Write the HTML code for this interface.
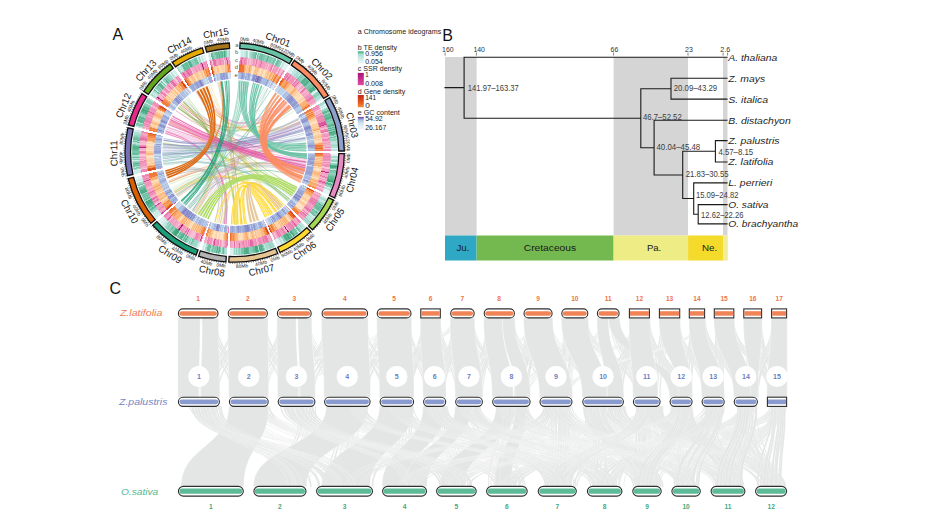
<!DOCTYPE html>
<html><head><meta charset="utf-8"><title>Figure</title><style>
*{margin:0;padding:0;box-sizing:border-box}
html,body{width:926px;height:521px;overflow:hidden;background:#fff}
body{position:relative;font-family:"Liberation Sans",Arial,sans-serif}
.trk{position:absolute;border-radius:50%}
svg{position:absolute;left:0;top:0}
.cn{font-size:9.8px;text-anchor:middle;fill:#151515}
.tk{font-size:4.8px;text-anchor:middle;fill:#222}
.tl{font-size:5.8px;text-anchor:middle;fill:#555;dominant-baseline:central}
.lg{font-size:8px;fill:#1a1a1a}
.lv{font-size:8px;fill:#1a1a1a}
.pl{font-size:16px;fill:#111}
.tick{font-size:7.6px;fill:#333}
.era{font-size:9.6px;fill:#1a1a1a}
.nl{font-size:8.3px;fill:#3c3c3c}
.sp{font-size:9.4px;font-style:italic;fill:#1e1e1e}
.spc{font-size:9.8px;font-style:italic}
.nlat{font-size:6.6px;text-anchor:middle;fill:#ee7548;font-weight:bold}
.npal{font-size:7px;text-anchor:middle;fill:#6b80c4;font-weight:bold}
.nsat{font-size:6.6px;text-anchor:middle;fill:#45a880;font-weight:bold}
.tb{left:131.80px;top:49.60px;width:205.80px;height:205.80px;background:conic-gradient(transparent 0.00deg 2.80deg,#e2f4f4 2.80deg 3.40deg,#ccebe8 3.40deg 4.00deg,#cbebe7 4.00deg 4.60deg,#d7efed 4.60deg 5.20deg,#c3e7e2 5.20deg 5.80deg,#c2e7e2 5.80deg 6.40deg,#9cd6c7 6.40deg 7.00deg,#b2e0d6 7.00deg 7.60deg,#e2f4f4 7.60deg 8.20deg,#bfe6e0 8.20deg 8.80deg,#a2d9cb 8.80deg 9.40deg,#9bd5c5 9.40deg 10.00deg,#8aceb9 10.00deg 10.60deg,#77c5aa 10.60deg 11.20deg,#7cc7ad 11.20deg 11.80deg,#64bc9a 11.80deg 12.40deg,#c6e9e4 12.40deg 13.00deg,#6dc0a2 13.00deg 13.60deg,#9dd6c7 13.60deg 14.20deg,#71c2a5 14.20deg 14.80deg,#72c2a5 14.80deg 15.40deg,#66bd9c 15.40deg 16.00deg,#82cab3 16.00deg 16.60deg,#7ac6ac 16.60deg 17.20deg,#8aceb9 17.20deg 17.80deg,#92d1bf 17.80deg 18.40deg,#7ac6ac 18.40deg 19.00deg,#57b490 19.00deg 19.60deg,#8dcfbb 19.60deg 20.20deg,#83cab3 20.20deg 20.80deg,#80c9b1 20.80deg 21.40deg,#8dcfbb 21.40deg 22.00deg,#8ccfbb 22.00deg 22.60deg,#7ac6ac 22.60deg 23.20deg,#77c5aa 23.20deg 23.80deg,#d2eeeb 23.80deg 24.40deg,#7cc7ae 24.40deg 25.00deg,#6bbfa0 25.00deg 25.60deg,#7fc8b0 25.60deg 26.20deg,#8dcfbc 26.20deg 26.80deg,#95d3c1 26.80deg 27.40deg,#e2f4f4 27.40deg 28.00deg,#bfe6e0 28.00deg 28.60deg,#c9eae6 28.60deg 29.20deg,#e2f4f4 29.20deg 30.40deg,#dff3f2 30.40deg 31.00deg,#e2f4f4 31.00deg 31.60deg,transparent 31.60deg 32.90deg,#ddf2f1 32.90deg 33.50deg,#dbf1f0 33.50deg 34.10deg,#ceece8 34.10deg 34.70deg,#e2f4f4 34.70deg 35.30deg,#c3e8e3 35.30deg 35.90deg,#bde5de 35.90deg 36.50deg,#c2e7e1 36.50deg 37.10deg,#b1e0d6 37.10deg 37.70deg,#acddd2 37.70deg 38.30deg,#b2e0d6 38.30deg 38.90deg,#9dd6c7 38.90deg 39.50deg,#c4e8e3 39.50deg 40.10deg,#74c4a8 40.10deg 40.70deg,#92d1bf 40.70deg 41.30deg,#7cc7ae 41.30deg 41.90deg,#94d2c1 41.90deg 42.50deg,#8dcfbb 42.50deg 43.10deg,#55b38e 43.10deg 43.70deg,#54b28d 43.70deg 44.30deg,#5cb894 44.30deg 44.90deg,#63bb9a 44.90deg 45.50deg,#50af89 45.50deg 46.10deg,#5eb996 46.10deg 46.70deg,#80c9b1 46.70deg 47.30deg,#8cceba 47.30deg 47.90deg,#75c4a8 47.90deg 48.50deg,#6fc1a3 48.50deg 49.10deg,#74c3a7 49.10deg 49.70deg,#55b38e 49.70deg 50.30deg,#51b08a 50.30deg 50.90deg,#48a981 50.90deg 51.50deg,#69be9e 51.50deg 52.10deg,#d9f0ef 52.10deg 52.70deg,#e2f4f4 52.70deg 53.30deg,#b0dfd5 53.30deg 53.90deg,#89cdb8 53.90deg 54.50deg,#8ecfbc 54.50deg 55.10deg,#90d1be 55.10deg 55.70deg,#b1dfd6 55.70deg 56.30deg,#abddd2 56.30deg 56.90deg,#b2e0d6 56.90deg 57.50deg,#ccebe8 57.50deg 58.10deg,#e2f4f4 58.10deg 58.70deg,transparent 58.70deg 60.00deg,#a8dccf 60.00deg 60.60deg,#a9dcd0 60.60deg 61.19deg,#b8e3db 61.19deg 61.79deg,#e2f4f4 61.79deg 62.38deg,#c5e8e3 62.38deg 62.98deg,#e2f4f4 62.98deg 63.58deg,#bee5df 63.58deg 64.17deg,#94d2c0 64.17deg 64.77deg,#8fd0bd 64.77deg 65.36deg,#66bd9c 65.36deg 65.96deg,#59b591 65.96deg 66.56deg,#94d2c0 66.56deg 67.15deg,#77c5aa 67.15deg 67.75deg,#5db895 67.75deg 68.34deg,#6bbfa0 68.34deg 68.94deg,#5ab792 68.94deg 69.53deg,#4ead87 69.53deg 70.13deg,#63bb99 70.13deg 70.73deg,#87ccb7 70.73deg 71.32deg,#6cc0a1 71.32deg 71.92deg,#96d3c2 71.92deg 72.51deg,#80c9b1 72.51deg 73.71deg,#5ab692 73.71deg 74.30deg,#58b590 74.30deg 74.90deg,#8aceb9 74.90deg 75.49deg,#5ab792 75.49deg 76.09deg,#85cbb5 76.09deg 76.69deg,#58b590 76.69deg 77.28deg,#81cab2 77.28deg 77.88deg,#44a67d 77.88deg 78.47deg,#5bb793 78.47deg 79.07deg,#57b490 79.07deg 79.67deg,#77c4a9 79.67deg 80.26deg,#aeded3 80.26deg 80.86deg,#70c1a4 80.86deg 81.45deg,#a6dbce 81.45deg 82.05deg,#91d1be 82.05deg 82.64deg,#92d2bf 82.64deg 83.24deg,#b8e3db 83.24deg 83.84deg,#bce5de 83.84deg 84.43deg,#bfe6e0 84.43deg 85.03deg,#abddd2 85.03deg 85.62deg,#a1d8ca 85.62deg 86.22deg,#b1e0d6 86.22deg 86.82deg,#a7dbcf 86.82deg 87.41deg,#e2f4f4 87.41deg 88.01deg,#bce4de 88.01deg 88.60deg,#bbe4dd 88.60deg 89.20deg,transparent 89.20deg 90.60deg,#e2f4f4 90.60deg 91.19deg,#d8f0ee 91.19deg 91.79deg,#acddd2 91.79deg 92.38deg,#a1d8ca 92.38deg 92.98deg,#d1edea 92.98deg 93.57deg,#b3e1d8 93.57deg 94.17deg,#94d2c0 94.17deg 94.77deg,#8ed0bc 94.77deg 95.36deg,#e2f4f4 95.36deg 95.95deg,#94d3c1 95.95deg 96.55deg,#8ed0bc 96.55deg 97.14deg,#54b28d 97.14deg 97.74deg,#3fa178 97.74deg 98.33deg,#4bab84 98.33deg 98.93deg,#75c4a8 98.93deg 99.52deg,#c0e7e1 99.53deg 100.12deg,#6fc1a3 100.12deg 100.72deg,#83cab3 100.72deg 101.31deg,#78c5aa 101.31deg 101.91deg,#9bd6c6 101.91deg 102.50deg,#89cdb9 102.50deg 103.09deg,#7fc8b0 103.09deg 103.69deg,#68be9e 103.69deg 104.28deg,#63bb99 104.28deg 104.88deg,#5eb995 104.88deg 105.47deg,#57b48f 105.47deg 106.07deg,#45a67e 106.07deg 106.67deg,#3da077 106.67deg 107.26deg,#9ed7c8 107.26deg 107.86deg,#58b590 107.86deg 108.45deg,#59b591 108.45deg 109.05deg,#87ccb6 109.05deg 109.64deg,#87ccb7 109.64deg 110.23deg,#e0f3f3 110.23deg 110.83deg,#b5e1d9 110.83deg 111.43deg,#bae4dc 111.43deg 112.02deg,#e2f4f4 112.02deg 114.40deg,transparent 114.40deg 115.70deg,#e2f4f4 115.70deg 116.89deg,#bbe4dd 116.89deg 117.49deg,#a7dbcf 117.49deg 118.09deg,#afdfd4 118.09deg 118.68deg,#c8eae5 118.68deg 119.28deg,#bce5de 119.28deg 119.88deg,#a0d8ca 119.88deg 120.48deg,#9ed7c8 120.48deg 121.07deg,#5cb894 121.07deg 121.67deg,#81c9b2 121.67deg 122.27deg,#6cbfa0 122.27deg 122.86deg,#68bd9d 122.86deg 123.46deg,#6cc0a1 123.46deg 124.06deg,#60ba97 124.06deg 124.65deg,#8aceb9 124.65deg 125.25deg,#aeded4 125.25deg 125.85deg,#60ba97 125.85deg 126.44deg,#7fc9b0 126.44deg 127.04deg,#8bceba 127.04deg 127.64deg,#69be9f 127.64deg 128.23deg,#7dc8af 128.23deg 128.83deg,#d1edea 128.83deg 130.03deg,#aeded4 130.03deg 130.62deg,#cdebe8 130.62deg 131.22deg,#a8dccf 131.22deg 131.82deg,#c2e7e2 131.82deg 132.41deg,#88cdb7 132.41deg 133.01deg,#aeded3 133.01deg 133.61deg,#92d1bf 133.61deg 134.20deg,#b2e0d6 134.20deg 134.80deg,transparent 134.80deg 136.20deg,#d8f0ee 136.20deg 136.81deg,#b9e3db 136.81deg 137.41deg,#c3e8e2 137.41deg 138.02deg,#a1d8ca 138.02deg 138.62deg,#ceece9 138.62deg 139.23deg,#a2d9cb 139.23deg 139.84deg,#8bceba 139.84deg 140.44deg,#64bc9a 140.44deg 141.05deg,#cbebe7 141.05deg 141.66deg,#86ccb6 141.66deg 142.26deg,#68be9e 142.26deg 142.87deg,#7dc8af 142.87deg 143.47deg,#75c4a8 143.47deg 144.08deg,#58b590 144.08deg 144.69deg,#47a881 144.69deg 145.29deg,#95d3c1 145.29deg 145.90deg,#55b28d 145.90deg 146.51deg,#6dc0a1 146.51deg 147.11deg,#44a57d 147.11deg 147.72deg,#4bab84 147.72deg 148.32deg,#58b590 148.32deg 148.93deg,#50af88 148.93deg 149.54deg,#56b38e 149.54deg 150.14deg,#9ad5c5 150.14deg 150.75deg,#89cdb8 150.75deg 151.36deg,#d4efec 151.36deg 151.96deg,#bae4dc 151.96deg 152.57deg,#b7e2da 152.57deg 153.17deg,#d4eeec 153.17deg 153.78deg,#e2f4f4 153.78deg 154.39deg,#dcf2f1 154.39deg 154.99deg,#daf1ef 154.99deg 155.60deg,transparent 155.60deg 156.90deg,#bbe4dd 156.90deg 157.50deg,#9ad5c5 157.50deg 158.09deg,#a4dacd 158.09deg 158.69deg,#97d4c3 158.69deg 159.28deg,#95d3c1 159.28deg 159.88deg,#a9dcd0 159.88deg 160.47deg,#aeded3 160.47deg 161.07deg,#a2d9cb 161.07deg 161.66deg,#b2e0d6 161.66deg 162.26deg,#bbe4dd 162.26deg 162.85deg,#8dcfbb 162.85deg 163.45deg,#68be9e 163.45deg 164.05deg,#4bab84 164.05deg 164.64deg,#58b590 164.64deg 165.24deg,#4fae88 165.24deg 165.83deg,#afdfd5 165.83deg 166.43deg,#51b08a 166.43deg 167.02deg,#44a67e 167.02deg 167.62deg,#48a881 167.62deg 168.21deg,#69be9e 168.21deg 168.81deg,#69be9f 168.81deg 169.40deg,#7cc7ae 169.40deg 170.00deg,#85cbb5 170.00deg 170.60deg,#89cdb8 170.60deg 171.19deg,#8bceba 171.19deg 171.79deg,#59b692 171.79deg 172.38deg,#4fae88 172.38deg 172.98deg,#4dad86 172.98deg 173.57deg,#53b18c 173.57deg 174.17deg,#52b08b 174.17deg 174.76deg,#7ac6ac 174.76deg 175.36deg,#72c2a5 175.36deg 175.95deg,#7ac6ac 175.95deg 176.55deg,#a0d8c9 176.55deg 177.15deg,#8bceba 177.15deg 177.74deg,#9bd5c6 177.74deg 178.34deg,#b3e1d8 178.34deg 178.93deg,#90d0be 178.93deg 179.53deg,#bae4dc 179.53deg 180.12deg,#9bd6c6 180.12deg 180.72deg,#c8eae5 180.72deg 181.31deg,#dcf2f1 181.31deg 181.91deg,#dbf1f0 181.91deg 182.50deg,#d9f0ef 182.50deg 183.10deg,transparent 183.10deg 184.60deg,#b2e0d6 184.60deg 185.21deg,#b7e2da 185.21deg 185.82deg,#9ed7c8 185.82deg 186.42deg,#67bd9d 186.42deg 187.03deg,#88cdb8 187.03deg 187.64deg,#b5e2d9 187.64deg 188.25deg,#80c9b1 188.25deg 188.86deg,#4dad86 188.86deg 189.47deg,#82cab3 189.47deg 190.07deg,#4aaa83 190.07deg 190.68deg,#7fc9b1 190.68deg 191.29deg,#73c3a7 191.29deg 191.90deg,#8ccfbb 191.90deg 192.51deg,#6ec1a3 192.51deg 193.12deg,#89cdb8 193.12deg 193.72deg,#a5dacd 193.72deg 194.33deg,#67bd9d 194.33deg 194.94deg,#6bbfa0 194.94deg 195.55deg,#6fc1a3 195.55deg 196.16deg,#9fd7c9 196.16deg 196.77deg,#abddd1 196.77deg 197.37deg,#e2f4f4 197.38deg 197.98deg,#ccebe8 197.98deg 198.59deg,#e0f3f3 198.59deg 199.20deg,transparent 199.20deg 200.60deg,#e2f4f4 200.60deg 201.20deg,#d3eeec 201.20deg 201.81deg,#b9e3db 201.81deg 202.41deg,#a0d8ca 202.41deg 203.02deg,#a1d8ca 203.02deg 204.23deg,#9ad5c5 204.23deg 204.83deg,#8dcfbb 204.83deg 205.43deg,#6ec0a2 205.43deg 206.04deg,#afded4 206.04deg 206.64deg,#82cab2 206.64deg 207.25deg,#bbe4dd 207.25deg 207.85deg,#91d1be 207.85deg 208.46deg,#8fd0bd 208.46deg 209.06deg,#59b691 209.06deg 209.67deg,#88cdb8 209.67deg 210.27deg,#65bc9b 210.27deg 210.87deg,#98d4c4 210.87deg 211.48deg,#55b38e 211.48deg 212.08deg,#54b28d 212.08deg 212.69deg,#68bd9d 212.69deg 213.29deg,#7ac6ac 213.29deg 213.90deg,#68be9d 213.90deg 214.50deg,#aeded4 214.50deg 215.10deg,#48a981 215.10deg 215.71deg,#42a47c 215.71deg 216.31deg,#3fa279 216.31deg 216.92deg,#4dad86 216.92deg 217.52deg,#56b48f 217.52deg 218.13deg,#87ccb7 218.13deg 218.73deg,#91d1be 218.73deg 219.33deg,#6cbfa1 219.33deg 219.94deg,#85cbb5 219.94deg 220.54deg,#9dd7c8 220.54deg 221.15deg,#87ccb7 221.15deg 221.75deg,#8bceba 221.75deg 222.36deg,#a0d8c9 222.36deg 222.96deg,#90d0bd 222.96deg 223.57deg,#c3e7e2 223.57deg 224.17deg,#c6e9e4 224.17deg 224.77deg,#c7e9e5 224.77deg 225.38deg,#e2f4f4 225.38deg 225.98deg,#cfece9 225.98deg 226.59deg,#e2f4f4 226.59deg 227.80deg,#ceece9 227.80deg 228.40deg,transparent 228.40deg 229.80deg,#cbebe7 229.80deg 230.40deg,#d8f0ee 230.40deg 231.00deg,#c9eae6 231.00deg 232.20deg,#caeae6 232.20deg 232.80deg,#d1edea 232.80deg 233.40deg,#bce5de 233.40deg 234.00deg,#9dd6c7 234.00deg 234.60deg,#90d0be 234.60deg 235.20deg,#71c2a5 235.20deg 235.80deg,#59b691 235.80deg 236.40deg,#8fd0bd 236.40deg 237.00deg,#5bb793 237.00deg 237.60deg,#5db895 237.60deg 238.20deg,#5ab692 238.20deg 238.80deg,#4aaa83 238.80deg 240.60deg,#3c9f76 240.60deg 241.20deg,#96d3c2 241.20deg 241.80deg,#60ba97 241.80deg 242.40deg,#75c4a8 242.40deg 243.00deg,#81cab2 243.00deg 243.60deg,#63bb99 243.60deg 244.20deg,#87ccb6 244.20deg 244.80deg,#6ec0a2 244.80deg 245.40deg,#92d1bf 245.40deg 246.00deg,#4bab84 246.00deg 246.60deg,#4ead87 246.60deg 247.20deg,#50af89 247.20deg 247.80deg,#58b590 247.80deg 248.40deg,#65bc9b 248.40deg 249.00deg,#71c2a5 249.00deg 249.60deg,#78c5ab 249.60deg 250.20deg,#cdece8 250.20deg 250.80deg,#70c1a4 250.80deg 251.40deg,#98d4c4 251.40deg 252.00deg,#a3d9cb 252.00deg 252.60deg,#e2f4f4 252.60deg 253.20deg,#cfece9 253.20deg 253.80deg,#caeae6 253.80deg 254.40deg,#e1f4f4 254.40deg 255.00deg,#e2f4f4 255.00deg 255.60deg,#dff3f2 255.60deg 256.20deg,transparent 256.20deg 257.80deg,#cbebe7 257.80deg 258.40deg,#cdece8 258.40deg 259.00deg,#c3e7e2 259.00deg 259.60deg,#e0f3f3 259.60deg 260.20deg,#96d3c2 260.20deg 260.80deg,#7dc8af 260.80deg 261.40deg,#aeded4 261.40deg 262.00deg,#69be9f 262.00deg 262.60deg,#78c5ab 262.60deg 263.20deg,#58b590 263.20deg 263.80deg,#7fc8b0 263.80deg 264.40deg,#9cd6c6 264.40deg 265.00deg,#c8eae5 265.00deg 265.60deg,#89cdb9 265.60deg 266.20deg,#b2e0d6 266.20deg 266.80deg,#64bc9a 266.80deg 267.40deg,#9fd7c8 267.40deg 268.00deg,#afdfd4 268.00deg 268.60deg,#70c1a4 268.60deg 269.20deg,#61ba98 269.20deg 269.80deg,#78c5aa 269.80deg 270.40deg,#76c4a9 270.40deg 271.00deg,#6abfa0 271.00deg 271.60deg,#5fb996 271.60deg 272.20deg,#53b18b 272.20deg 273.40deg,#5ab692 273.40deg 274.00deg,#82cab2 274.00deg 274.60deg,#abddd1 274.60deg 275.20deg,#bee5df 275.20deg 275.80deg,#65bc9b 275.80deg 276.40deg,#a0d8c9 276.40deg 277.00deg,#62bb98 277.00deg 277.60deg,#6ec0a2 277.60deg 278.20deg,#70c2a4 278.20deg 278.80deg,#86ccb6 278.80deg 279.40deg,#98d4c4 279.40deg 280.00deg,#a2d9cb 280.00deg 280.60deg,#added3 280.60deg 281.20deg,#aeded4 281.20deg 281.80deg,#d1edea 281.80deg 282.40deg,#c7e9e5 282.40deg 283.00deg,transparent 283.00deg 284.50deg,#c5e8e3 284.50deg 285.10deg,#98d4c4 285.10deg 285.69deg,#81cab2 285.69deg 286.29deg,#79c6ab 286.29deg 286.89deg,#aeded3 286.89deg 287.48deg,#64bc9b 287.48deg 288.08deg,#56b48f 288.08deg 288.68deg,#5cb894 288.68deg 289.27deg,#6dc0a1 289.27deg 289.87deg,#57b490 289.87deg 290.47deg,#67bd9d 290.47deg 291.06deg,#92d1bf 291.06deg 292.26deg,#88cdb7 292.26deg 292.85deg,#6bbfa0 292.85deg 293.45deg,#4bab84 293.45deg 294.05deg,#53b18b 294.05deg 294.64deg,#40a279 294.64deg 295.24deg,#58b590 295.24deg 295.84deg,#5db995 295.84deg 296.43deg,#56b38e 296.43deg 297.03deg,#75c4a8 297.03deg 297.63deg,#88ccb7 297.63deg 298.22deg,#86ccb5 298.22deg 298.82deg,#cdece8 298.82deg 299.42deg,#8ccfbb 299.42deg 300.61deg,#8aceb9 300.61deg 301.21deg,#a1d8ca 301.21deg 301.80deg,#c1e7e1 301.80deg 302.40deg,transparent 302.40deg 303.90deg,#c2e7e2 303.90deg 304.51deg,#a3d9cb 304.51deg 305.11deg,#cbebe7 305.11deg 305.72deg,#c6e9e4 305.72deg 306.32deg,#bde5df 306.32deg 306.93deg,#a5dacd 306.93deg 307.54deg,#67bd9d 307.54deg 308.14deg,#c4e8e3 308.14deg 308.75deg,#84cbb4 308.75deg 309.35deg,#88cdb7 309.35deg 309.96deg,#7ac6ac 309.96deg 310.57deg,#8ed0bc 310.57deg 311.17deg,#4aaa83 311.17deg 311.78deg,#64bc9b 311.78deg 312.38deg,#5cb894 312.38deg 312.99deg,#bae4dc 312.99deg 313.60deg,#75c4a8 313.60deg 314.20deg,#d2eeeb 314.20deg 314.81deg,#8ed0bc 314.81deg 315.42deg,#96d3c2 315.42deg 316.02deg,#57b590 316.02deg 316.63deg,#90d0be 316.63deg 317.23deg,#76c4a9 317.23deg 317.84deg,#98d4c3 317.84deg 318.45deg,#97d4c3 318.45deg 319.05deg,#a7dbcf 319.05deg 319.66deg,#abddd2 319.66deg 320.26deg,#d5efed 320.26deg 320.87deg,#b2e0d7 320.87deg 321.48deg,#cbebe7 321.48deg 322.08deg,#e2f4f4 322.08deg 322.69deg,#d6efed 322.69deg 323.29deg,#d3eeeb 323.29deg 323.90deg,transparent 323.90deg 325.30deg,#97d4c3 325.30deg 325.90deg,#abddd2 325.90deg 326.51deg,#c8eae5 326.51deg 327.11deg,#c1e7e1 327.11deg 327.71deg,#b6e2d9 327.71deg 328.32deg,#72c2a6 328.32deg 328.92deg,#5bb793 328.92deg 329.52deg,#72c2a6 329.52deg 330.13deg,#6abe9f 330.13deg 330.73deg,#64bc9a 330.73deg 331.33deg,#65bc9b 331.33deg 331.94deg,#8ccfbb 331.94deg 332.54deg,#49a982 332.54deg 333.14deg,#53b18b 333.14deg 333.75deg,#7ac6ac 333.75deg 334.35deg,#91d1bf 334.35deg 334.96deg,#8dcfbb 334.96deg 335.56deg,#88cdb7 335.56deg 336.16deg,#78c5aa 336.16deg 336.77deg,#72c2a5 336.77deg 337.37deg,#7ac6ac 337.37deg 337.97deg,#cfece9 337.97deg 338.58deg,#9dd6c7 338.58deg 339.18deg,#a3d9cc 339.18deg 339.78deg,#e2f4f4 339.78deg 340.39deg,#bde5de 340.39deg 340.99deg,#d5efed 340.99deg 341.59deg,#e2f4f4 341.59deg 342.20deg,#d8f0ef 342.20deg 342.80deg,transparent 342.80deg 344.40deg,#e2f4f4 344.40deg 345.01deg,#bae4dc 345.01deg 345.62deg,#e0f3f3 345.62deg 346.23deg,#5cb894 346.23deg 346.84deg,#6bbfa0 346.84deg 347.45deg,#8ecfbc 347.45deg 348.06deg,#8bceba 348.06deg 348.67deg,#6fc1a3 348.67deg 349.28deg,#64bc9a 349.28deg 349.89deg,#72c2a5 349.89deg 350.50deg,#54b28c 350.50deg 351.10deg,#74c3a8 351.10deg 351.71deg,#66bc9c 351.71deg 352.32deg,#5ab792 352.32deg 352.93deg,#83cab4 352.93deg 353.54deg,#4aaa83 353.54deg 354.15deg,#74c3a7 354.15deg 354.76deg,#88cdb8 354.76deg 355.37deg,#c0e6e1 355.37deg 355.98deg,#b9e3dc 355.98deg 356.59deg,#9ad5c5 356.59deg 357.20deg,transparent 357.20deg 360.00deg)}
.tc{left:138.80px;top:56.60px;width:191.80px;height:191.80px;background:conic-gradient(transparent 0.00deg 2.80deg,#f39fc1 2.80deg 3.40deg,#e978ad 3.40deg 4.00deg,#db579f 4.00deg 4.60deg,#ef8fb8 4.60deg 5.20deg,#f39dc0 5.20deg 5.80deg,#ed86b3 5.80deg 6.40deg,#ef8eb7 6.40deg 7.00deg,#f196bc 7.00deg 7.60deg,#f9c8d8 7.60deg 8.20deg,#f5acc8 8.20deg 8.80deg,#f7bdd2 8.80deg 9.40deg,#f8c0d4 9.40deg 10.00deg,#f5abc7 10.00deg 10.60deg,#f6b5cd 10.60deg 11.20deg,#f093ba 11.20deg 11.80deg,#f29bbf 11.80deg 12.40deg,#f5adc9 12.40deg 13.00deg,#ec81b0 13.00deg 13.60deg,#f4a3c3 13.60deg 14.20deg,#f5adc9 14.20deg 14.80deg,#f29cbf 14.80deg 15.40deg,#f091b9 15.40deg 16.00deg,#e878ac 16.00deg 16.60deg,#f29abe 16.60deg 17.20deg,#f29bbe 17.20deg 17.80deg,#f3a1c2 17.80deg 18.40deg,#f3a0c1 18.40deg 19.00deg,#f4a3c3 19.00deg 19.60deg,#f6b2cc 19.60deg 20.20deg,#f4a6c5 20.20deg 20.80deg,#f8c2d4 20.80deg 21.40deg,#f5a8c6 21.40deg 22.00deg,#f4a6c5 22.00deg 22.60deg,#ef8fb8 22.60deg 23.20deg,#e978ad 23.20deg 23.80deg,#f9c7d7 23.80deg 24.40deg,#f091b9 24.40deg 25.00deg,#f3a0c1 25.00deg 25.60deg,#f39fc1 25.60deg 26.20deg,#f194bb 26.20deg 26.80deg,#f3a1c2 26.80deg 27.40deg,#f9c8d8 27.40deg 28.00deg,#ee89b5 28.00deg 28.60deg,#f5adc9 28.60deg 29.20deg,#f8bfd3 29.20deg 29.80deg,#f7b7ce 29.80deg 30.40deg,#ec80b0 30.40deg 31.00deg,#f6b0ca 31.00deg 31.60deg,transparent 31.60deg 32.90deg,#ed85b3 32.90deg 33.50deg,#ef8cb7 33.50deg 34.10deg,#e774ab 34.10deg 34.70deg,#f5a8c6 34.70deg 35.30deg,#e167a5 35.30deg 35.90deg,#ee88b4 35.90deg 36.50deg,#f5a8c6 36.50deg 37.10deg,#f093ba 37.10deg 37.70deg,#f090b9 37.70deg 38.30deg,#f197bd 38.30deg 38.90deg,#f08fb8 38.90deg 39.50deg,#f7bad0 39.50deg 40.10deg,#e774ab 40.10deg 40.70deg,#ef8fb8 40.70deg 41.30deg,#f299be 41.30deg 41.90deg,#df61a3 41.90deg 42.50deg,#f4a4c3 42.50deg 43.10deg,#f7b8cf 43.10deg 43.70deg,#f6b5cd 43.70deg 44.30deg,#f8c2d5 44.30deg 44.90deg,#f7b6ce 44.90deg 45.50deg,#f3a0c1 45.50deg 46.10deg,#f8c3d5 46.10deg 46.70deg,#f5adc9 46.70deg 47.30deg,#e978ad 47.30deg 47.90deg,#f298bd 47.90deg 48.50deg,#f6afca 48.50deg 49.10deg,#f7b8cf 49.10deg 49.70deg,#f299bd 49.70deg 50.30deg,#f6b3cc 50.30deg 50.90deg,#f5a9c6 50.90deg 51.50deg,#f298bd 51.50deg 52.70deg,#ef8eb8 52.70deg 53.30deg,#ee8bb6 53.30deg 53.90deg,#e774ab 53.90deg 55.10deg,#ef8db7 55.10deg 55.70deg,#f5aec9 55.70deg 56.30deg,#f39dbf 56.30deg 56.90deg,#f29bbf 56.90deg 57.50deg,#f5adc9 57.50deg 58.10deg,#f9c8d8 58.10deg 58.70deg,transparent 58.70deg 60.00deg,#f093ba 60.00deg 60.60deg,#f29bbf 60.60deg 61.19deg,#ea7cae 61.19deg 61.79deg,#f5a9c6 61.79deg 62.38deg,#f196bc 62.38deg 62.98deg,#f9c8d8 62.98deg 63.58deg,#f5a9c6 63.58deg 64.17deg,#f7b9d0 64.17deg 64.77deg,#f7bbd1 64.77deg 65.36deg,#f090b9 65.36deg 65.96deg,#f5abc8 65.96deg 66.56deg,#f093ba 66.56deg 67.15deg,#ec80b0 67.15deg 67.75deg,#ef8cb6 67.75deg 68.34deg,#ee88b4 68.34deg 68.94deg,#ee87b4 68.94deg 69.53deg,#ed83b2 69.53deg 70.13deg,#ef8eb7 70.13deg 70.73deg,#da569e 70.73deg 71.32deg,#db569f 71.32deg 71.92deg,#de5ea2 71.92deg 72.51deg,#cb3f93 72.51deg 73.11deg,#f299be 73.11deg 73.71deg,#f091b9 73.71deg 74.30deg,#f7b8cf 74.30deg 74.90deg,#f7b9cf 74.90deg 75.49deg,#ed84b2 75.49deg 76.09deg,#ed82b1 76.09deg 76.69deg,#e56fa9 76.69deg 77.28deg,#f9c8d8 77.28deg 77.88deg,#f6aec9 77.88deg 78.47deg,#f298bd 78.47deg 79.07deg,#f197bc 79.07deg 79.67deg,#f195bb 79.67deg 80.26deg,#f6b3cc 80.26deg 80.86deg,#f5abc8 80.86deg 81.45deg,#ee87b4 81.45deg 82.05deg,#ee8bb6 82.05deg 82.64deg,#f5a8c6 82.64deg 83.24deg,#f5aec9 83.24deg 83.84deg,#f196bc 83.84deg 84.43deg,#f5adc9 84.43deg 85.03deg,#f4a3c3 85.03deg 85.62deg,#f6b5cd 85.62deg 86.22deg,#f6b0ca 86.22deg 86.82deg,#ee8bb6 86.82deg 87.41deg,#f9c8d8 87.41deg 88.01deg,#f195bc 88.01deg 88.60deg,#ea7cae 88.60deg 89.20deg,transparent 89.20deg 90.60deg,#f093ba 90.60deg 91.19deg,#f39fc1 91.19deg 91.79deg,#ef8cb6 91.79deg 92.38deg,#ef8eb8 92.38deg 92.98deg,#ed83b2 92.98deg 93.57deg,#f29bbf 93.57deg 94.17deg,#ee8ab6 94.17deg 94.77deg,#f091b9 94.77deg 95.36deg,#f7b9d0 95.36deg 95.95deg,#ef8fb8 95.95deg 96.55deg,#f5acc8 96.55deg 97.14deg,#f194bb 97.14deg 97.74deg,#ef8eb8 97.74deg 98.33deg,#f094bb 98.33deg 98.93deg,#f9c7d8 98.93deg 99.52deg,#f9c6d7 99.53deg 100.12deg,#f29cbf 100.12deg 100.72deg,#f4a6c5 100.72deg 101.31deg,#f194bb 101.31deg 101.91deg,#bc2b89 101.91deg 102.50deg,#f5aac7 102.50deg 103.09deg,#f39fc1 103.09deg 103.69deg,#f5a9c6 103.69deg 104.88deg,#e877ac 104.88deg 105.47deg,#f299be 105.47deg 106.07deg,#f9c5d6 106.07deg 106.67deg,#f198bd 106.67deg 107.26deg,#f7b9d0 107.26deg 107.86deg,#eb7eaf 107.86deg 108.45deg,#de5da2 108.45deg 109.05deg,#ee88b4 109.05deg 109.64deg,#f4a4c4 109.64deg 110.23deg,#f8c1d4 110.23deg 110.83deg,#f4a1c2 110.83deg 111.43deg,#ef8eb8 111.43deg 112.02deg,#f8c0d3 112.02deg 112.62deg,#f6b2cc 112.62deg 113.21deg,#f197bc 113.21deg 113.81deg,#f39fc1 113.81deg 114.40deg,transparent 114.40deg 115.70deg,#f195bb 115.70deg 116.30deg,#f8bdd2 116.30deg 116.89deg,#f5a9c6 116.89deg 117.49deg,#f194bb 117.49deg 118.09deg,#f5a9c6 118.09deg 119.28deg,#f5aac7 119.28deg 119.88deg,#f090b8 119.88deg 120.48deg,#ea7bae 120.48deg 121.07deg,#ee88b4 121.07deg 121.67deg,#e774ab 121.67deg 122.27deg,#ed85b2 122.27deg 122.86deg,#eb7caf 122.86deg 123.46deg,#f090b9 123.46deg 124.06deg,#f39ec0 124.06deg 124.65deg,#f4a6c4 124.65deg 125.25deg,#f4a1c2 125.25deg 125.85deg,#f195bc 125.85deg 126.44deg,#f39ec0 126.44deg 127.04deg,#ec82b1 127.04deg 127.64deg,#e56fa9 127.64deg 128.23deg,#ed84b2 128.23deg 128.83deg,#f6b4cc 128.83deg 129.43deg,#f6b4cd 129.43deg 130.03deg,#ed85b3 130.03deg 130.62deg,#f7b9d0 130.62deg 131.22deg,#e673aa 131.22deg 131.82deg,#f29abe 131.82deg 132.41deg,#ec81b1 132.41deg 133.01deg,#f39fc1 133.01deg 133.61deg,#f4a4c3 133.61deg 134.20deg,#f39ec0 134.20deg 134.80deg,transparent 134.80deg 136.20deg,#f090b9 136.20deg 136.81deg,#eb7eaf 136.81deg 137.41deg,#f5acc8 137.41deg 138.02deg,#f4a4c4 138.02deg 139.23deg,#f195bb 139.23deg 139.84deg,#df62a3 139.84deg 140.44deg,#ed84b2 140.44deg 141.05deg,#f39fc1 141.05deg 141.66deg,#ec82b1 141.66deg 142.26deg,#ee87b4 142.26deg 142.87deg,#ed83b2 142.87deg 143.47deg,#ef8fb8 143.47deg 144.08deg,#f196bc 144.08deg 144.69deg,#f091b9 144.69deg 145.29deg,#f7b8cf 145.29deg 145.90deg,#a8107c 145.90deg 146.51deg,#f7bbd1 146.51deg 147.11deg,#f5adc9 147.11deg 147.72deg,#ed84b2 147.72deg 148.32deg,#eb7faf 148.32deg 148.93deg,#f299be 148.93deg 149.54deg,#f195bb 149.54deg 150.14deg,#f3a0c1 150.14deg 150.75deg,#ec80b0 150.75deg 151.36deg,#f090b9 151.36deg 151.96deg,#e56fa9 151.96deg 152.57deg,#f39ec0 152.57deg 153.17deg,#f6afca 153.17deg 153.78deg,#f9c8d8 153.78deg 154.39deg,#f4a6c5 154.39deg 154.99deg,#f4a1c2 154.99deg 155.60deg,transparent 155.60deg 156.90deg,#f195bc 156.90deg 157.50deg,#f6b3cc 157.50deg 158.09deg,#f4a6c5 158.09deg 158.69deg,#f5adc9 158.69deg 159.28deg,#e877ac 159.28deg 159.88deg,#e97aad 159.88deg 160.47deg,#eb7eaf 160.47deg 161.07deg,#ef8eb8 161.07deg 161.66deg,#e979ad 161.66deg 162.26deg,#f197bc 162.26deg 162.85deg,#f29cbf 162.85deg 163.45deg,#ef8eb8 163.45deg 164.05deg,#ef8bb6 164.05deg 164.64deg,#ef8eb8 164.64deg 165.24deg,#f5aac7 165.24deg 165.83deg,#f7b6ce 165.83deg 166.43deg,#f092ba 166.43deg 167.02deg,#ef8cb7 167.02deg 167.62deg,#f4a3c3 167.62deg 168.21deg,#ee8bb6 168.21deg 168.81deg,#e36aa7 168.81deg 170.00deg,#e063a4 170.00deg 170.60deg,#f194bb 170.60deg 171.19deg,#ed86b3 171.19deg 171.79deg,#f5a8c6 171.79deg 172.38deg,#f091b9 172.38deg 172.98deg,#f298bd 172.98deg 173.57deg,#f4a3c3 173.57deg 174.17deg,#eb7daf 174.17deg 174.76deg,#f090b9 174.76deg 175.36deg,#f4a1c2 175.36deg 177.15deg,#e36ba7 177.15deg 177.74deg,#f4a2c3 177.74deg 178.34deg,#f4a5c4 178.34deg 178.93deg,#f4a3c3 178.93deg 179.53deg,#f7bad0 179.53deg 180.12deg,#e773ab 180.12deg 180.72deg,#f7bcd1 180.72deg 181.31deg,#f5aac7 181.31deg 181.91deg,#f4a6c5 181.91deg 182.50deg,#f299be 182.50deg 183.10deg,transparent 183.10deg 184.60deg,#ec81b1 184.60deg 185.21deg,#ec82b1 185.21deg 185.82deg,#f194bb 185.82deg 186.42deg,#f5abc8 186.42deg 187.03deg,#f7b7ce 187.03deg 187.64deg,#f9c8d8 187.64deg 188.25deg,#f5adc9 188.25deg 188.86deg,#f092ba 188.86deg 189.47deg,#f9c5d6 189.47deg 190.07deg,#ec80b0 190.07deg 190.68deg,#ef8fb8 190.68deg 191.29deg,#f094bb 191.29deg 191.90deg,#f093ba 191.90deg 192.51deg,#d24898 192.51deg 193.12deg,#ec81b0 193.12deg 193.72deg,#f9c8d8 193.72deg 194.33deg,#f4a1c2 194.33deg 194.94deg,#ef8db7 194.94deg 195.55deg,#f4a4c4 195.55deg 196.16deg,#ef8bb6 196.16deg 196.77deg,#ee87b4 196.77deg 197.37deg,#f8c3d5 197.38deg 197.98deg,#f4a5c4 197.98deg 198.59deg,#f5adc9 198.59deg 199.20deg,transparent 199.20deg 200.60deg,#f299be 200.60deg 201.20deg,#c93c92 201.20deg 201.81deg,#f7b6ce 201.81deg 202.41deg,#f39ec0 202.41deg 203.02deg,#f29cbf 203.02deg 203.62deg,#ed86b3 203.62deg 204.23deg,#ee89b5 204.23deg 204.83deg,#ed86b3 204.83deg 205.43deg,#f6b1cb 205.43deg 206.04deg,#f9c8d8 206.04deg 206.64deg,#f7bad0 206.64deg 207.25deg,#f9c8d8 207.25deg 207.85deg,#f7bbd1 207.85deg 208.46deg,#f6b5cd 208.46deg 209.06deg,#f5a8c6 209.06deg 209.67deg,#f7bcd1 209.67deg 210.27deg,#df60a3 210.27deg 210.87deg,#f5acc8 210.87deg 211.48deg,#e570a9 211.48deg 212.08deg,#f39fc1 212.08deg 212.69deg,#f4a4c4 212.69deg 213.29deg,#f198bd 213.29deg 213.90deg,#f093ba 213.90deg 214.50deg,#f6b2cb 214.50deg 215.10deg,#e978ad 215.10deg 215.71deg,#a8107c 215.71deg 216.31deg,#ed83b2 216.31deg 216.92deg,#f39fc1 216.92deg 217.52deg,#f8c0d3 217.52deg 218.13deg,#f6afca 218.13deg 218.73deg,#f5a9c7 218.73deg 219.94deg,#f4a2c2 219.94deg 220.54deg,#f39dc0 220.54deg 221.15deg,#f5adc9 221.15deg 221.75deg,#f4a4c4 221.75deg 222.36deg,#ef8fb8 222.36deg 222.96deg,#f4a3c3 222.96deg 223.57deg,#f9c8d8 223.57deg 224.17deg,#f4a4c3 224.17deg 224.77deg,#de5da2 224.77deg 225.38deg,#f4a1c2 225.38deg 225.98deg,#f39dc0 225.98deg 226.59deg,#f299be 226.59deg 227.19deg,#ee87b4 227.19deg 227.80deg,#eb7daf 227.80deg 228.40deg,transparent 228.40deg 229.80deg,#cb3f94 229.80deg 230.40deg,#ef8fb8 230.40deg 231.00deg,#f6afca 231.00deg 231.60deg,#f5acc8 231.60deg 232.20deg,#f3a0c1 232.20deg 232.80deg,#ed86b3 232.80deg 233.40deg,#f29cbf 233.40deg 234.00deg,#f4a1c2 234.00deg 234.60deg,#f39fc1 234.60deg 235.20deg,#f4a2c3 235.20deg 235.80deg,#d24898 235.80deg 236.40deg,#f9c8d8 236.40deg 237.00deg,#f7bad0 237.00deg 237.60deg,#f3a1c2 237.60deg 238.20deg,#ea7aae 238.20deg 238.80deg,#f194bb 238.80deg 239.40deg,#f39ec0 239.40deg 240.00deg,#e36ba7 240.00deg 240.60deg,#eb7eaf 240.60deg 241.20deg,#f7bad0 241.20deg 241.80deg,#f6aec9 241.80deg 242.40deg,#f4a2c3 242.40deg 243.00deg,#f090b9 243.00deg 243.60deg,#f093ba 243.60deg 244.20deg,#e774ab 244.20deg 244.80deg,#ef8cb6 244.80deg 245.40deg,#f6b3cc 245.40deg 246.00deg,#f29cbf 246.00deg 246.60deg,#f4a6c5 246.60deg 247.20deg,#f7b6ce 247.20deg 248.40deg,#f39dbf 248.40deg 249.00deg,#f29cbf 249.00deg 249.60deg,#ee89b5 249.60deg 250.20deg,#f299be 250.20deg 250.80deg,#f090b9 250.80deg 251.40deg,#f4a6c5 251.40deg 252.00deg,#ce4395 252.00deg 252.60deg,#f29abe 252.60deg 253.20deg,#ed86b3 253.20deg 253.80deg,#f39ec0 253.80deg 254.40deg,#f299bd 254.40deg 255.00deg,#ec7fb0 255.00deg 255.60deg,#f197bc 255.60deg 256.20deg,transparent 256.20deg 257.80deg,#ee88b4 257.80deg 258.40deg,#ed86b3 258.40deg 259.00deg,#ee8ab5 259.00deg 259.60deg,#f9c8d8 259.60deg 260.20deg,#f6b1cb 260.20deg 260.80deg,#f5acc8 260.80deg 261.40deg,#f298bd 261.40deg 262.00deg,#f29bbf 262.00deg 263.20deg,#f091b9 263.20deg 263.80deg,#f196bc 263.80deg 264.40deg,#ed84b2 264.40deg 265.00deg,#f7b7ce 265.00deg 265.60deg,#f39ec0 265.60deg 266.20deg,#f8c1d4 266.20deg 266.80deg,#f198bd 266.80deg 267.40deg,#f7b6ce 267.40deg 268.00deg,#f9c8d8 268.00deg 268.60deg,#f8c2d5 268.60deg 269.20deg,#f299bd 269.20deg 269.80deg,#ea7bae 269.80deg 270.40deg,#ed84b2 270.40deg 271.00deg,#f8bfd3 271.00deg 271.60deg,#f6afca 271.60deg 272.20deg,#f6b2cc 272.20deg 272.80deg,#b31f83 272.80deg 273.40deg,#ea7aae 273.40deg 274.00deg,#ef8eb8 274.00deg 274.60deg,#f8bfd3 274.60deg 275.20deg,#f8c0d3 275.20deg 275.80deg,#f7b7cf 275.80deg 276.40deg,#f9c4d6 276.40deg 277.00deg,#f197bc 277.00deg 277.60deg,#e56fa9 277.60deg 278.20deg,#e671aa 278.20deg 278.80deg,#ec81b1 278.80deg 279.40deg,#ef8db7 279.40deg 280.00deg,#f198bd 280.00deg 280.60deg,#f4a4c3 280.60deg 281.20deg,#f5acc8 281.20deg 281.80deg,#f194bb 281.80deg 282.40deg,#ee87b4 282.40deg 283.00deg,transparent 283.00deg 284.50deg,#f9c5d6 284.50deg 285.10deg,#f39fc1 285.10deg 285.69deg,#f6b3cc 285.69deg 286.29deg,#ed85b3 286.29deg 286.89deg,#f29bbf 286.89deg 287.48deg,#ec82b1 287.48deg 288.08deg,#f5a8c6 288.08deg 288.68deg,#ef8db7 288.68deg 289.27deg,#e876ac 289.27deg 289.87deg,#ee89b5 289.87deg 290.47deg,#ee8ab5 290.47deg 291.06deg,#f090b9 291.06deg 291.66deg,#ee8ab6 291.66deg 292.26deg,#f5aac7 292.26deg 292.85deg,#f092ba 292.85deg 293.45deg,#f29bbf 293.45deg 294.05deg,#f29abe 294.05deg 294.64deg,#ef8cb7 294.64deg 295.24deg,#e36aa7 295.24deg 295.84deg,#f197bd 295.84deg 296.43deg,#f29cbf 296.43deg 297.03deg,#ee8bb6 297.03deg 297.63deg,#f194bb 297.63deg 298.22deg,#f3a0c1 298.22deg 298.82deg,#f9c8d8 298.82deg 299.42deg,#f6b2cc 299.42deg 300.01deg,#f197bd 300.01deg 300.61deg,#ef8eb8 300.61deg 301.21deg,#f090b9 301.21deg 301.80deg,#f29bbe 301.80deg 302.40deg,transparent 302.40deg 303.90deg,#f5a8c6 303.90deg 304.51deg,#ef8db7 304.51deg 305.11deg,#b82586 305.11deg 305.72deg,#f29cbf 305.72deg 306.32deg,#f7bbd1 306.32deg 306.93deg,#f7bad0 306.93deg 307.54deg,#f299bd 307.54deg 308.14deg,#f7bcd1 308.14deg 308.75deg,#e876ac 308.75deg 309.35deg,#ed86b3 309.35deg 309.96deg,#f6b3cc 309.96deg 310.57deg,#f8c1d4 310.57deg 311.17deg,#f298bd 311.17deg 311.78deg,#f093ba 311.78deg 312.38deg,#ee87b4 312.38deg 312.99deg,#f8c3d5 312.99deg 313.60deg,#f5a7c5 313.60deg 314.20deg,#f4a2c2 314.20deg 314.81deg,#e774ab 314.81deg 315.42deg,#f4a7c5 315.42deg 316.02deg,#f3a0c1 316.02deg 316.63deg,#f9c8d8 316.63deg 317.23deg,#eb7daf 317.23deg 317.84deg,#e36ba7 317.84deg 318.45deg,#e56fa9 318.45deg 319.05deg,#f39dc0 319.05deg 319.66deg,#f4a1c2 319.66deg 320.26deg,#f8c4d6 320.26deg 321.48deg,#ed86b3 321.48deg 322.08deg,#f4a1c2 322.08deg 322.69deg,#ee88b4 322.69deg 323.29deg,#f9c7d7 323.29deg 323.90deg,transparent 323.90deg 325.30deg,#f197bd 325.30deg 325.90deg,#ef8cb6 325.90deg 326.51deg,#dc5ba0 326.51deg 327.11deg,#ed86b3 327.11deg 327.71deg,#f093ba 327.71deg 328.32deg,#ef8eb8 328.32deg 328.92deg,#e671aa 328.92deg 329.52deg,#e064a4 329.52deg 330.13deg,#ee89b5 330.13deg 330.73deg,#e671aa 330.73deg 331.33deg,#ea7cae 331.33deg 331.94deg,#f9c7d8 331.94deg 332.54deg,#f5adc9 332.54deg 333.14deg,#f5acc8 333.14deg 333.75deg,#f5a9c6 333.75deg 334.35deg,#f197bd 334.35deg 334.96deg,#f29bbf 334.96deg 335.56deg,#f6b2cb 335.56deg 336.16deg,#f39fc1 336.16deg 336.77deg,#f29cbf 336.77deg 337.37deg,#f6b0ca 337.37deg 337.97deg,#f4a1c2 337.97deg 338.58deg,#ee88b4 338.58deg 339.18deg,#b21e83 339.18deg 339.78deg,#f092ba 339.78deg 340.39deg,#f29bbe 340.39deg 340.99deg,#ef8db7 340.99deg 341.59deg,#f29cbf 341.59deg 342.20deg,#eb7faf 342.20deg 342.80deg,transparent 342.80deg 344.40deg,#e268a6 344.40deg 345.01deg,#f196bc 345.01deg 345.62deg,#f9c8d8 345.62deg 346.23deg,#ec80b0 346.23deg 346.84deg,#e36ba7 346.84deg 347.45deg,#e570a9 347.45deg 348.06deg,#f29cbf 348.06deg 348.67deg,#f39fc1 348.67deg 349.28deg,#f29cbf 349.28deg 349.89deg,#f091b9 349.89deg 350.50deg,#ec82b1 350.50deg 351.10deg,#f196bc 351.10deg 351.71deg,#f4a2c3 351.71deg 352.32deg,#f094bb 352.32deg 352.93deg,#f9c8d8 352.93deg 353.54deg,#f196bc 353.54deg 354.15deg,#f5a8c6 354.15deg 354.76deg,#d44a99 354.76deg 355.37deg,#f39ec0 355.37deg 355.98deg,#f194bb 355.98deg 356.59deg,#f8c2d5 356.59deg 357.20deg,transparent 357.20deg 360.00deg)}
.td{left:146.40px;top:64.20px;width:176.60px;height:176.60px;background:conic-gradient(transparent 0.00deg 2.80deg,#ec6f2f 2.80deg 3.40deg,#e9692a 3.40deg 4.00deg,#ec6f2f 4.00deg 4.60deg,#f07736 4.60deg 5.20deg,#ef7433 5.20deg 5.80deg,#f07635 5.80deg 6.40deg,#f9a160 6.40deg 7.00deg,#fbb67c 7.00deg 7.60deg,#fcd2a6 7.60deg 8.20deg,#fcc38e 8.20deg 8.80deg,#fccb9a 8.80deg 9.40deg,#fbbb82 9.40deg 10.00deg,#f9a260 10.00deg 10.60deg,#fbbf87 10.60deg 11.20deg,#fcc895 11.20deg 11.80deg,#fde3c4 11.80deg 13.00deg,#fddcb7 13.00deg 13.60deg,#fcc794 13.60deg 14.20deg,#fbbe87 14.20deg 14.80deg,#fcc794 14.80deg 15.40deg,#fbb57a 15.40deg 16.00deg,#fcd0a4 16.00deg 16.60deg,#fddcb7 16.60deg 17.20deg,#fddfbe 17.20deg 17.80deg,#fddebb 17.80deg 18.40deg,#fdd5ac 18.40deg 19.00deg,#fccc9b 19.00deg 19.60deg,#fde0be 19.60deg 20.20deg,#fde0bf 20.20deg 20.80deg,#fde3c4 20.80deg 21.40deg,#fccfa1 21.40deg 22.00deg,#fccea0 22.00deg 22.60deg,#fbb479 22.60deg 23.20deg,#fcc997 23.20deg 23.80deg,#fcd0a2 23.80deg 24.40deg,#faaf73 24.40deg 25.00deg,#faad6f 25.00deg 25.60deg,#fcbf88 25.60deg 26.20deg,#fcc089 26.20deg 26.80deg,#f79756 26.80deg 27.40deg,#fbb67b 27.40deg 28.00deg,#f48847 28.00deg 28.60deg,#f07938 28.60deg 29.20deg,#fab276 29.20deg 29.80deg,#faa768 29.80deg 30.40deg,#f2803f 30.40deg 31.00deg,#f07736 31.00deg 31.60deg,transparent 31.60deg 32.90deg,#e56224 32.90deg 33.50deg,#eb6c2d 33.50deg 34.10deg,#f28342 34.10deg 34.70deg,#faaf73 34.70deg 35.30deg,#f9a565 35.30deg 35.90deg,#f89e5c 35.90deg 36.50deg,#f69351 36.50deg 37.10deg,#f58e4c 37.10deg 37.70deg,#faa768 37.70deg 38.30deg,#fab175 38.30deg 38.90deg,#fbb77e 38.90deg 39.50deg,#fccea0 39.50deg 40.70deg,#fccd9e 40.70deg 41.30deg,#fccea0 41.30deg 41.90deg,#fdd9b3 41.90deg 42.50deg,#fcc38e 42.50deg 43.10deg,#fbb77d 43.10deg 43.70deg,#faab6d 43.70deg 44.30deg,#fab276 44.30deg 44.90deg,#fcd1a5 44.90deg 45.50deg,#fccb9b 45.50deg 46.10deg,#fdd6ad 46.10deg 46.70deg,#fdddb9 46.70deg 47.30deg,#fdd9b2 47.30deg 47.90deg,#fde1c1 47.90deg 48.50deg,#fcd4a9 48.50deg 49.10deg,#fde3c4 49.10deg 49.70deg,#fde1c1 49.70deg 50.30deg,#fddebb 50.30deg 50.90deg,#fdd8b1 50.90deg 51.50deg,#fcc794 51.50deg 52.10deg,#fde3c4 52.10deg 52.70deg,#fddab4 52.70deg 53.30deg,#fbbb82 53.30deg 53.90deg,#fbb479 53.90deg 54.50deg,#fab074 54.50deg 55.10deg,#fbb479 55.10deg 55.70deg,#fab276 55.70deg 56.30deg,#f9a05f 56.30deg 56.90deg,#f89c5a 56.90deg 57.50deg,#e86729 57.50deg 58.10deg,#f6914f 58.10deg 58.70deg,transparent 58.70deg 60.00deg,#f28241 60.00deg 60.60deg,#f07837 60.60deg 61.19deg,#f48c4b 61.19deg 61.79deg,#fbbb83 61.79deg 62.38deg,#f17b3a 62.38deg 62.98deg,#faae70 62.98deg 63.58deg,#f17d3c 63.58deg 64.17deg,#f79957 64.17deg 64.77deg,#f69150 64.77deg 65.36deg,#fab074 65.36deg 66.56deg,#fccfa1 66.56deg 67.15deg,#fcd0a3 67.15deg 67.75deg,#fcd3a8 67.75deg 68.34deg,#fddab4 68.34deg 68.94deg,#fde3c4 68.94deg 70.13deg,#fccfa2 70.13deg 70.73deg,#fccb9a 70.73deg 71.32deg,#fdd6ad 71.32deg 71.92deg,#fcc896 71.92deg 72.51deg,#fcd1a4 72.51deg 73.11deg,#fcc895 73.11deg 73.71deg,#fbbd85 73.71deg 74.30deg,#f9a261 74.30deg 74.90deg,#fdd7ae 74.90deg 75.49deg,#fcc692 75.49deg 76.09deg,#fddebc 76.09deg 76.69deg,#fdd7af 76.69deg 77.28deg,#fde3c4 77.28deg 77.88deg,#fccfa0 77.88deg 78.47deg,#fccfa1 78.47deg 79.07deg,#fcc996 79.07deg 79.67deg,#fcc089 79.67deg 80.26deg,#fde3c4 80.26deg 80.86deg,#fcc997 80.86deg 81.45deg,#fdd9b3 81.45deg 82.05deg,#fde1c1 82.05deg 82.64deg,#fddbb5 82.64deg 83.24deg,#fcc895 83.24deg 83.84deg,#f9a666 83.84deg 84.43deg,#f9a463 84.43deg 85.03deg,#f07938 85.03deg 85.62deg,#f17e3d 85.62deg 86.22deg,#f38746 86.22deg 86.82deg,#e86728 86.82deg 87.41deg,#f89c5a 87.41deg 88.01deg,#f58f4e 88.01deg 88.60deg,#f38443 88.60deg 89.20deg,transparent 89.20deg 90.60deg,#e9692a 90.60deg 91.19deg,#f17c3a 91.19deg 91.79deg,#f38745 91.79deg 92.38deg,#f9a464 92.38deg 92.98deg,#fcd3a7 92.98deg 93.57deg,#fbb77e 93.57deg 94.17deg,#fccfa2 94.17deg 94.77deg,#fbba81 94.77deg 95.36deg,#fccfa2 95.36deg 95.95deg,#fbbe87 95.95deg 96.55deg,#fcc38d 96.55deg 97.14deg,#faa96b 97.14deg 97.74deg,#fbbb83 97.74deg 98.33deg,#fab074 98.33deg 98.93deg,#fbb57a 98.93deg 99.52deg,#fddfbd 99.53deg 100.12deg,#fcd1a5 100.12deg 100.72deg,#fde3c4 100.72deg 101.91deg,#fddebb 101.91deg 102.50deg,#fcce9f 102.50deg 103.09deg,#fbba81 103.09deg 103.69deg,#fcc18b 103.69deg 104.28deg,#faae72 104.28deg 104.88deg,#fcc692 104.88deg 105.47deg,#fcc793 105.47deg 106.07deg,#fcd1a5 106.07deg 106.67deg,#fdd4aa 106.67deg 107.26deg,#fde2c3 107.26deg 107.86deg,#fccc9b 107.86deg 108.45deg,#fbba81 108.45deg 109.05deg,#fbb479 109.05deg 109.64deg,#fbbd85 109.64deg 110.23deg,#fccb9b 110.23deg 110.83deg,#faa868 110.83deg 111.43deg,#faa768 111.43deg 112.02deg,#fab175 112.02deg 112.62deg,#fbb67b 112.62deg 113.21deg,#f79755 113.21deg 113.81deg,#f48847 113.81deg 114.40deg,transparent 114.40deg 115.70deg,#d4440c 115.70deg 116.30deg,#f6914f 116.30deg 116.89deg,#f28140 116.89deg 117.49deg,#faab6d 117.49deg 118.09deg,#f9a362 118.09deg 118.68deg,#faa869 118.68deg 119.28deg,#fbb980 119.28deg 119.88deg,#fcc691 119.88deg 120.48deg,#fdd8b2 120.48deg 121.07deg,#fdd7b0 121.07deg 121.67deg,#fdd9b3 121.67deg 122.27deg,#fddbb5 122.27deg 122.86deg,#fcca98 122.86deg 123.46deg,#fcd0a3 123.46deg 124.06deg,#fcd3a8 124.06deg 124.65deg,#fde3c4 124.65deg 125.85deg,#fccd9f 125.85deg 126.44deg,#fcc996 126.44deg 127.04deg,#fcd0a2 127.04deg 127.64deg,#fddcb9 127.64deg 128.23deg,#fde3c4 128.23deg 131.22deg,#faae71 131.22deg 132.41deg,#f89958 132.41deg 133.01deg,#f2813f 133.01deg 133.61deg,#f38846 133.61deg 134.20deg,#f38443 134.20deg 134.80deg,transparent 134.80deg 136.20deg,#d4440c 136.20deg 136.81deg,#e05a1d 136.81deg 137.41deg,#eb6e2e 137.41deg 138.02deg,#e76527 138.02deg 138.62deg,#fbba81 138.62deg 139.23deg,#fbb57a 139.23deg 139.84deg,#fcd0a4 139.84deg 140.44deg,#fdddb9 140.44deg 141.05deg,#fde0bf 141.05deg 141.66deg,#fcc18b 141.66deg 142.26deg,#fab276 142.26deg 142.87deg,#fcbf88 142.87deg 143.47deg,#faae70 143.47deg 144.08deg,#fcc48e 144.08deg 144.69deg,#fab277 144.69deg 145.29deg,#fcd0a2 145.29deg 145.90deg,#fbb479 145.90deg 146.51deg,#fcd1a5 146.51deg 147.11deg,#fbbd86 147.11deg 147.72deg,#fcc998 147.72deg 148.32deg,#fddab5 148.32deg 148.93deg,#fccfa1 148.93deg 149.54deg,#fdd6ae 149.54deg 150.14deg,#fddbb6 150.14deg 150.75deg,#faa666 150.75deg 151.36deg,#fcc28c 151.36deg 151.96deg,#faa96a 151.96deg 152.57deg,#f2803f 152.57deg 153.17deg,#f07a39 153.17deg 153.78deg,#f9a05e 153.78deg 154.39deg,#ee7131 154.39deg 154.99deg,#d4440c 154.99deg 155.60deg,transparent 155.60deg 156.90deg,#d4450d 156.90deg 157.50deg,#e15a1e 157.50deg 158.09deg,#f38543 158.09deg 158.69deg,#f58f4d 158.69deg 159.28deg,#f9a261 159.28deg 159.88deg,#fbba81 159.88deg 160.47deg,#fbbc84 160.47deg 161.07deg,#fbb980 161.07deg 161.66deg,#fccd9e 161.66deg 162.26deg,#fccb9b 162.26deg 162.85deg,#fccd9e 162.85deg 163.45deg,#fccb9a 163.45deg 164.05deg,#fcd3a8 164.05deg 164.64deg,#fccd9e 164.64deg 165.24deg,#fbbf87 165.24deg 165.83deg,#fde3c4 165.83deg 166.43deg,#fcca99 166.43deg 167.02deg,#fbbc84 167.02deg 167.62deg,#fbb377 167.62deg 168.21deg,#fccb9a 168.21deg 168.81deg,#fcd3a8 168.81deg 169.40deg,#fde3c4 169.40deg 170.00deg,#fcd3a8 170.00deg 170.60deg,#fcc28c 170.60deg 171.19deg,#faa666 171.19deg 171.79deg,#fbb57b 171.79deg 172.38deg,#fbba81 172.38deg 172.98deg,#fcc28c 172.98deg 173.57deg,#fcce9f 173.57deg 174.17deg,#fdd9b2 174.17deg 174.76deg,#fde3c4 174.76deg 175.36deg,#fdd9b2 175.36deg 175.95deg,#fde3c4 175.95deg 176.55deg,#fddcb8 176.55deg 177.15deg,#fdd7af 177.15deg 177.74deg,#fbbc84 177.74deg 178.34deg,#fbbb82 178.34deg 178.93deg,#fbb57a 178.93deg 179.53deg,#f99e5c 179.53deg 180.12deg,#f48948 180.12deg 180.72deg,#f89b59 180.72deg 181.31deg,#f79655 181.31deg 181.91deg,#f48948 181.91deg 182.50deg,#eb6d2d 182.50deg 183.10deg,transparent 183.10deg 184.60deg,#ef7635 184.60deg 185.21deg,#f69150 185.21deg 185.82deg,#f9a464 185.82deg 186.42deg,#fbb77e 186.42deg 187.03deg,#fcd0a3 187.03deg 187.64deg,#fde3c4 187.64deg 188.25deg,#fde1c0 188.25deg 188.86deg,#fde3c4 188.86deg 190.07deg,#fcd4a9 190.07deg 190.68deg,#fde3c4 190.68deg 191.90deg,#fcd4aa 191.90deg 192.51deg,#fdd5ab 192.51deg 193.12deg,#fde3c4 193.12deg 194.33deg,#fddebb 194.33deg 194.94deg,#fcc895 194.94deg 195.55deg,#fcc48e 195.55deg 196.16deg,#fab175 196.16deg 196.77deg,#faaa6c 196.77deg 197.37deg,#fcc48e 197.38deg 197.98deg,#f58f4d 197.98deg 198.59deg,#f48b4a 198.59deg 199.20deg,transparent 199.20deg 200.60deg,#f38544 200.60deg 201.20deg,#f07938 201.20deg 201.81deg,#f69351 201.81deg 202.41deg,#f69452 202.41deg 203.02deg,#fbb77d 203.02deg 203.62deg,#faaf72 203.62deg 204.23deg,#fcc18a 204.23deg 204.83deg,#fbba82 204.83deg 205.43deg,#fbb377 205.43deg 206.04deg,#fccfa1 206.04deg 206.64deg,#faad70 206.64deg 207.25deg,#fcd1a5 207.25deg 207.85deg,#fcc18b 207.85deg 208.46deg,#fcc48e 208.46deg 209.06deg,#fcbf88 209.06deg 209.67deg,#fde3c4 209.67deg 210.27deg,#fddebc 210.27deg 210.87deg,#fde3c4 210.87deg 211.48deg,#fcd2a6 211.48deg 212.08deg,#fccfa2 212.08deg 212.69deg,#fcc692 212.69deg 213.29deg,#fccd9e 213.29deg 213.90deg,#fbb57a 213.90deg 214.50deg,#fddcb7 214.50deg 215.10deg,#faaa6c 215.10deg 215.71deg,#fbb87f 215.71deg 216.31deg,#fbbb83 216.31deg 216.92deg,#f9a666 216.92deg 217.52deg,#fcc896 217.52deg 218.13deg,#fcd0a3 218.13deg 218.73deg,#fde1c0 218.73deg 219.33deg,#fcce9f 219.33deg 219.94deg,#fcc692 219.94deg 220.54deg,#faae71 220.54deg 221.15deg,#fab073 221.15deg 221.75deg,#fab074 221.75deg 222.36deg,#fbba81 222.36deg 222.96deg,#faad70 222.96deg 223.57deg,#f99f5d 223.57deg 224.17deg,#f89b59 224.17deg 224.77deg,#f38544 224.77deg 225.38deg,#fbb77d 225.38deg 225.98deg,#f38543 225.98deg 226.59deg,#f38443 226.59deg 227.19deg,#f17e3d 227.19deg 227.80deg,#ed7130 227.80deg 228.40deg,transparent 228.40deg 229.80deg,#da4e14 229.80deg 230.40deg,#e56224 230.40deg 231.00deg,#f5914f 231.00deg 231.60deg,#f79856 231.60deg 232.20deg,#f99e5c 232.20deg 232.80deg,#f89e5c 232.80deg 233.40deg,#f48b49 233.40deg 234.00deg,#faae71 234.00deg 234.60deg,#fcc08a 234.60deg 235.20deg,#fccb9b 235.20deg 235.80deg,#fdd9b3 235.80deg 236.40deg,#fde3c4 236.40deg 237.00deg,#fbb87e 237.00deg 238.20deg,#fcc997 238.20deg 238.80deg,#fcc691 238.80deg 239.40deg,#fbbb82 239.40deg 240.00deg,#fcc38d 240.00deg 240.60deg,#fcc18b 240.60deg 241.20deg,#fde0be 241.20deg 241.80deg,#fcc896 241.80deg 242.40deg,#fdd7b0 242.40deg 243.00deg,#fcc089 243.00deg 243.60deg,#fcc894 243.60deg 244.20deg,#faae71 244.20deg 244.80deg,#fbbb83 244.80deg 245.40deg,#fccb9a 245.40deg 246.00deg,#faa667 246.00deg 246.60deg,#fbb47a 246.60deg 247.20deg,#fcc590 247.20deg 247.80deg,#fcc38d 247.80deg 248.40deg,#fdd9b2 248.40deg 249.00deg,#fccb9a 249.00deg 249.60deg,#fddfbe 249.60deg 250.20deg,#fde3c4 250.20deg 250.80deg,#fcc28c 250.80deg 251.40deg,#fab175 251.40deg 252.00deg,#faa768 252.00deg 252.60deg,#faae71 252.60deg 253.20deg,#f07b39 253.20deg 253.80deg,#f17b3a 253.80deg 254.40deg,#f07837 254.40deg 255.00deg,#f17c3a 255.00deg 255.60deg,#f07a39 255.60deg 256.20deg,transparent 256.20deg 257.80deg,#d94d14 257.80deg 258.40deg,#da4f15 258.40deg 259.00deg,#e46124 259.00deg 259.60deg,#f89a58 259.60deg 260.20deg,#f38544 260.20deg 260.80deg,#fab276 260.80deg 261.40deg,#fdd8b1 261.40deg 262.00deg,#fcc48f 262.00deg 262.60deg,#fcd3a8 262.60deg 263.20deg,#fddcb8 263.20deg 263.80deg,#fccd9e 263.80deg 264.40deg,#fccfa1 264.40deg 265.00deg,#fdd6ae 265.00deg 265.60deg,#fcd3a9 265.60deg 266.20deg,#fde3c4 266.20deg 267.40deg,#fde1c1 267.40deg 268.00deg,#fdd4ab 268.00deg 268.60deg,#fbb87e 268.60deg 269.20deg,#fbbb83 269.20deg 269.80deg,#fccd9e 269.80deg 270.40deg,#fccfa1 270.40deg 271.00deg,#fde1c0 271.00deg 271.60deg,#fdd7af 271.60deg 272.20deg,#fde1c0 272.20deg 272.80deg,#fccc9d 272.80deg 273.40deg,#fcd0a3 273.40deg 274.00deg,#fddab5 274.00deg 274.60deg,#fde3c4 274.60deg 275.80deg,#fdd9b3 275.80deg 276.40deg,#fde3c4 276.40deg 277.00deg,#fccb9a 277.00deg 277.60deg,#f9a15f 277.60deg 278.20deg,#f9a260 278.20deg 278.80deg,#f89b59 278.80deg 279.40deg,#faa96a 279.40deg 280.00deg,#f38846 280.00deg 280.60deg,#f58e4c 280.60deg 281.20deg,#ed7131 281.20deg 281.80deg,#f17b3a 281.80deg 282.40deg,#e15b1f 282.40deg 283.00deg,transparent 283.00deg 284.50deg,#f07736 284.50deg 285.10deg,#f79654 285.10deg 285.69deg,#f38543 285.69deg 286.29deg,#f6914f 286.29deg 286.89deg,#fcca99 286.89deg 287.48deg,#fccd9d 287.48deg 288.08deg,#fddebc 288.08deg 288.68deg,#fccfa2 288.68deg 289.27deg,#fcbf88 289.27deg 289.87deg,#fbbd86 289.87deg 290.47deg,#fcce9f 290.47deg 291.06deg,#fdd5ac 291.06deg 291.66deg,#fde3c4 291.66deg 292.85deg,#fde0bf 292.85deg 293.45deg,#fddcb7 293.45deg 294.05deg,#fcc590 294.05deg 294.64deg,#fbb980 294.64deg 295.24deg,#fab277 295.24deg 295.84deg,#fbb479 295.84deg 296.43deg,#fcc48f 296.43deg 297.03deg,#fcc895 297.03deg 297.63deg,#fddcb9 297.63deg 298.82deg,#fddebb 298.82deg 299.42deg,#f9a565 299.42deg 300.01deg,#f27f3e 300.01deg 300.61deg,#f07736 300.61deg 301.21deg,#e05a1e 301.21deg 301.80deg,#d94c13 301.80deg 302.40deg,transparent 302.40deg 303.90deg,#f5904e 303.90deg 304.51deg,#f07a39 304.51deg 305.11deg,#f17d3c 305.11deg 305.72deg,#f38645 305.72deg 306.32deg,#f48a49 306.32deg 306.93deg,#f89c5a 306.93deg 307.54deg,#faa667 307.54deg 308.14deg,#fddfbe 308.14deg 308.75deg,#fcc591 308.75deg 309.35deg,#fcd2a7 309.35deg 309.96deg,#fcc28c 309.96deg 310.57deg,#fde3c4 310.57deg 311.17deg,#fdd7ae 311.17deg 311.78deg,#fdd6ad 311.78deg 312.38deg,#fdd7af 312.38deg 312.99deg,#fdddba 312.99deg 313.60deg,#fbbe86 313.60deg 314.20deg,#fde2c3 314.20deg 314.81deg,#fcd0a3 314.81deg 315.42deg,#fcc28c 315.42deg 316.02deg,#fdd9b3 316.02deg 316.63deg,#fde3c4 316.63deg 317.23deg,#fcc794 317.23deg 317.84deg,#fbb97f 317.84deg 318.45deg,#fcc18b 318.45deg 319.05deg,#fcbf88 319.05deg 319.66deg,#faa96b 319.66deg 320.26deg,#fbba81 320.26deg 320.87deg,#f48a48 320.87deg 321.48deg,#f48948 321.48deg 322.08deg,#f69250 322.08deg 322.69deg,#d84b12 322.69deg 323.29deg,#d4440c 323.29deg 323.90deg,transparent 323.90deg 325.30deg,#d4440c 325.30deg 325.90deg,#f07937 325.90deg 326.51deg,#f17e3d 326.51deg 327.11deg,#faa869 327.11deg 327.71deg,#f9a666 327.71deg 328.32deg,#fcd0a3 328.32deg 328.92deg,#fdd5ab 328.92deg 329.52deg,#fccb9a 329.52deg 330.13deg,#fbbb82 330.13deg 330.73deg,#fcc18b 330.73deg 331.33deg,#fcc997 331.33deg 331.94deg,#fde3c4 331.94deg 332.54deg,#fdd5ab 332.54deg 333.14deg,#fcc997 333.14deg 333.75deg,#fcc692 333.75deg 334.35deg,#fccb9a 334.35deg 334.96deg,#fcd3a8 334.96deg 335.56deg,#fdd7af 335.56deg 336.16deg,#fddcb9 336.16deg 336.77deg,#fcc793 336.77deg 337.37deg,#fcc38d 337.37deg 337.97deg,#fddbb7 337.97deg 338.58deg,#fcc38d 338.58deg 339.18deg,#f9a260 339.18deg 339.78deg,#fbb378 339.78deg 340.39deg,#f17d3c 340.39deg 340.99deg,#f89a58 340.99deg 341.59deg,#f79554 341.59deg 342.20deg,#f17b3a 342.20deg 342.80deg,transparent 342.80deg 344.40deg,#d4440c 344.40deg 345.01deg,#ed702f 345.01deg 345.62deg,#fbbe87 345.62deg 346.23deg,#fcd0a3 346.23deg 346.84deg,#fccd9e 346.84deg 347.45deg,#fdd8b1 347.45deg 348.06deg,#fcc089 348.06deg 348.67deg,#fcc48f 348.67deg 349.28deg,#fdd9b3 349.28deg 349.89deg,#fddfbd 349.89deg 350.50deg,#fdd8b1 350.50deg 351.10deg,#fdd7af 351.10deg 351.71deg,#fccb9b 351.71deg 352.32deg,#fcd3a9 352.32deg 352.93deg,#fdd6ae 352.93deg 353.54deg,#fbba82 353.54deg 354.15deg,#fbbc84 354.15deg 354.76deg,#f9a666 354.76deg 355.37deg,#f38443 355.37deg 355.98deg,#f69250 355.98deg 356.59deg,#f07635 356.59deg 357.20deg,transparent 357.20deg 360.00deg)}
.te{left:154.00px;top:71.80px;width:161.40px;height:161.40px;background:conic-gradient(transparent 0.00deg 2.80deg,#b6cae7 2.80deg 3.40deg,#aec1e3 3.40deg 4.00deg,#aabce1 4.00deg 4.60deg,#9dacda 4.60deg 5.20deg,#96a0d5 5.20deg 5.80deg,#8f95cf 5.80deg 6.40deg,#9baad9 6.40deg 7.00deg,#a1b2dd 7.00deg 7.60deg,#c5d6ed 7.60deg 8.20deg,#9daddb 8.20deg 8.80deg,#a9bce1 8.80deg 9.40deg,#a7b9e0 9.40deg 10.00deg,#96a1d5 10.00deg 10.60deg,#9eaedb 10.60deg 11.20deg,#a8bae0 11.20deg 11.80deg,#c9daee 11.80deg 12.40deg,#cadbef 12.40deg 13.00deg,#a4b6df 13.00deg 13.60deg,#939bd2 13.60deg 14.20deg,#8c90cd 14.20deg 14.80deg,#8c8fcd 14.80deg 15.40deg,#98a5d7 15.40deg 16.00deg,#8681c4 16.00deg 16.60deg,#8e93ce 16.60deg 17.20deg,#7b66b2 17.20deg 17.80deg,#8379bf 17.80deg 18.40deg,#8886c7 18.40deg 19.00deg,#8a8bca 19.00deg 19.60deg,#8e93ce 19.60deg 20.20deg,#9eaedb 20.20deg 20.80deg,#afc2e4 20.80deg 21.40deg,#abbde2 21.40deg 22.00deg,#a8bae0 22.00deg 22.60deg,#adc0e3 22.60deg 23.20deg,#a5b6df 23.20deg 23.80deg,#aec1e3 23.80deg 24.40deg,#9299d1 24.40deg 25.00deg,#a1b2dd 25.00deg 25.60deg,#bccfea 25.60deg 26.20deg,#cedef0 26.20deg 26.80deg,#b2c5e5 26.80deg 27.40deg,#d8e6f4 27.40deg 28.00deg,#a4b6df 28.00deg 28.60deg,#b7cbe8 28.60deg 29.20deg,#d3e2f2 29.20deg 29.80deg,#d8e6f4 29.80deg 30.40deg,#d4e3f3 30.40deg 31.00deg,#d8e6f4 31.00deg 31.60deg,transparent 31.60deg 32.90deg,#c9daee 32.90deg 33.50deg,#bdd0ea 33.50deg 34.10deg,#c5d7ed 34.10deg 34.70deg,#d1e1f1 34.70deg 35.30deg,#b3c6e5 35.30deg 35.90deg,#bbcee9 35.90deg 36.50deg,#c2d4ec 36.50deg 37.10deg,#c0d2eb 37.10deg 37.70deg,#bfd2eb 37.70deg 38.30deg,#c0d3eb 38.30deg 38.90deg,#bdd0ea 38.90deg 39.50deg,#d8e6f4 39.50deg 40.10deg,#b4c8e6 40.10deg 40.70deg,#a2b4de 40.70deg 41.30deg,#b4c7e6 41.30deg 41.90deg,#afc1e3 41.90deg 42.50deg,#b1c4e5 42.50deg 43.10deg,#959fd4 43.10deg 43.70deg,#99a5d7 43.70deg 44.30deg,#9aa7d8 44.30deg 44.90deg,#98a4d6 44.90deg 45.50deg,#8c90cd 45.50deg 46.10deg,#8d92ce 46.10deg 46.70deg,#9197d0 46.70deg 47.30deg,#8a8dcb 47.30deg 47.90deg,#96a1d5 47.90deg 48.50deg,#949dd3 48.50deg 49.10deg,#9ba9d9 49.10deg 49.70deg,#98a3d6 49.70deg 50.30deg,#8d91cd 50.30deg 50.90deg,#9ba9d9 50.90deg 51.50deg,#8d91ce 51.50deg 52.10deg,#a8bae0 52.10deg 52.70deg,#9dadda 52.70deg 53.30deg,#929ad2 53.30deg 53.90deg,#b0c4e4 53.90deg 54.50deg,#bacee9 54.50deg 55.10deg,#b3c6e5 55.10deg 55.70deg,#bbcfe9 55.70deg 56.30deg,#c1d3eb 56.30deg 56.90deg,#adbfe3 56.90deg 57.50deg,#a8bae0 57.50deg 58.10deg,#a7b9e0 58.10deg 58.70deg,transparent 58.70deg 60.00deg,#9caad9 60.00deg 60.60deg,#9eaedb 60.60deg 61.19deg,#aabde2 61.19deg 61.79deg,#d8e6f4 61.79deg 62.38deg,#b8cce8 62.38deg 62.98deg,#cbdbef 62.98deg 63.58deg,#99a6d7 63.58deg 64.17deg,#949ed3 64.17deg 64.77deg,#949dd3 64.77deg 65.36deg,#8c8fcc 65.36deg 65.96deg,#939cd3 65.96deg 66.56deg,#99a6d7 66.56deg 67.15deg,#b3c7e6 67.15deg 67.75deg,#b4c8e6 67.75deg 68.34deg,#aabce1 68.34deg 68.94deg,#b2c5e5 68.94deg 69.53deg,#a1b3dd 69.53deg 70.13deg,#949dd3 70.13deg 70.73deg,#8989c9 70.73deg 71.32deg,#8784c6 71.32deg 71.92deg,#9198d1 71.92deg 73.11deg,#a0b1dc 73.11deg 73.71deg,#98a3d6 73.71deg 74.30deg,#a4b5de 74.30deg 74.90deg,#adbfe3 74.90deg 75.49deg,#8f94cf 75.49deg 76.09deg,#96a1d5 76.09deg 76.69deg,#9199d1 76.69deg 77.28deg,#b4c8e6 77.28deg 77.88deg,#a9bbe1 77.88deg 78.47deg,#a3b5de 78.47deg 79.07deg,#b4c8e6 79.07deg 79.67deg,#aabde1 79.67deg 80.26deg,#d3e2f2 80.26deg 80.86deg,#b5c9e7 80.86deg 81.45deg,#b7cbe8 81.45deg 82.05deg,#aec0e3 82.05deg 82.64deg,#a6b8df 82.64deg 83.24deg,#a3b5de 83.24deg 83.84deg,#9eafdb 83.84deg 84.43deg,#8e93ce 84.43deg 85.03deg,#9299d1 85.03deg 85.62deg,#9dacda 85.62deg 86.22deg,#99a6d7 86.22deg 86.82deg,#abbee2 86.82deg 87.41deg,#bbcfe9 87.41deg 88.01deg,#a9bbe1 88.01deg 88.60deg,#97a3d6 88.60deg 89.20deg,transparent 89.20deg 90.60deg,#c3d5ec 90.60deg 91.19deg,#aec0e3 91.19deg 91.79deg,#a0b1dc 91.79deg 92.38deg,#9cabda 92.38deg 92.98deg,#adc0e3 92.98deg 93.57deg,#9baad9 93.57deg 94.17deg,#97a3d6 94.17deg 94.77deg,#9198d1 94.77deg 95.36deg,#a6b8df 95.36deg 95.95deg,#9ba8d8 95.95deg 96.55deg,#98a5d7 96.55deg 97.14deg,#949ed3 97.14deg 97.74deg,#9096d0 97.74deg 98.33deg,#a5b6df 98.33deg 98.93deg,#98a4d6 98.93deg 99.52deg,#c6d7ed 99.53deg 100.12deg,#a9bce1 100.12deg 100.72deg,#96a1d5 100.72deg 101.31deg,#98a4d6 101.31deg 101.91deg,#9baad9 101.91deg 102.50deg,#99a6d7 102.50deg 103.09deg,#9fb0dc 103.09deg 103.69deg,#98a4d7 103.69deg 104.28deg,#98a3d6 104.28deg 104.88deg,#959ed4 104.88deg 105.47deg,#9aa7d8 105.47deg 106.07deg,#9baad9 106.07deg 106.67deg,#9cabda 106.67deg 107.26deg,#b8cbe8 107.26deg 107.86deg,#aabce1 107.86deg 108.45deg,#adc0e3 108.45deg 109.05deg,#a8bae0 109.05deg 109.64deg,#a4b5de 109.64deg 110.23deg,#c2d4ec 110.23deg 110.83deg,#949cd3 110.83deg 111.43deg,#8f94cf 111.43deg 112.02deg,#aabde1 112.02deg 112.62deg,#b8cce8 112.62deg 113.21deg,#aec1e3 113.21deg 113.81deg,#d4e3f2 113.81deg 114.40deg,transparent 114.40deg 115.70deg,#bacde9 115.70deg 116.30deg,#d8e6f4 116.30deg 116.89deg,#abbde2 116.89deg 117.49deg,#acbfe2 117.49deg 118.09deg,#b0c3e4 118.09deg 118.68deg,#adc0e3 118.68deg 119.28deg,#98a4d6 119.28deg 119.88deg,#9eafdb 119.88deg 120.48deg,#99a5d7 120.48deg 121.07deg,#99a6d7 121.07deg 121.67deg,#959fd4 121.67deg 122.27deg,#a1b3dd 122.27deg 122.86deg,#a6b8df 122.86deg 123.46deg,#929ad2 123.46deg 124.06deg,#8886c7 124.06deg 124.65deg,#9ba9d9 124.65deg 125.25deg,#929ad2 125.25deg 125.85deg,#8580c3 125.85deg 126.44deg,#9198d0 126.44deg 127.04deg,#9aa8d8 127.04deg 127.64deg,#aabce1 127.64deg 128.23deg,#b8cce8 128.23deg 128.83deg,#cbdbef 128.83deg 129.43deg,#b9cce8 129.43deg 130.03deg,#9daddb 130.03deg 130.62deg,#a2b3dd 130.62deg 131.22deg,#9aa8d8 131.22deg 131.82deg,#b5c9e7 131.82deg 132.41deg,#8f94cf 132.41deg 133.01deg,#a5b7df 133.01deg 133.61deg,#aabce1 133.61deg 134.20deg,#a7b9e0 134.20deg 134.80deg,transparent 134.80deg 136.20deg,#d8e6f4 136.20deg 136.81deg,#bfd2eb 136.81deg 137.41deg,#b3c6e6 137.41deg 138.02deg,#acbfe2 138.02deg 138.62deg,#c1d3eb 138.62deg 139.23deg,#9dacda 139.23deg 139.84deg,#9198d1 139.84deg 140.44deg,#a7b9e0 140.44deg 141.05deg,#b7cbe8 141.05deg 141.66deg,#a8bae0 141.66deg 142.26deg,#a9bbe1 142.26deg 142.87deg,#a4b6df 142.87deg 143.47deg,#99a5d7 143.47deg 144.08deg,#929ad2 144.08deg 144.69deg,#837abf 144.69deg 145.29deg,#9daddb 145.29deg 145.90deg,#939cd3 145.90deg 146.51deg,#a9bce1 146.51deg 147.11deg,#a7b8e0 147.11deg 147.72deg,#adbfe3 147.72deg 148.32deg,#97a2d6 148.32deg 148.93deg,#9daddb 148.93deg 149.54deg,#9197d0 149.54deg 150.14deg,#b8cce8 150.14deg 150.75deg,#929bd2 150.75deg 151.36deg,#c0d3eb 151.36deg 151.96deg,#b2c6e5 151.96deg 152.57deg,#b3c7e6 152.57deg 153.17deg,#bccfe9 153.17deg 153.78deg,#d8e6f4 153.78deg 154.39deg,#d2e1f2 154.39deg 154.99deg,#cbdbef 154.99deg 155.60deg,transparent 155.60deg 156.90deg,#c0d2eb 156.90deg 157.50deg,#b3c7e6 157.50deg 158.09deg,#bfd2eb 158.09deg 158.69deg,#a2b3dd 158.69deg 159.28deg,#adc0e3 159.28deg 159.88deg,#939cd3 159.88deg 160.47deg,#9aa8d8 160.47deg 161.07deg,#a1b2dd 161.07deg 161.66deg,#b7cbe8 161.66deg 162.26deg,#bbcee9 162.26deg 162.85deg,#acbfe2 162.85deg 163.45deg,#aec0e3 163.45deg 164.05deg,#a1b2dd 164.05deg 164.64deg,#9096d0 164.64deg 165.24deg,#97a2d5 165.24deg 165.83deg,#afc2e4 165.83deg 166.43deg,#97a2d5 166.43deg 167.02deg,#9eaedb 167.02deg 167.62deg,#b7cbe7 167.62deg 168.21deg,#96a0d5 168.21deg 168.81deg,#95a0d4 168.81deg 169.40deg,#8783c5 169.40deg 170.00deg,#8784c6 170.00deg 170.60deg,#8c90cd 170.60deg 171.19deg,#8a8bca 171.19deg 171.79deg,#8e93ce 171.79deg 172.38deg,#98a4d6 172.38deg 172.98deg,#99a7d8 172.98deg 173.57deg,#a2b4de 173.57deg 174.17deg,#a2b3dd 174.17deg 174.76deg,#aabce1 174.76deg 175.36deg,#9ba8d8 175.36deg 175.95deg,#9dacda 175.95deg 176.55deg,#9197d0 176.55deg 177.15deg,#939cd3 177.15deg 177.74deg,#9eaedb 177.74deg 178.34deg,#a4b5de 178.34deg 178.93deg,#b3c7e6 178.93deg 179.53deg,#a7b9e0 179.53deg 180.12deg,#b7cbe8 180.12deg 180.72deg,#a0b1dc 180.72deg 181.31deg,#98a4d6 181.31deg 181.91deg,#a1b3dd 181.91deg 182.50deg,#a0b1dc 182.50deg 183.10deg,transparent 183.10deg 184.60deg,#cdddf0 184.60deg 185.21deg,#b8cce8 185.21deg 185.82deg,#a3b4de 185.82deg 186.42deg,#9baad9 186.42deg 187.03deg,#9eaedb 187.03deg 187.64deg,#d8e6f4 187.64deg 188.25deg,#bcd0ea 188.25deg 188.86deg,#b6c9e7 188.86deg 189.47deg,#bed1ea 189.47deg 190.07deg,#a6b8e0 190.07deg 190.68deg,#b8cce8 190.68deg 191.29deg,#9198d1 191.29deg 191.90deg,#8c8fcc 191.90deg 192.51deg,#8580c3 192.51deg 193.12deg,#9198d1 193.12deg 193.72deg,#aec1e3 193.72deg 194.33deg,#a5b6df 194.33deg 194.94deg,#a2b4de 194.94deg 195.55deg,#bacde9 195.55deg 196.16deg,#b1c4e5 196.16deg 196.77deg,#bed1ea 196.77deg 197.37deg,#d8e6f4 197.38deg 197.98deg,#b2c5e5 197.98deg 198.59deg,#aabde1 198.59deg 199.20deg,transparent 199.20deg 200.60deg,#c9daee 200.60deg 201.20deg,#adbfe3 201.20deg 201.81deg,#b2c6e5 201.81deg 202.41deg,#b3c7e6 202.41deg 203.02deg,#b8cce8 203.02deg 203.62deg,#a5b6df 203.62deg 204.23deg,#b0c3e4 204.23deg 204.83deg,#adbfe3 204.83deg 205.43deg,#9fafdc 205.43deg 206.04deg,#abbde2 206.04deg 206.64deg,#9dacda 206.64deg 207.25deg,#cbdbef 207.25deg 207.85deg,#b2c5e5 207.85deg 208.46deg,#acbfe2 208.46deg 209.06deg,#b2c6e5 209.06deg 209.67deg,#d8e6f4 209.67deg 210.27deg,#b2c5e5 210.27deg 210.87deg,#bfd2eb 210.87deg 211.48deg,#9197d0 211.48deg 212.08deg,#8f95cf 212.08deg 212.69deg,#9dadda 212.69deg 213.29deg,#898aca 213.29deg 213.90deg,#8c8fcc 213.90deg 214.50deg,#9eafdb 214.50deg 215.10deg,#8887c8 215.10deg 215.71deg,#929ad2 215.71deg 216.31deg,#8887c8 216.31deg 216.92deg,#939cd3 216.92deg 217.52deg,#8886c7 217.52deg 218.13deg,#8b8ecc 218.13deg 218.73deg,#949dd3 218.73deg 219.33deg,#8f95cf 219.33deg 219.94deg,#847cc1 219.94deg 220.54deg,#8784c6 220.54deg 221.15deg,#8d91cd 221.15deg 221.75deg,#9dacda 221.75deg 222.36deg,#abbde2 222.36deg 222.96deg,#afc1e3 222.96deg 223.57deg,#abbde2 223.57deg 224.17deg,#afc2e4 224.17deg 224.77deg,#b1c4e4 224.77deg 225.38deg,#d3e2f2 225.38deg 225.98deg,#cdddf0 225.98deg 227.19deg,#cbdcef 227.19deg 227.80deg,#b5c9e7 227.80deg 228.40deg,transparent 228.40deg 229.80deg,#afc2e4 229.80deg 230.40deg,#a6b8df 230.40deg 231.00deg,#9eafdb 231.00deg 231.60deg,#96a0d4 231.60deg 232.20deg,#a6b8df 232.20deg 232.80deg,#a0b1dc 232.80deg 233.40deg,#b8cce8 233.40deg 234.00deg,#9caad9 234.00deg 234.60deg,#9097d0 234.60deg 235.20deg,#939bd2 235.20deg 235.80deg,#8e93cf 235.80deg 236.40deg,#c9daee 236.40deg 237.00deg,#a9bbe1 237.00deg 237.60deg,#b1c5e5 237.60deg 238.20deg,#9198d1 238.20deg 238.80deg,#939bd2 238.80deg 239.40deg,#a4b5de 239.40deg 240.00deg,#9cabd9 240.00deg 240.60deg,#bed1ea 240.60deg 241.20deg,#d8e6f4 241.20deg 241.80deg,#a7b8e0 241.80deg 242.40deg,#a7b9e0 242.40deg 243.00deg,#bdd0ea 243.00deg 243.60deg,#b5c9e7 243.60deg 244.20deg,#bacde9 244.20deg 244.80deg,#a6b8df 244.80deg 245.40deg,#c4d6ec 245.40deg 246.00deg,#bacee9 246.00deg 246.60deg,#aec1e3 246.60deg 247.20deg,#a3b4de 247.20deg 247.80deg,#a0b1dc 247.80deg 248.40deg,#9aa7d8 248.40deg 249.00deg,#acbfe2 249.00deg 249.60deg,#a7b9e0 249.60deg 250.20deg,#d3e2f2 250.20deg 250.80deg,#acbee2 250.80deg 251.40deg,#c5d7ed 251.40deg 252.00deg,#acbfe2 252.00deg 252.60deg,#c2d4ec 252.60deg 253.20deg,#96a1d5 253.20deg 253.80deg,#a3b4de 253.80deg 254.40deg,#b0c3e4 254.40deg 255.00deg,#b4c7e6 255.00deg 255.60deg,#c4d6ed 255.60deg 256.20deg,transparent 256.20deg 257.80deg,#a2b3dd 257.80deg 258.40deg,#9eaddb 258.40deg 259.00deg,#9aa7d8 259.00deg 259.60deg,#abbde2 259.60deg 260.20deg,#9eafdc 260.20deg 260.80deg,#a0b2dd 260.80deg 261.40deg,#b3c7e6 261.40deg 262.00deg,#aabce1 262.00deg 262.60deg,#a8bae0 262.60deg 263.20deg,#adbfe3 263.20deg 263.80deg,#bbcee9 263.80deg 264.40deg,#afc2e4 264.40deg 265.00deg,#c4d6ed 265.00deg 265.60deg,#aabde1 265.60deg 266.20deg,#d8e6f4 266.20deg 266.80deg,#aec0e3 266.80deg 267.40deg,#c5d6ed 267.40deg 268.00deg,#c5d7ed 268.00deg 268.60deg,#97a2d5 268.60deg 269.20deg,#a2b3dd 269.20deg 269.80deg,#98a3d6 269.80deg 270.40deg,#96a1d5 270.40deg 271.00deg,#9daddb 271.00deg 271.60deg,#9dacda 271.60deg 272.20deg,#a2b4de 272.20deg 272.80deg,#9eaedb 272.80deg 273.40deg,#a6b8e0 273.40deg 274.00deg,#97a2d6 274.00deg 274.60deg,#b2c6e5 274.60deg 275.20deg,#b4c8e6 275.20deg 275.80deg,#959fd4 275.80deg 276.40deg,#c5d7ed 276.40deg 277.00deg,#b0c3e4 277.00deg 277.60deg,#afc2e4 277.60deg 278.80deg,#a4b6de 278.80deg 279.40deg,#939cd3 279.40deg 280.00deg,#a4b6df 280.00deg 280.60deg,#a9bbe1 280.60deg 281.20deg,#ccdcef 281.20deg 281.80deg,#b5c8e6 281.80deg 282.40deg,#a0b2dd 282.40deg 283.00deg,transparent 283.00deg 284.50deg,#b2c5e5 284.50deg 285.10deg,#a4b6de 285.10deg 285.69deg,#9fb0dc 285.69deg 286.29deg,#8a8bca 286.29deg 286.89deg,#abbde2 286.89deg 287.48deg,#a7b9e0 287.48deg 288.08deg,#b0c4e4 288.08deg 288.68deg,#9fb0dc 288.68deg 289.27deg,#8d92ce 289.27deg 289.87deg,#8e93ce 289.87deg 290.47deg,#939bd2 290.47deg 291.06deg,#a9bce1 291.06deg 291.66deg,#b1c4e5 291.66deg 292.26deg,#a4b5de 292.26deg 292.85deg,#898bca 292.85deg 293.45deg,#8e92ce 293.45deg 294.05deg,#98a4d7 294.05deg 294.64deg,#a7b9e0 294.64deg 295.24deg,#a6b8df 295.24deg 295.84deg,#a7b9e0 295.84deg 296.43deg,#9ba9d9 296.43deg 297.03deg,#9baad9 297.03deg 297.63deg,#a4b6de 297.63deg 298.22deg,#bfd2eb 298.22deg 298.82deg,#d8e6f4 298.82deg 299.42deg,#bed1ea 299.42deg 300.01deg,#bacde9 300.01deg 300.61deg,#bed1ea 300.61deg 301.21deg,#acbfe2 301.21deg 301.80deg,#9cabd9 301.80deg 302.40deg,transparent 302.40deg 303.90deg,#d0dff1 303.90deg 304.51deg,#bed1ea 304.51deg 305.11deg,#b3c6e5 305.11deg 305.72deg,#a2b4de 305.72deg 306.32deg,#acbee2 306.32deg 306.93deg,#b9cde8 306.93deg 307.54deg,#cadbef 307.54deg 308.14deg,#d8e6f4 308.14deg 308.75deg,#a7b9e0 308.75deg 309.35deg,#abbee2 309.35deg 309.96deg,#9fb0dc 309.96deg 310.57deg,#aec0e3 310.57deg 311.17deg,#8b8ecc 311.17deg 311.78deg,#929ad2 311.78deg 312.38deg,#8b8ecc 312.38deg 312.99deg,#aabce1 312.99deg 313.60deg,#8e93cf 313.60deg 314.20deg,#a7b8e0 314.20deg 314.81deg,#929ad2 314.81deg 315.42deg,#a6b8df 315.42deg 316.02deg,#acbee2 316.02deg 316.63deg,#cdddf0 316.63deg 317.23deg,#a3b5de 317.23deg 317.84deg,#b1c4e5 317.84deg 318.45deg,#b5c9e7 318.45deg 319.05deg,#acbee2 319.05deg 319.66deg,#b3c6e6 319.66deg 320.26deg,#c5d7ed 320.26deg 320.87deg,#adbfe3 320.87deg 321.48deg,#c4d6ed 321.48deg 322.08deg,#d8e6f4 322.08deg 322.69deg,#b5c9e7 322.69deg 323.29deg,#c8d9ee 323.29deg 323.90deg,transparent 323.90deg 325.30deg,#abbee2 325.30deg 325.90deg,#a1b2dd 325.90deg 326.51deg,#99a6d7 326.51deg 327.11deg,#9daddb 327.11deg 327.71deg,#97a2d6 327.71deg 328.32deg,#a5b6df 328.32deg 328.92deg,#afc2e4 328.92deg 329.52deg,#99a5d7 329.52deg 330.13deg,#9caad9 330.13deg 330.73deg,#939bd2 330.73deg 331.33deg,#959fd4 331.33deg 331.94deg,#9fb0dc 331.94deg 332.54deg,#98a5d7 332.54deg 333.14deg,#9096d0 333.14deg 333.75deg,#8681c4 333.75deg 334.35deg,#8a8ccb 334.35deg 334.96deg,#99a6d7 334.96deg 335.56deg,#adbfe3 335.56deg 336.16deg,#bed1ea 336.16deg 336.77deg,#c1d3eb 336.77deg 337.37deg,#bdd0ea 337.37deg 337.97deg,#d8e6f4 337.97deg 338.58deg,#c0d3eb 338.58deg 339.18deg,#b6c9e7 339.18deg 339.78deg,#d6e4f3 339.78deg 340.39deg,#a6b8e0 340.39deg 340.99deg,#9fb1dc 340.99deg 341.59deg,#a0b1dd 341.59deg 342.20deg,#a7b9e0 342.20deg 342.80deg,transparent 342.80deg 344.40deg,#8e93ce 344.40deg 345.01deg,#adbfe3 345.01deg 345.62deg,#d1e0f1 345.62deg 346.23deg,#ccdcef 346.23deg 346.84deg,#b0c3e4 346.84deg 347.45deg,#b4c8e6 347.45deg 348.06deg,#c3d5ec 348.06deg 348.67deg,#b7cbe8 348.67deg 349.28deg,#98a3d6 349.28deg 349.89deg,#9aa7d8 349.89deg 350.50deg,#9198d1 350.50deg 351.10deg,#9fb0dc 351.10deg 351.71deg,#8e94cf 351.71deg 352.32deg,#959fd4 352.32deg 352.93deg,#a2b3dd 352.93deg 353.54deg,#959fd4 353.54deg 354.15deg,#98a5d7 354.15deg 354.76deg,#aec0e3 354.76deg 355.37deg,#d8e6f4 355.37deg 355.98deg,#d5e4f3 355.98deg 356.59deg,#cedef0 356.59deg 357.20deg,transparent 357.20deg 360.00deg)}
.tw{left:161.10px;top:78.90px;width:147.20px;height:147.20px;background:#fff}</style></head>
<body>
<div class="trk tb"></div><div class="trk tc"></div><div class="trk td"></div><div class="trk te"></div><div class="trk tw"></div>
<svg width="926" height="521" viewBox="0 0 926 521">
<defs><linearGradient id="g0" x1="0" y1="0" x2="0" y2="1"><stop offset="0.00" stop-color="#3aa77a"/><stop offset="0.25" stop-color="#a8dcd2"/><stop offset="0.50" stop-color="#c4e8e2"/><stop offset="0.75" stop-color="#daf1ee"/><stop offset="1.00" stop-color="#ecf7f7"/></linearGradient><linearGradient id="g1" x1="0" y1="0" x2="0" y2="1"><stop offset="0.00" stop-color="#a8127a"/><stop offset="0.33" stop-color="#bc2486"/><stop offset="0.67" stop-color="#d03a94"/><stop offset="1.00" stop-color="#e04a9e"/></linearGradient><linearGradient id="g2" x1="0" y1="0" x2="0" y2="1"><stop offset="0.00" stop-color="#c8281a"/><stop offset="0.33" stop-color="#d8401c"/><stop offset="0.67" stop-color="#e86020"/><stop offset="1.00" stop-color="#f39040"/></linearGradient><linearGradient id="g3" x1="0" y1="0" x2="0" y2="1"><stop offset="0.00" stop-color="#6a3d9a"/><stop offset="0.25" stop-color="#a8c0e0"/><stop offset="0.50" stop-color="#cfe2ee"/><stop offset="0.75" stop-color="#e2eff4"/><stop offset="1.00" stop-color="#eaf4f6"/></linearGradient></defs>
<g id="circos">
<g><path d="M305.4 137.3Q234.7 152.5 184.6 100.4" stroke="#8da0cb" stroke-opacity="0.71" stroke-width="0.65" fill="none"/>
<path d="M306 140.7Q234.7 152.5 183.3 101.6" stroke="#8da0cb" stroke-opacity="0.68" stroke-width="0.35" fill="none"/>
<path d="M186.2 98.9Q234.7 152.5 192.5 211.2" stroke="#66a61e" stroke-opacity="0.66" stroke-width="0.34" fill="none"/>
<path d="M186.9 98.3Q234.7 152.5 193.2 211.7" stroke="#66a61e" stroke-opacity="0.75" stroke-width="0.31" fill="none"/>
<path d="M188 97.3Q234.7 152.5 195.6 213.3" stroke="#66a61e" stroke-opacity="0.68" stroke-width="0.35" fill="none"/>
<path d="M175.8 110.6Q234.7 152.5 294 111.1" stroke="#66a61e" stroke-opacity="0.58" stroke-width="0.30" fill="none"/>
<path d="M177.7 108Q234.7 152.5 292.3 108.8" stroke="#66a61e" stroke-opacity="0.66" stroke-width="0.70" fill="none"/>
<path d="M306.5 143.7Q234.7 152.5 168.3 181" stroke="#d95f02" stroke-opacity="0.76" stroke-width="0.41" fill="none"/>
<path d="M306.8 147Q234.7 152.5 168.9 182.5" stroke="#d95f02" stroke-opacity="0.56" stroke-width="0.40" fill="none"/>
<path d="M177.7 196.9Q234.7 152.5 276.7 211.4" stroke="#d95f02" stroke-opacity="0.69" stroke-width="0.39" fill="none"/>
<path d="M175.8 194.5Q234.7 152.5 278.8 209.8" stroke="#d95f02" stroke-opacity="0.60" stroke-width="0.43" fill="none"/>
<path d="M163.2 163.4Q234.7 152.5 290.2 198.9" stroke="#7570b3" stroke-opacity="0.53" stroke-width="0.63" fill="none"/>
<path d="M181.6 103.4Q234.7 152.5 288.6 104.3" stroke="#fc8d62" stroke-opacity="0.61" stroke-width="0.67" fill="none"/>
<path d="M182.7 102.2Q234.7 152.5 287.2 102.7" stroke="#fc8d62" stroke-opacity="0.76" stroke-width="0.30" fill="none"/>
<path d="M224.7 224.1Q234.7 152.5 196 91.5" stroke="#b3b3b3" stroke-opacity="0.61" stroke-width="0.65" fill="none"/>
<path d="M178 107.6Q234.7 152.5 287.8 201.6" stroke="#66a61e" stroke-opacity="0.71" stroke-width="0.47" fill="none"/>
<path d="M179.1 106.3Q234.7 152.5 288.3 201" stroke="#66a61e" stroke-opacity="0.55" stroke-width="0.70" fill="none"/>
<path d="M179.6 105.6Q234.7 152.5 289.5 199.7" stroke="#66a61e" stroke-opacity="0.75" stroke-width="0.53" fill="none"/>
<path d="M286.7 102.3Q234.7 152.5 182 103" stroke="#fc8d62" stroke-opacity="0.54" stroke-width="0.40" fill="none"/>
<path d="M287.9 103.5Q234.7 152.5 180.3 104.9" stroke="#fc8d62" stroke-opacity="0.54" stroke-width="0.54" fill="none"/>
<path d="M220.2 81.7Q234.7 152.5 165.6 173.7" stroke="#d95f02" stroke-opacity="0.67" stroke-width="0.49" fill="none"/>
<path d="M220.9 81.5Q234.7 152.5 166 175.1" stroke="#d95f02" stroke-opacity="0.75" stroke-width="0.44" fill="none"/>
<path d="M221.2 81.5Q234.7 152.5 166.4 176.3" stroke="#d95f02" stroke-opacity="0.70" stroke-width="0.46" fill="none"/>
<path d="M275.9 211.9Q234.7 152.5 275.4 92.7" stroke="#ffd92f" stroke-opacity="0.63" stroke-width="0.51" fill="none"/>
<path d="M165.1 133Q234.7 152.5 224.3 224" stroke="#e7298a" stroke-opacity="0.77" stroke-width="0.63" fill="none"/>
<path d="M165.6 131.3Q234.7 152.5 225.9 224.3" stroke="#e7298a" stroke-opacity="0.70" stroke-width="0.68" fill="none"/>
<path d="M165.8 130.6Q234.7 152.5 226.5 224.3" stroke="#e7298a" stroke-opacity="0.62" stroke-width="0.39" fill="none"/>
<path d="M168.8 182.3Q234.7 152.5 305.2 168.6" stroke="#d95f02" stroke-opacity="0.61" stroke-width="0.68" fill="none"/>
<path d="M162.7 146.2Q234.7 152.5 294.7 192.8" stroke="#a6d854" stroke-opacity="0.61" stroke-width="0.45" fill="none"/>
<path d="M162.9 143.7Q234.7 152.5 295.7 191.3" stroke="#a6d854" stroke-opacity="0.71" stroke-width="0.63" fill="none"/>
<path d="M163.1 142.7Q234.7 152.5 295.9 191" stroke="#a6d854" stroke-opacity="0.71" stroke-width="0.58" fill="none"/>
<path d="M306.4 161.5Q234.7 152.5 187.3 207.1" stroke="#1b9e77" stroke-opacity="0.67" stroke-width="0.44" fill="none"/>
<path d="M273.8 213.3Q234.7 152.5 170.4 119.4" stroke="#ffd92f" stroke-opacity="0.64" stroke-width="0.54" fill="none"/>
<path d="M272.1 214.4Q234.7 152.5 169.4 121.6" stroke="#ffd92f" stroke-opacity="0.68" stroke-width="0.54" fill="none"/>
<path d="M271.2 214.9Q234.7 152.5 169.1 122.1" stroke="#ffd92f" stroke-opacity="0.74" stroke-width="0.67" fill="none"/>
<path d="M236.7 224.8Q234.7 152.5 183.7 101.2" stroke="#66a61e" stroke-opacity="0.65" stroke-width="0.68" fill="none"/>
<path d="M235.3 224.8Q234.7 152.5 183 102" stroke="#66a61e" stroke-opacity="0.69" stroke-width="0.63" fill="none"/>
<path d="M189.5 208.9Q234.7 152.5 302.3 178.1" stroke="#1b9e77" stroke-opacity="0.67" stroke-width="0.62" fill="none"/>
<path d="M196.4 213.8Q234.7 152.5 202.4 87.8" stroke="#e6ab02" stroke-opacity="0.68" stroke-width="0.50" fill="none"/>
<path d="M194.8 212.8Q234.7 152.5 201.8 88.1" stroke="#e6ab02" stroke-opacity="0.68" stroke-width="0.32" fill="none"/>
<path d="M193.9 212.2Q234.7 152.5 200.8 88.6" stroke="#e6ab02" stroke-opacity="0.64" stroke-width="0.52" fill="none"/>
<path d="M242.2 80.6Q234.7 152.5 196.8 214.1" stroke="#66c2a5" stroke-opacity="0.57" stroke-width="0.32" fill="none"/>
<path d="M244.9 80.9Q234.7 152.5 199.7 215.7" stroke="#66c2a5" stroke-opacity="0.67" stroke-width="0.32" fill="none"/>
<path d="M256.2 221.5Q234.7 152.5 196.9 90.9" stroke="#e5c494" stroke-opacity="0.62" stroke-width="0.36" fill="none"/>
<path d="M254.4 222.1Q234.7 152.5 196.8 90.9" stroke="#e5c494" stroke-opacity="0.62" stroke-width="0.50" fill="none"/>
<path d="M299 119.4Q234.7 152.5 199.5 89.4" stroke="#e6ab02" stroke-opacity="0.61" stroke-width="0.55" fill="none"/>
<path d="M300.1 121.7Q234.7 152.5 197.5 90.5" stroke="#e6ab02" stroke-opacity="0.72" stroke-width="0.66" fill="none"/>
<path d="M300.9 123.5Q234.7 152.5 197.1 90.8" stroke="#e6ab02" stroke-opacity="0.66" stroke-width="0.46" fill="none"/>
<path d="M268 88.3Q234.7 152.5 222.9 223.8" stroke="#b3b3b3" stroke-opacity="0.74" stroke-width="0.66" fill="none"/>
<path d="M171.5 187.6Q234.7 152.5 288.2 201.1" stroke="#a6d854" stroke-opacity="0.56" stroke-width="0.36" fill="none"/>
<path d="M169.8 184.3Q234.7 152.5 289.8 199.3" stroke="#a6d854" stroke-opacity="0.58" stroke-width="0.64" fill="none"/>
<path d="M300.4 122.2Q234.7 152.5 162.8 144.9" stroke="#8da0cb" stroke-opacity="0.75" stroke-width="0.74" fill="none"/>
<path d="M301.7 125.4Q234.7 152.5 162.5 149.1" stroke="#8da0cb" stroke-opacity="0.63" stroke-width="0.41" fill="none"/>
<path d="M298.5 118.4Q234.7 152.5 163.7 138.6" stroke="#8da0cb" stroke-opacity="0.64" stroke-width="0.95" fill="none"/>
<path d="M299 119.5Q234.7 152.5 163.4 140.5" stroke="#8da0cb" stroke-opacity="0.72" stroke-width="0.74" fill="none"/>
<path d="M300.1 121.6Q234.7 152.5 162.9 144.4" stroke="#8da0cb" stroke-opacity="0.75" stroke-width="0.37" fill="none"/>
<path d="M300.7 122.9Q234.7 152.5 162.7 146.1" stroke="#8da0cb" stroke-opacity="0.77" stroke-width="0.49" fill="none"/>
<path d="M301 123.7Q234.7 152.5 162.5 148" stroke="#8da0cb" stroke-opacity="0.67" stroke-width="0.78" fill="none"/>
<path d="M301.8 125.5Q234.7 152.5 162.4 151.8" stroke="#8da0cb" stroke-opacity="0.66" stroke-width="0.43" fill="none"/>
<path d="M302.2 126.5Q234.7 152.5 162.4 152.9" stroke="#8da0cb" stroke-opacity="0.61" stroke-width="0.56" fill="none"/>
<path d="M302.8 128.3Q234.7 152.5 162.4 155" stroke="#8da0cb" stroke-opacity="0.64" stroke-width="0.71" fill="none"/>
<path d="M303.4 129.9Q234.7 152.5 162.7 158.8" stroke="#8da0cb" stroke-opacity="0.72" stroke-width="0.84" fill="none"/>
<path d="M303.6 130.7Q234.7 152.5 162.9 160.6" stroke="#8da0cb" stroke-opacity="0.64" stroke-width="0.76" fill="none"/>
<path d="M162.5 155.7Q234.7 152.5 305.6 138.5" stroke="#7570b3" stroke-opacity="0.57" stroke-width="0.61" fill="none"/>
<path d="M162.4 154.1Q234.7 152.5 305.5 137.9" stroke="#7570b3" stroke-opacity="0.70" stroke-width="0.85" fill="none"/>
<path d="M162.4 150.6Q234.7 152.5 304.4 133.2" stroke="#7570b3" stroke-opacity="0.56" stroke-width="0.56" fill="none"/>
<path d="M162.6 147.3Q234.7 152.5 303.8 131.1" stroke="#7570b3" stroke-opacity="0.56" stroke-width="0.63" fill="none"/>
<path d="M162.9 143.8Q234.7 152.5 303.2 129.3" stroke="#7570b3" stroke-opacity="0.73" stroke-width="0.74" fill="none"/>
<path d="M163.5 140.2Q234.7 152.5 302.1 126.4" stroke="#7570b3" stroke-opacity="0.76" stroke-width="0.74" fill="none"/>
<path d="M306.5 161Q234.7 152.5 166.9 127.5" stroke="#e78ac3" stroke-opacity="0.58" stroke-width="0.78" fill="none"/>
<path d="M306.3 162.5Q234.7 152.5 166.3 129.1" stroke="#e78ac3" stroke-opacity="0.60" stroke-width="0.79" fill="none"/>
<path d="M305.9 164.9Q234.7 152.5 165.8 130.5" stroke="#e78ac3" stroke-opacity="0.56" stroke-width="0.44" fill="none"/>
<path d="M305.7 166.4Q234.7 152.5 165.7 130.9" stroke="#e78ac3" stroke-opacity="0.54" stroke-width="0.39" fill="none"/>
<path d="M305.4 167.5Q234.7 152.5 165.3 132.3" stroke="#e78ac3" stroke-opacity="0.56" stroke-width="0.72" fill="none"/>
<path d="M304.9 170Q234.7 152.5 164.9 133.8" stroke="#e78ac3" stroke-opacity="0.75" stroke-width="0.53" fill="none"/>
<path d="M167.1 126.9Q234.7 152.5 304.1 172.6" stroke="#e7298a" stroke-opacity="0.73" stroke-width="0.38" fill="none"/>
<path d="M168.2 124.1Q234.7 152.5 304.8 170.4" stroke="#e7298a" stroke-opacity="0.63" stroke-width="0.85" fill="none"/>
<path d="M169.4 121.6Q234.7 152.5 305.4 167.5" stroke="#e7298a" stroke-opacity="0.60" stroke-width="0.51" fill="none"/>
<path d="M170.2 119.8Q234.7 152.5 305.8 165.8" stroke="#e7298a" stroke-opacity="0.75" stroke-width="0.53" fill="none"/>
<path d="M172 116.6Q234.7 152.5 306.3 162.8" stroke="#e7298a" stroke-opacity="0.60" stroke-width="0.39" fill="none"/>
<path d="M175.8 110.6Q234.7 152.5 306.7 159.5" stroke="#e7298a" stroke-opacity="0.60" stroke-width="0.47" fill="none"/>
<path d="M178.1 107.5Q234.7 152.5 306.9 156.4" stroke="#e7298a" stroke-opacity="0.56" stroke-width="0.35" fill="none"/>
<path d="M180.6 104.6Q234.7 152.5 307 154.4" stroke="#e7298a" stroke-opacity="0.76" stroke-width="0.59" fill="none"/>
<path d="M177 196Q234.7 152.5 303.9 173.5" stroke="#b3b3b3" stroke-opacity="0.61" stroke-width="0.81" fill="none"/>
<path d="M176.5 195.4Q234.7 152.5 304.3 171.9" stroke="#b3b3b3" stroke-opacity="0.62" stroke-width="0.53" fill="none"/>
<path d="M175.9 194.6Q234.7 152.5 304.7 170.6" stroke="#b3b3b3" stroke-opacity="0.63" stroke-width="0.84" fill="none"/>
<path d="M174.9 193.2Q234.7 152.5 305.2 168.3" stroke="#b3b3b3" stroke-opacity="0.71" stroke-width="0.65" fill="none"/>
<path d="M174.5 192.6Q234.7 152.5 305.3 168.2" stroke="#b3b3b3" stroke-opacity="0.53" stroke-width="0.40" fill="none"/>
<path d="M173.7 191.3Q234.7 152.5 305.9 165.1" stroke="#b3b3b3" stroke-opacity="0.64" stroke-width="0.56" fill="none"/>
<path d="M174.8 193.1Q234.7 152.5 276.4 211.6" stroke="#ffd92f" stroke-opacity="0.59" stroke-width="0.61" fill="none"/>
<path d="M174.6 192.6Q234.7 152.5 276.9 211.2" stroke="#ffd92f" stroke-opacity="0.79" stroke-width="0.43" fill="none"/>
<path d="M173.9 191.6Q234.7 152.5 278.3 210.2" stroke="#ffd92f" stroke-opacity="0.64" stroke-width="0.44" fill="none"/>
<path d="M173.2 190.5Q234.7 152.5 279.5 209.3" stroke="#ffd92f" stroke-opacity="0.66" stroke-width="0.61" fill="none"/>
<path d="M163.5 165.1Q234.7 152.5 288.9 200.4" stroke="#66c2a5" stroke-opacity="0.76" stroke-width="0.51" fill="none"/>
<path d="M163.3 164Q234.7 152.5 288.9 200.4" stroke="#66c2a5" stroke-opacity="0.70" stroke-width="0.52" fill="none"/>
<path d="M162.9 160.8Q234.7 152.5 289.8 199.3" stroke="#66c2a5" stroke-opacity="0.54" stroke-width="0.31" fill="none"/>
<path d="M162.5 157Q234.7 152.5 291.5 197.2" stroke="#66c2a5" stroke-opacity="0.64" stroke-width="0.60" fill="none"/>
<path d="M304.7 134.5Q234.7 152.5 172.5 189.4" stroke="#66c2a5" stroke-opacity="0.58" stroke-width="0.49" fill="none"/>
<path d="M305.8 139.2Q234.7 152.5 174.2 192" stroke="#66c2a5" stroke-opacity="0.76" stroke-width="0.60" fill="none"/>
<path d="M306.1 140.9Q234.7 152.5 175 193.2" stroke="#66c2a5" stroke-opacity="0.54" stroke-width="0.27" fill="none"/>
<path d="M306.7 146.1Q234.7 152.5 176.7 195.7" stroke="#66c2a5" stroke-opacity="0.55" stroke-width="0.61" fill="none"/>
<path d="M193.4 211.8Q234.7 152.5 302 126.1" stroke="#e78ac3" stroke-opacity="0.54" stroke-width="0.78" fill="none"/>
<path d="M191 210.1Q234.7 152.5 301.3 124.3" stroke="#e78ac3" stroke-opacity="0.59" stroke-width="0.36" fill="none"/>
<path d="M188.7 208.2Q234.7 152.5 300.7 122.9" stroke="#e78ac3" stroke-opacity="0.76" stroke-width="0.45" fill="none"/>
<path d="M187 206.8Q234.7 152.5 299.8 121" stroke="#e78ac3" stroke-opacity="0.55" stroke-width="0.57" fill="none"/>
<path d="M178.4 107.2Q234.7 152.5 293.1 195.2" stroke="#66a61e" stroke-opacity="0.67" stroke-width="0.45" fill="none"/>
<path d="M181.5 103.5Q234.7 152.5 294.8 192.6" stroke="#66a61e" stroke-opacity="0.64" stroke-width="0.46" fill="none"/>
<path d="M183.3 101.6Q234.7 152.5 297.1 189" stroke="#66a61e" stroke-opacity="0.75" stroke-width="0.54" fill="none"/>
<path d="M205.9 86.2Q234.7 152.5 276.5 211.5" stroke="#e6ab02" stroke-opacity="0.55" stroke-width="0.52" fill="none"/>
<path d="M208.3 85.2Q234.7 152.5 278.4 210.1" stroke="#e6ab02" stroke-opacity="0.60" stroke-width="0.44" fill="none"/>
<path d="M210.3 84.4Q234.7 152.5 279.1 209.5" stroke="#e6ab02" stroke-opacity="0.63" stroke-width="0.37" fill="none"/>
<path d="M217.7 82.2Q234.7 152.5 234.6 224.8" stroke="#a6761d" stroke-opacity="0.54" stroke-width="0.49" fill="none"/>
<path d="M218.8 82Q234.7 152.5 237.9 224.7" stroke="#a6761d" stroke-opacity="0.63" stroke-width="0.45" fill="none"/>
<path d="M220.5 81.6Q234.7 152.5 242 224.4" stroke="#a6761d" stroke-opacity="0.69" stroke-width="0.71" fill="none"/>
<path d="M203.7 217.8Q234.7 152.5 289.8 199.3" stroke="#a6d854" stroke-opacity="0.59" stroke-width="0.50" fill="none"/>
<path d="M200.1 216Q234.7 152.5 293.9 194.1" stroke="#a6d854" stroke-opacity="0.62" stroke-width="0.50" fill="none"/>
<path d="M198.5 215.1Q234.7 152.5 293.8 194.2" stroke="#a6d854" stroke-opacity="0.51" stroke-width="0.28" fill="none"/>
<path d="M194.8 212.8Q234.7 152.5 297 189.2" stroke="#a6d854" stroke-opacity="0.57" stroke-width="0.38" fill="none"/>
<path d="M195.7 91.6Q234.7 152.5 289.2 105" stroke="#e7298a" stroke-opacity="0.63" stroke-width="0.26" fill="none"/>
<path d="M199.8 89.2Q234.7 152.5 285.1 100.7" stroke="#e7298a" stroke-opacity="0.53" stroke-width="0.48" fill="none"/>
<path d="M201 88.5Q234.7 152.5 283.2 98.8" stroke="#e7298a" stroke-opacity="0.60" stroke-width="0.27" fill="none"/>
<path d="M203 87.5Q234.7 152.5 282.1 97.9" stroke="#e7298a" stroke-opacity="0.54" stroke-width="0.47" fill="none"/>
<path d="M200.2 216Q234.7 152.5 291.9 108.2" stroke="#e78ac3" stroke-opacity="0.64" stroke-width="0.53" fill="none"/>
<path d="M198.3 215Q234.7 152.5 290 105.9" stroke="#e78ac3" stroke-opacity="0.65" stroke-width="0.44" fill="none"/>
<path d="M195.1 213Q234.7 152.5 287.4 103" stroke="#e78ac3" stroke-opacity="0.62" stroke-width="0.57" fill="none"/>
<path d="M192.5 211.2Q234.7 152.5 284.5 100.1" stroke="#e78ac3" stroke-opacity="0.57" stroke-width="0.25" fill="none"/>
<path d="M239.1 80.3Q234.7 152.5 183.7 203.7" stroke="#66c2a5" stroke-opacity="0.64" stroke-width="0.88" fill="none"/>
<path d="M240.5 80.4Q234.7 152.5 184.9 204.9" stroke="#66c2a5" stroke-opacity="0.63" stroke-width="0.77" fill="none"/>
<path d="M242.5 80.6Q234.7 152.5 187.8 207.6" stroke="#66c2a5" stroke-opacity="0.79" stroke-width="0.57" fill="none"/>
<path d="M244.7 80.9Q234.7 152.5 188.7 208.2" stroke="#66c2a5" stroke-opacity="0.69" stroke-width="0.67" fill="none"/>
<path d="M245.7 81Q234.7 152.5 189.6 209" stroke="#66c2a5" stroke-opacity="0.80" stroke-width="0.50" fill="none"/>
<path d="M247.7 81.4Q234.7 152.5 192 210.9" stroke="#66c2a5" stroke-opacity="0.79" stroke-width="0.91" fill="none"/>
<path d="M264.2 86.5Q234.7 152.5 162.4 153.2" stroke="#66c2a5" stroke-opacity="0.65" stroke-width="0.70" fill="none"/>
<path d="M266.1 87.4Q234.7 152.5 162.5 155.5" stroke="#66c2a5" stroke-opacity="0.53" stroke-width="0.45" fill="none"/>
<path d="M267.7 88.2Q234.7 152.5 162.6 157.5" stroke="#66c2a5" stroke-opacity="0.62" stroke-width="0.59" fill="none"/>
<path d="M270.8 89.9Q234.7 152.5 163 162.1" stroke="#66c2a5" stroke-opacity="0.69" stroke-width="0.82" fill="none"/>
<path d="M225.7 224.2Q234.7 152.5 165 171.9" stroke="#b3b3b3" stroke-opacity="0.74" stroke-width="0.79" fill="none"/>
<path d="M223.2 223.9Q234.7 152.5 165.3 172.8" stroke="#b3b3b3" stroke-opacity="0.66" stroke-width="0.48" fill="none"/>
<path d="M220.5 223.4Q234.7 152.5 166 174.9" stroke="#b3b3b3" stroke-opacity="0.81" stroke-width="0.73" fill="none"/>
<path d="M218.6 223Q234.7 152.5 166 175.1" stroke="#b3b3b3" stroke-opacity="0.74" stroke-width="0.77" fill="none"/>
<path d="M214.8 222Q234.7 152.5 167 177.7" stroke="#b3b3b3" stroke-opacity="0.76" stroke-width="0.88" fill="none"/>
<path d="M306.2 163.3Q234.7 152.5 172.4 115.8" stroke="#e78ac3" stroke-opacity="0.67" stroke-width="0.55" fill="none"/>
<path d="M305.8 165.5Q234.7 152.5 171.2 117.9" stroke="#e78ac3" stroke-opacity="0.71" stroke-width="0.65" fill="none"/>
<path d="M305.7 166.1Q234.7 152.5 170.4 119.4" stroke="#e78ac3" stroke-opacity="0.77" stroke-width="0.85" fill="none"/>
<path d="M305.3 168.1Q234.7 152.5 169.5 121.2" stroke="#e78ac3" stroke-opacity="0.80" stroke-width="0.45" fill="none"/>
<path d="M304.9 169.8Q234.7 152.5 169 122.3" stroke="#e78ac3" stroke-opacity="0.67" stroke-width="0.90" fill="none"/>
<path d="M304.4 171.8Q234.7 152.5 168.1 124.5" stroke="#e78ac3" stroke-opacity="0.81" stroke-width="0.97" fill="none"/>
<path d="M168.6 123.2Q234.7 152.5 304.8 170.4" stroke="#e7298a" stroke-opacity="0.85" stroke-width="0.44" fill="none"/>
<path d="M169.8 120.6Q234.7 152.5 305.4 167.8" stroke="#e7298a" stroke-opacity="0.85" stroke-width="0.59" fill="none"/>
<path d="M170.4 119.4Q234.7 152.5 305.7 166.1" stroke="#e7298a" stroke-opacity="0.65" stroke-width="0.57" fill="none"/>
<path d="M171.2 118Q234.7 152.5 306 164.5" stroke="#e7298a" stroke-opacity="0.65" stroke-width="0.44" fill="none"/>
<path d="M172.3 116Q234.7 152.5 306.4 162" stroke="#e7298a" stroke-opacity="0.80" stroke-width="0.70" fill="none"/>
<path d="M238.9 80.6A72.0 72.0 0 0 1 240.5 80.7Q234.7 152.5 306.7 150.1A72.0 72.0 0 0 1 306.7 151.5Q234.7 152.5 238.9 80.6Z" fill="#66c2a5" fill-opacity="0.69" stroke="#fff" stroke-width="0.25" stroke-opacity="0.6"/>
<path d="M239.7 81.7Q234.7 152.5 305.7 150.8" stroke="#66c2a5" stroke-opacity="0.69" stroke-width="0.81" fill="none"/>
<path d="M241.1 80.8A72.0 72.0 0 0 1 242.7 80.9Q234.7 152.5 306.6 148.2A72.0 72.0 0 0 1 306.6 149.6Q234.7 152.5 241.1 80.8Z" fill="#66c2a5" fill-opacity="0.78" stroke="#fff" stroke-width="0.25" stroke-opacity="0.6"/>
<path d="M241.8 81.9Q234.7 152.5 305.6 149" stroke="#66c2a5" stroke-opacity="0.78" stroke-width="0.81" fill="none"/>
<path d="M243.3 81A72.0 72.0 0 0 1 244.8 81.2Q234.7 152.5 306.4 146.3A72.0 72.0 0 0 1 306.5 147.7Q234.7 152.5 243.3 81Z" fill="#66c2a5" fill-opacity="0.86" stroke="#fff" stroke-width="0.25" stroke-opacity="0.6"/>
<path d="M243.9 82.1Q234.7 152.5 305.5 147.1" stroke="#66c2a5" stroke-opacity="0.86" stroke-width="0.81" fill="none"/>
<path d="M245.4 81.3A72.0 72.0 0 0 1 247 81.6Q234.7 152.5 306.2 144.4A72.0 72.0 0 0 1 306.4 145.8Q234.7 152.5 245.4 81.3Z" fill="#66c2a5" fill-opacity="0.88" stroke="#fff" stroke-width="0.25" stroke-opacity="0.6"/>
<path d="M246 82.4Q234.7 152.5 305.3 145.2" stroke="#66c2a5" stroke-opacity="0.88" stroke-width="0.81" fill="none"/>
<path d="M247.6 81.7A72.0 72.0 0 0 1 249.1 82Q234.7 152.5 306 142.5A72.0 72.0 0 0 1 306.2 143.9Q234.7 152.5 247.6 81.7Z" fill="#66c2a5" fill-opacity="0.75" stroke="#fff" stroke-width="0.25" stroke-opacity="0.6"/>
<path d="M248.1 82.8Q234.7 152.5 305.1 143.3" stroke="#66c2a5" stroke-opacity="0.75" stroke-width="0.81" fill="none"/>
<path d="M253.6 82.7Q234.7 152.5 306.8 158.4" stroke="#66c2a5" stroke-opacity="0.89" stroke-width="1.13" fill="none"/>
<path d="M254.9 83.1Q234.7 152.5 306.8 158.2" stroke="#66c2a5" stroke-opacity="0.72" stroke-width="0.98" fill="none"/>
<path d="M255.4 83.2Q234.7 152.5 306.8 157.5" stroke="#66c2a5" stroke-opacity="0.91" stroke-width="0.70" fill="none"/>
<path d="M257.4 83.9Q234.7 152.5 306.9 156.3" stroke="#66c2a5" stroke-opacity="0.97" stroke-width="1.40" fill="none"/>
<path d="M258.9 84.4Q234.7 152.5 306.9 155.3" stroke="#66c2a5" stroke-opacity="0.71" stroke-width="1.08" fill="none"/>
<path d="M259.3 84.5Q234.7 152.5 306.9 155.5" stroke="#66c2a5" stroke-opacity="0.89" stroke-width="0.80" fill="none"/>
<path d="M261.3 85.3Q234.7 152.5 307 154.3" stroke="#66c2a5" stroke-opacity="0.79" stroke-width="0.71" fill="none"/>
<path d="M261.9 85.5Q234.7 152.5 307 153.9" stroke="#66c2a5" stroke-opacity="0.83" stroke-width="1.20" fill="none"/>
<path d="M221.5 81.4Q234.7 152.5 181.1 201" stroke="#1b9e77" stroke-opacity="0.85" stroke-width="1.28" fill="none"/>
<path d="M222.3 81.3Q234.7 152.5 181.9 201.9" stroke="#1b9e77" stroke-opacity="0.86" stroke-width="0.57" fill="none"/>
<path d="M224.9 80.9Q234.7 152.5 183.3 203.3" stroke="#1b9e77" stroke-opacity="0.84" stroke-width="0.79" fill="none"/>
<path d="M226.4 80.7Q234.7 152.5 184.2 204.3" stroke="#1b9e77" stroke-opacity="0.89" stroke-width="0.91" fill="none"/>
<path d="M227.8 80.5Q234.7 152.5 185.2 205.2" stroke="#1b9e77" stroke-opacity="0.84" stroke-width="0.51" fill="none"/>
<path d="M228.9 80.4Q234.7 152.5 185.5 205.5" stroke="#1b9e77" stroke-opacity="0.93" stroke-width="0.70" fill="none"/>
<path d="M183.6 203.6Q234.7 152.5 279.5 95.7" stroke="#1b9e77" stroke-opacity="0.66" stroke-width="0.52" fill="none"/>
<path d="M182.1 202.1Q234.7 152.5 276.7 93.6" stroke="#1b9e77" stroke-opacity="0.57" stroke-width="0.37" fill="none"/>
<path d="M181.5 201.4Q234.7 152.5 276.1 93.3" stroke="#1b9e77" stroke-opacity="0.58" stroke-width="0.61" fill="none"/>
<path d="M276.1 93.2Q234.7 152.5 300.7 182" stroke="#fc8d62" stroke-opacity="0.74" stroke-width="2.10" fill="none"/>
<path d="M278.8 95.2Q234.7 152.5 301.7 179.7" stroke="#fc8d62" stroke-opacity="0.73" stroke-width="2.09" fill="none"/>
<path d="M281.6 97.5Q234.7 152.5 302.3 178.2" stroke="#fc8d62" stroke-opacity="1.00" stroke-width="1.95" fill="none"/>
<path d="M284.5 100.1Q234.7 152.5 302.9 176.6" stroke="#fc8d62" stroke-opacity="0.97" stroke-width="1.60" fill="none"/>
<path d="M286.4 101.9Q234.7 152.5 303.8 173.8" stroke="#fc8d62" stroke-opacity="0.84" stroke-width="2.18" fill="none"/>
<path d="M289.6 105.5Q234.7 152.5 304.6 171" stroke="#fc8d62" stroke-opacity="0.97" stroke-width="1.76" fill="none"/>
<path d="M290.7 106.8Q234.7 152.5 304.9 169.8" stroke="#fc8d62" stroke-opacity="0.85" stroke-width="1.99" fill="none"/>
<path d="M196.5 91.5A72.0 72.0 0 0 1 198.5 90.3Q234.7 152.5 165.4 171.9A72.0 72.0 0 0 1 164.9 170.3Q234.7 152.5 196.5 91.5Z" fill="#d95f02" fill-opacity="0.76" stroke="#fff" stroke-width="0.25" stroke-opacity="0.6"/>
<path d="M198 91.7Q234.7 152.5 166.1 170.9" stroke="#d95f02" stroke-opacity="0.76" stroke-width="1.11" fill="none"/>
<path d="M199.3 89.8A72.0 72.0 0 0 1 201.4 88.7Q234.7 152.5 166 174.2A72.0 72.0 0 0 1 165.6 172.6Q234.7 152.5 199.3 89.8Z" fill="#d95f02" fill-opacity="0.81" stroke="#fff" stroke-width="0.25" stroke-opacity="0.6"/>
<path d="M200.8 90.1Q234.7 152.5 166.7 173.1" stroke="#d95f02" stroke-opacity="0.81" stroke-width="1.11" fill="none"/>
<path d="M202.2 88.2A72.0 72.0 0 0 1 204.3 87.2Q234.7 152.5 166.8 176.4A72.0 72.0 0 0 1 166.2 174.8Q234.7 152.5 202.2 88.2Z" fill="#d95f02" fill-opacity="0.77" stroke="#fff" stroke-width="0.25" stroke-opacity="0.6"/>
<path d="M203.7 88.6Q234.7 152.5 167.4 175.3" stroke="#d95f02" stroke-opacity="0.77" stroke-width="1.11" fill="none"/>
<path d="M205.2 86.8A72.0 72.0 0 0 1 207.4 85.9Q234.7 152.5 167.6 178.5A72.0 72.0 0 0 1 167 177Q234.7 152.5 205.2 86.8Z" fill="#d95f02" fill-opacity="0.85" stroke="#fff" stroke-width="0.25" stroke-opacity="0.6"/>
<path d="M206.7 87.3Q234.7 152.5 168.2 177.4" stroke="#d95f02" stroke-opacity="0.85" stroke-width="1.11" fill="none"/>
<path d="M297.9 186.9A72.0 72.0 0 0 1 297.1 188.4Q234.7 152.5 199.1 215.1A72.0 72.0 0 0 1 197.4 214.1Q234.7 152.5 297.9 186.9Z" fill="#a6d854" fill-opacity="0.73" stroke="#fff" stroke-width="0.25" stroke-opacity="0.6"/>
<path d="M296.6 187.2Q234.7 152.5 198.8 213.7" stroke="#a6d854" stroke-opacity="0.73" stroke-width="1.00" fill="none"/>
<path d="M296.8 189A72.0 72.0 0 0 1 295.9 190.5Q234.7 152.5 201.4 216.3A72.0 72.0 0 0 1 199.7 215.4Q234.7 152.5 296.8 189Z" fill="#a6d854" fill-opacity="0.74" stroke="#fff" stroke-width="0.25" stroke-opacity="0.6"/>
<path d="M295.5 189.2Q234.7 152.5 201.1 215" stroke="#a6d854" stroke-opacity="0.74" stroke-width="1.00" fill="none"/>
<path d="M295.5 191.1A72.0 72.0 0 0 1 294.6 192.5Q234.7 152.5 203.8 217.5A72.0 72.0 0 0 1 202.1 216.7Q234.7 152.5 295.5 191.1Z" fill="#a6d854" fill-opacity="0.80" stroke="#fff" stroke-width="0.25" stroke-opacity="0.6"/>
<path d="M294.2 191.2Q234.7 152.5 203.4 216.2" stroke="#a6d854" stroke-opacity="0.80" stroke-width="1.00" fill="none"/>
<path d="M294.2 193.1A72.0 72.0 0 0 1 293.2 194.5Q234.7 152.5 206.2 218.6A72.0 72.0 0 0 1 204.5 217.8Q234.7 152.5 294.2 193.1Z" fill="#a6d854" fill-opacity="0.72" stroke="#fff" stroke-width="0.25" stroke-opacity="0.6"/>
<path d="M292.9 193.2Q234.7 152.5 205.7 217.3" stroke="#a6d854" stroke-opacity="0.72" stroke-width="1.00" fill="none"/>
<path d="M292.8 195A72.0 72.0 0 0 1 291.8 196.4Q234.7 152.5 208.7 219.6A72.0 72.0 0 0 1 206.9 218.9Q234.7 152.5 292.8 195Z" fill="#a6d854" fill-opacity="0.79" stroke="#fff" stroke-width="0.25" stroke-opacity="0.6"/>
<path d="M291.5 195.1Q234.7 152.5 208.2 218.4" stroke="#a6d854" stroke-opacity="0.79" stroke-width="1.00" fill="none"/>
<path d="M273 213.5A72.0 72.0 0 0 1 271.8 214.2Q234.7 152.5 232 224.4A72.0 72.0 0 0 1 230.8 224.4Q234.7 152.5 273 213.5Z" fill="#ffd92f" fill-opacity="0.92" stroke="#fff" stroke-width="0.25" stroke-opacity="0.6"/>
<path d="M271.9 213Q234.7 152.5 231.4 223.4" stroke="#ffd92f" stroke-opacity="0.92" stroke-width="0.71" fill="none"/>
<path d="M271.4 214.5A72.0 72.0 0 0 1 270.1 215.2Q234.7 152.5 233.6 224.5A72.0 72.0 0 0 1 232.5 224.5Q234.7 152.5 271.4 214.5Z" fill="#ffd92f" fill-opacity="0.92" stroke="#fff" stroke-width="0.25" stroke-opacity="0.6"/>
<path d="M270.3 214Q234.7 152.5 233.1 223.5" stroke="#ffd92f" stroke-opacity="0.92" stroke-width="0.71" fill="none"/>
<path d="M269.7 215.4A72.0 72.0 0 0 1 268.4 216.1Q234.7 152.5 235.3 224.5A72.0 72.0 0 0 1 234.1 224.5Q234.7 152.5 269.7 215.4Z" fill="#ffd92f" fill-opacity="0.76" stroke="#fff" stroke-width="0.25" stroke-opacity="0.6"/>
<path d="M268.6 214.9Q234.7 152.5 234.7 223.5" stroke="#ffd92f" stroke-opacity="0.76" stroke-width="0.71" fill="none"/>
<path d="M268 216.4A72.0 72.0 0 0 1 266.7 217Q234.7 152.5 236.9 224.5A72.0 72.0 0 0 1 235.7 224.5Q234.7 152.5 268 216.4Z" fill="#ffd92f" fill-opacity="0.72" stroke="#fff" stroke-width="0.25" stroke-opacity="0.6"/>
<path d="M266.9 215.8Q234.7 152.5 236.3 223.5" stroke="#ffd92f" stroke-opacity="0.72" stroke-width="0.71" fill="none"/>
<path d="M266.2 217.2A72.0 72.0 0 0 1 264.9 217.8Q234.7 152.5 238.6 224.4A72.0 72.0 0 0 1 237.4 224.4Q234.7 152.5 266.2 217.2Z" fill="#ffd92f" fill-opacity="0.91" stroke="#fff" stroke-width="0.25" stroke-opacity="0.6"/>
<path d="M265.1 216.6Q234.7 152.5 237.9 223.4" stroke="#ffd92f" stroke-opacity="0.91" stroke-width="0.71" fill="none"/>
<path d="M281.5 207.6Q234.7 152.5 240.8 224.5" stroke="#ffd92f" stroke-opacity="0.91" stroke-width="1.09" fill="none"/>
<path d="M279.8 209Q234.7 152.5 242.3 224.4" stroke="#ffd92f" stroke-opacity="0.72" stroke-width="0.65" fill="none"/>
<path d="M278.4 210.1Q234.7 152.5 244.3 224.2" stroke="#ffd92f" stroke-opacity="0.79" stroke-width="0.89" fill="none"/>
<path d="M276.3 211.7Q234.7 152.5 245.1 224" stroke="#ffd92f" stroke-opacity="0.83" stroke-width="1.15" fill="none"/>
<path d="M275.3 212.3Q234.7 152.5 246.4 223.9" stroke="#ffd92f" stroke-opacity="0.92" stroke-width="0.97" fill="none"/>
<path d="M259.3 220.2A72.0 72.0 0 0 1 256.8 221Q234.7 152.5 280.2 208.3A72.0 72.0 0 0 1 279 209.3Q234.7 152.5 259.3 220.2Z" fill="#e5c494" fill-opacity="0.77" stroke="#fff" stroke-width="0.25" stroke-opacity="0.6"/>
<path d="M257.7 219.7Q234.7 152.5 279 208" stroke="#e5c494" stroke-opacity="0.77" stroke-width="1.12" fill="none"/>
<path d="M255.8 221.3A72.0 72.0 0 0 1 253.3 222Q234.7 152.5 281.7 207A72.0 72.0 0 0 1 280.6 208Q234.7 152.5 255.8 221.3Z" fill="#e5c494" fill-opacity="0.85" stroke="#fff" stroke-width="0.25" stroke-opacity="0.6"/>
<path d="M254.3 220.7Q234.7 152.5 280.5 206.7" stroke="#e5c494" stroke-opacity="0.85" stroke-width="1.12" fill="none"/>
<path d="M252.4 222.3A72.0 72.0 0 0 1 249.8 222.9Q234.7 152.5 283.2 205.7A72.0 72.0 0 0 1 282.1 206.7Q234.7 152.5 252.4 222.3Z" fill="#e5c494" fill-opacity="0.78" stroke="#fff" stroke-width="0.25" stroke-opacity="0.6"/>
<path d="M250.9 221.6Q234.7 152.5 282 205.4" stroke="#e5c494" stroke-opacity="0.78" stroke-width="1.12" fill="none"/>
<path d="M284.4 205Q234.7 152.5 214.9 222" stroke="#ffd92f" stroke-opacity="0.85" stroke-width="0.83" fill="none"/>
<path d="M284 205.4Q234.7 152.5 216.7 222.5" stroke="#ffd92f" stroke-opacity="0.82" stroke-width="0.86" fill="none"/>
<path d="M282.9 206.4Q234.7 152.5 220.5 223.4" stroke="#ffd92f" stroke-opacity="0.75" stroke-width="0.37" fill="none"/>
<path d="M282.5 206.8Q234.7 152.5 221.6 223.6" stroke="#ffd92f" stroke-opacity="0.83" stroke-width="0.39" fill="none"/></g>
<path d="M240.1 43A109.65 109.65 0 0 1 292.2 59.1L289.3 63.8A104.15 104.15 0 0 0 239.8 48.5Z" fill="#66c2a5" stroke="#111" stroke-width="1.3"/>
<path d="M294.3 60.4A109.65 109.65 0 0 1 328.4 95.5L323.7 98.4A104.15 104.15 0 0 0 291.3 65.1Z" fill="#fc8d62" stroke="#111" stroke-width="1.3"/>
<path d="M329.7 97.7A109.65 109.65 0 0 1 344.3 151L338.8 151A104.15 104.15 0 0 0 324.9 100.4Z" fill="#8da0cb" stroke="#111" stroke-width="1.3"/>
<path d="M344.3 153.6A109.65 109.65 0 0 1 334.6 197.8L329.5 195.5A104.15 104.15 0 0 0 338.8 153.6Z" fill="#e78ac3" stroke="#111" stroke-width="1.3"/>
<path d="M333.5 200.1A109.65 109.65 0 0 1 312.5 229.8L308.6 225.9A104.15 104.15 0 0 0 328.5 197.7Z" fill="#a6d854" stroke="#111" stroke-width="1.3"/>
<path d="M310.6 231.6A109.65 109.65 0 0 1 280 252.4L277.7 247.3A104.15 104.15 0 0 0 306.8 227.7Z" fill="#ffd92f" stroke="#111" stroke-width="1.3"/>
<path d="M277.7 253.4A109.65 109.65 0 0 1 228.8 262L229.1 256.5A104.15 104.15 0 0 0 275.6 248.3Z" fill="#e5c494" stroke="#111" stroke-width="1.3"/>
<path d="M225.9 261.8A109.65 109.65 0 0 1 198.6 256.1L200.4 250.9A104.15 104.15 0 0 0 226.3 256.3Z" fill="#b3b3b3" stroke="#111" stroke-width="1.3"/>
<path d="M196.1 255.1A109.65 109.65 0 0 1 152.7 225.3L156.8 221.6A104.15 104.15 0 0 0 198.1 250Z" fill="#1b9e77" stroke="#111" stroke-width="1.3"/>
<path d="M150.9 223.3A109.65 109.65 0 0 1 128.2 178.7L133.6 177.3A104.15 104.15 0 0 0 155.2 219.7Z" fill="#d95f02" stroke="#111" stroke-width="1.3"/>
<path d="M127.5 175.7A109.65 109.65 0 0 1 127.9 127.8L133.2 129.1A104.15 104.15 0 0 0 132.9 174.5Z" fill="#7570b3" stroke="#111" stroke-width="1.3"/>
<path d="M128.5 125A109.65 109.65 0 0 1 142.1 93.7L146.8 96.7A104.15 104.15 0 0 0 133.9 126.4Z" fill="#e7298a" stroke="#111" stroke-width="1.3"/>
<path d="M143.7 91.3A109.65 109.65 0 0 1 170.1 63.9L173.3 68.3A104.15 104.15 0 0 0 148.3 94.4Z" fill="#66a61e" stroke="#111" stroke-width="1.3"/>
<path d="M172.3 62.4A109.65 109.65 0 0 1 202.3 47.8L203.9 53A104.15 104.15 0 0 0 175.4 66.9Z" fill="#e6ab02" stroke="#111" stroke-width="1.3"/>
<path d="M205.2 46.9A109.65 109.65 0 0 1 229.3 43L229.6 48.5A104.15 104.15 0 0 0 206.7 52.2Z" fill="#a6761d" stroke="#111" stroke-width="1.3"/>
<path d="M240.1 42.6L240.2 40.8M242.3 42.8L242.4 41.4M244.5 42.9L244.6 41.5M246.7 43.2L246.8 41.8M248.9 43.4L249.1 42M251.1 43.7L251.3 42.3M253.3 44.1L253.5 42.7M255.4 44.5L255.7 43.1M257.6 44.9L258 43.1M259.8 45.4L260.1 44M261.9 45.9L262.3 44.6M264 46.5L264.4 45.1M266.2 47.1L266.6 45.8M268.3 47.8L268.7 46.4M270.4 48.4L270.8 47.1M272.5 49.2L272.9 47.9M274.5 50L275.2 48.3M276.6 50.8L277.1 49.5M278.6 51.7L279.2 50.4M280.6 52.6L281.2 51.3M282.6 53.5L283.3 52.2M284.6 54.5L285.3 53.2M286.6 55.5L287.2 54.3M288.5 56.6L289.2 55.3M290.4 57.7L291.4 56.1M292.3 58.8L293.1 57.6M294.4 60.1L295.4 58.6M296.5 61.5L297.3 60.4M298.5 62.9L299.4 61.8M300.5 64.4L301.4 63.3M302.5 65.9L303.4 64.8M304.4 67.4L305.3 66.4M306.3 69L307.3 68M308.2 70.7L309.1 69.6M310 72.3L311.3 71M311.8 74.1L312.8 73.1M313.6 75.8L314.6 74.8M315.3 77.6L316.3 76.7M316.9 79.4L318 78.5M318.6 81.3L319.6 80.4M320.1 83.2L321.2 82.3M321.7 85.2L322.8 84.3M323.2 87.1L324.6 86.1M324.6 89.1L325.8 88.3M326 91.2L327.2 90.4M327.4 93.3L328.6 92.5M328.7 95.4L329.9 94.6M330 97.5L331.5 96.6M331.1 99.5L332.3 98.8M332.2 101.5L333.4 100.9M333.2 103.6L334.5 103M334.2 105.6L335.5 105M335.2 107.7L336.5 107.2M336.1 109.8L337.4 109.3M337 112L338.3 111.4M337.8 114.1L339.5 113.5M338.6 116.3L339.9 115.8M339.3 118.4L340.6 118M340 120.6L341.3 120.2M340.6 122.8L342 122.5M341.2 125.1L342.6 124.7M341.8 127.3L343.1 127M342.3 129.5L343.6 129.2M342.7 131.8L344.5 131.5M343.1 134L344.5 133.8M343.5 136.3L344.9 136.1M343.8 138.6L345.2 138.4M344.1 140.9L345.5 140.7M344.3 143.2L345.7 143M344.5 145.5L345.9 145.4M344.6 147.7L346 147.7M344.7 150L346.5 150M344.7 153.7L346.5 153.7M344.6 155.9L346 156M344.6 158.2L345.9 158.3M344.4 160.5L345.8 160.6M344.2 162.8L345.6 162.9M344 165L345.4 165.2M343.7 167.3L345.1 167.5M343.4 169.6L344.7 169.8M343 171.8L344.8 172.1M342.6 174.1L343.9 174.3M342.1 176.3L343.5 176.6M341.6 178.5L342.9 178.9M341 180.7L342.4 181.1M340.4 182.9L341.7 183.3M339.7 185.1L341.1 185.6M339 187.3L340.4 187.8M338.3 189.5L340 190.1M337.5 191.6L338.8 192.1M336.7 193.7L338 194.3M335.8 195.9L337.1 196.4M334.9 197.9L336.2 198.5M333.8 200.2L335.4 201M332.8 202.3L334 202.9M331.7 204.4L332.9 205.1M330.6 206.5L331.8 207.1M329.4 208.5L330.6 209.2M328.2 210.5L329.4 211.2M326.9 212.5L328.1 213.2M325.6 214.4L326.8 215.2M324.3 216.4L325.7 217.4M322.9 218.3L324 219.1M321.4 220.1L322.6 221M320 222L321.1 222.9M318.5 223.8L319.5 224.7M316.9 225.6L318 226.5M315.4 227.3L316.4 228.2M313.7 229L314.7 230M310.8 231.9L312.1 233.2M309.1 233.5L310.1 234.5M307.4 235L308.3 236.1M305.6 236.6L306.5 237.6M303.9 238L304.7 239.1M302 239.5L302.9 240.6M300.2 240.9L301 242M298.3 242.3L299.1 243.4M296.4 243.6L297.4 245.1M294.4 244.9L295.2 246M292.5 246.1L293.2 247.3M290.5 247.3L291.2 248.5M288.4 248.5L289.1 249.7M286.4 249.6L287.1 250.8M284.3 250.7L285 251.9M282.3 251.7L282.9 253M280.1 252.7L280.9 254.3M277.9 253.7L278.6 255.3M275.7 254.6L276.2 255.9M273.5 255.4L274 256.7M271.3 256.2L271.8 257.5M269.1 257L269.6 258.3M266.9 257.7L267.3 259M264.7 258.3L265.1 259.7M262.4 258.9L262.8 260.3M260.2 259.5L260.6 261.3M257.9 260L258.2 261.4M255.6 260.5L255.9 261.9M253.3 260.9L253.6 262.3M251 261.3L251.3 262.7M248.7 261.6L248.9 263M246.4 261.9L246.6 263.3M244.1 262.1L244.2 263.5M241.8 262.3L241.9 264.1M239.5 262.4L239.5 263.8M237.1 262.5L237.2 263.9M234.8 262.5L234.8 263.9M232.5 262.5L232.4 263.9M230.1 262.4L230.1 263.8M225.9 262.1L225.7 263.9M223.6 261.9L223.4 263.3M221.2 261.7L221.1 263.1M218.9 261.4L218.7 262.7M216.6 261L216.4 262.4M214.3 260.6L214 262M212 260.1L211.7 261.5M209.7 259.6L209.4 261M207.5 259.1L207 260.8M205.2 258.5L204.8 259.8M203 257.8L202.6 259.2M200.7 257.1L200.3 258.5M198.5 256.4L198.1 257.7M196 255.5L195.4 257.2M193.8 254.6L193.3 255.9M191.7 253.7L191.1 255M189.6 252.8L189 254.1M187.5 251.8L186.9 253.1M185.4 250.8L184.7 252.1M183.3 249.8L182.7 251M181.3 248.7L180.6 249.9M179.3 247.5L178.3 249.1M177.3 246.3L176.5 247.5M175.3 245.1L174.5 246.3M173.4 243.8L172.6 245M171.4 242.5L170.6 243.6M169.6 241.1L168.7 242.3M167.7 239.7L166.9 240.9M165.9 238.3L165 239.4M164.1 236.8L162.9 238.2M162.3 235.3L161.4 236.4M160.6 233.8L159.6 234.8M158.9 232.2L157.9 233.2M157.2 230.6L156.2 231.6M155.6 228.9L154.6 229.9M154 227.3L153 228.2M152.4 225.5L151.4 226.5M150.7 223.5L149.3 224.7M149.2 221.7L148.1 222.6M147.8 219.9L146.7 220.8M146.4 218.1L145.3 218.9M145 216.2L143.9 217M143.7 214.3L142.6 215.1M142.4 212.4L141.3 213.2M141.2 210.5L140 211.2M140 208.5L138.5 209.4M138.9 206.5L137.6 207.2M137.8 204.5L136.5 205.1M136.7 202.4L135.4 203.1M135.7 200.4L134.4 201M134.7 198.3L133.4 198.9M133.7 196.2L132.5 196.7M132.9 194.1L131.6 194.6M132 191.9L130.3 192.6M131.2 189.8L129.9 190.2M130.4 187.6L129.1 188M129.7 185.4L128.4 185.8M129.1 183.2L127.7 183.6M128.4 181L127.1 181.3M127.9 178.7L126.5 179.1M127.2 175.7L125.4 176.1M126.7 173.5L125.3 173.8M126.3 171.2L124.9 171.5M125.9 168.9L124.6 169.2M125.6 166.7L124.2 166.8M125.3 164.4L124 164.5M125.1 162.1L123.7 162.2M124.9 159.8L123.5 159.9M124.8 157.5L123 157.6M124.7 155.2L123.3 155.2M124.7 152.9L123.3 152.9M124.7 150.6L123.3 150.6M124.8 148.3L123.4 148.2M124.9 146L123.5 145.9M125.1 143.7L123.7 143.6M125.3 141.4L123.9 141.2M125.5 139.1L123.7 138.9M125.8 136.8L124.4 136.6M126.2 134.5L124.8 134.3M126.6 132.3L125.2 132M127 130L125.7 129.7M127.5 127.8L126.2 127.4M128.2 125L126.5 124.5M128.8 122.7L127.5 122.4M129.4 120.5L128.1 120.1M130.1 118.4L128.8 117.9M130.9 116.2L129.5 115.7M131.6 114L130.3 113.5M132.5 111.9L131.2 111.4M133.3 109.8L132 109.2M134.2 107.7L132.6 106.9M135.2 105.6L133.9 105M136.2 103.5L134.9 102.9M137.2 101.5L136 100.8M138.3 99.5L137.1 98.8M139.5 97.5L138.2 96.8M140.6 95.5L139.4 94.8M141.8 93.6L140.6 92.8M143.4 91.1L141.9 90.1M144.7 89.2L143.6 88.4M146.1 87.4L144.9 86.5M147.4 85.5L146.3 84.7M148.9 83.7L147.8 82.8M150.3 81.9L149.3 81M151.8 80.1L150.8 79.2M153.4 78.4L152.3 77.5M155 76.7L153.7 75.5M156.6 75.1L155.6 74.1M158.2 73.4L157.2 72.4M159.9 71.9L158.9 70.8M161.6 70.3L160.7 69.2M163.4 68.8L162.4 67.7M165.1 67.3L164.2 66.2M166.9 65.9L166.1 64.7M168.8 64.4L167.7 63M172.1 62.1L171.1 60.6M174 60.8L173.2 59.6M175.9 59.6L175.1 58.4M177.8 58.4L177.1 57.2M179.7 57.2L179.1 56M181.7 56.1L181.1 54.9M183.7 55L183.1 53.8M185.8 54L185.1 52.7M187.8 53L187 51.4M189.9 52.1L189.3 50.8M191.9 51.2L191.4 49.9M194 50.3L193.5 49M196.2 49.5L195.7 48.2M198.3 48.7L197.8 47.4M200.4 48L200 46.6M205.1 46.6L204.6 44.8M207.4 46L207 44.6M209.6 45.4L209.3 44M211.9 44.9L211.6 43.5M214.1 44.4L213.9 43.1M216.4 44L216.2 42.6M218.7 43.7L218.5 42.3M221 43.4L220.8 42M223.3 43.1L223.1 41.3M225.6 42.9L225.5 41.5M227.9 42.7L227.9 41.3" stroke="#222" stroke-width="0.6" fill="none"/>
<text x="244.6" y="40.9" transform="rotate(5.1 244.6 40.9)" class="tk">0Mb</text>
<text x="258" y="43" transform="rotate(12 258 43)" class="tk">40Mb</text>
<text x="275.3" y="48.1" transform="rotate(21.2 275.3 48.1)" class="tk">80Mb</text>
<text x="287.3" y="53.6" transform="rotate(28 287.3 53.6)" class="tk">120Mb</text>
<text x="299.2" y="60.9" transform="rotate(35.2 299.2 60.9)" class="tk">0Mb</text>
<text x="311.4" y="70.9" transform="rotate(43.2 311.4 70.9)" class="tk">40Mb</text>
<text x="324.8" y="85.9" transform="rotate(53.5 324.8 85.9)" class="tk">80Mb</text>
<text x="333.8" y="100.4" transform="rotate(62.3 333.8 100.4)" class="tk">0Mb</text>
<text x="339.7" y="113.4" transform="rotate(69.6 339.7 113.4)" class="tk">40Mb</text>
<text x="344.7" y="131.4" transform="rotate(79.1 344.7 131.4)" class="tk">80Mb</text>
<text x="346.4" y="144" transform="rotate(85.6 346.4 144)" class="tk">120Mb</text>
<text x="350" y="158.3" transform="rotate(-87.1 350 158.3)" class="tk">0Mb</text>
<text x="348.3" y="172.8" transform="rotate(-79.9 348.3 172.8)" class="tk">40Mb</text>
<text x="343.4" y="191.3" transform="rotate(-70.4 343.4 191.3)" class="tk">80Mb</text>
<text x="336.6" y="206.6" transform="rotate(-62 336.6 206.6)" class="tk">0Mb</text>
<text x="328.7" y="219.5" transform="rotate(-54.5 328.7 219.5)" class="tk">40Mb</text>
<text x="311.2" y="238.9" transform="rotate(-41.5 311.2 238.9)" class="tk">0Mb</text>
<text x="299.4" y="248.1" transform="rotate(-34.1 299.4 248.1)" class="tk">40Mb</text>
<text x="287.7" y="255" transform="rotate(-27.3 287.7 255)" class="tk">80Mb</text>
<text x="275.7" y="260.4" transform="rotate(-20.8 275.7 260.4)" class="tk">0Mb</text>
<text x="261.4" y="264.8" transform="rotate(-13.4 261.4 264.8)" class="tk">40Mb</text>
<text x="242.1" y="267.7" transform="rotate(-3.7 242.1 267.7)" class="tk">80Mb</text>
<text x="220.9" y="267.1" transform="rotate(6.9 220.9 267.1)" class="tk">0Mb</text>
<text x="206.1" y="264.3" transform="rotate(14.3 206.1 264.3)" class="tk">40Mb</text>
<text x="189.9" y="258.8" transform="rotate(22.9 189.9 258.8)" class="tk">0Mb</text>
<text x="176.5" y="252.2" transform="rotate(30.3 176.5 252.2)" class="tk">40Mb</text>
<text x="160.6" y="241" transform="rotate(39.9 160.6 241)" class="tk">80Mb</text>
<text x="143.7" y="223.4" transform="rotate(52.1 143.7 223.4)" class="tk">0Mb</text>
<text x="135.4" y="211.2" transform="rotate(59.4 135.4 211.2)" class="tk">40Mb</text>
<text x="127" y="193.9" transform="rotate(69 127 193.9)" class="tk">80Mb</text>
<text x="121" y="172.4" transform="rotate(80.1 121 172.4)" class="tk">0Mb</text>
<text x="119.4" y="157.7" transform="rotate(87.4 119.4 157.7)" class="tk">40Mb</text>
<text x="123.5" y="138.9" transform="rotate(277 123.5 138.9)" class="tk">80Mb</text>
<text x="127.5" y="120.2" transform="rotate(286.8 127.5 120.2)" class="tk">0Mb</text>
<text x="132.4" y="106.9" transform="rotate(294 132.4 106.9)" class="tk">40Mb</text>
<text x="144.3" y="86.4" transform="rotate(306.2 144.3 86.4)" class="tk">0Mb</text>
<text x="153.5" y="75.3" transform="rotate(313.5 153.5 75.3)" class="tk">40Mb</text>
<text x="164.2" y="65.5" transform="rotate(321 164.2 65.5)" class="tk">80Mb</text>
<text x="174.6" y="58" transform="rotate(327.6 174.6 58)" class="tk">0Mb</text>
<text x="186.9" y="51.2" transform="rotate(334.8 186.9 51.2)" class="tk">40Mb</text>
<text x="208.9" y="43.5" transform="rotate(346.7 208.9 43.5)" class="tk">0Mb</text>
<text x="223.1" y="41.1" transform="rotate(354.1 223.1 41.1)" class="tk">40Mb</text>
<text x="276.8" y="42.9" transform="rotate(21 276.8 42.9)" class="cn" textLength="25.8" lengthAdjust="spacingAndGlyphs">Chr01</text>
<text x="319.4" y="71.2" transform="rotate(46.2 319.4 71.2)" class="cn" textLength="25.8" lengthAdjust="spacingAndGlyphs">Chr02</text>
<text x="349" y="125.9" transform="rotate(76.9 349 125.9)" class="cn" textLength="25.8" lengthAdjust="spacingAndGlyphs">Chr03</text>
<text x="355.4" y="180.8" transform="rotate(-76.8 355.4 180.8)" class="cn" textLength="25.8" lengthAdjust="spacingAndGlyphs">Chr04</text>
<text x="337.7" y="221.5" transform="rotate(-56.2 337.7 221.5)" class="cn" textLength="25.8" lengthAdjust="spacingAndGlyphs">Chr05</text>
<text x="306.5" y="253.6" transform="rotate(-35.4 306.5 253.6)" class="cn" textLength="25.8" lengthAdjust="spacingAndGlyphs">Chr06</text>
<text x="262.2" y="273.4" transform="rotate(-12.8 262.2 273.4)" class="cn" textLength="25.8" lengthAdjust="spacingAndGlyphs">Chr07</text>
<text x="211.3" y="274.3" transform="rotate(10.9 211.3 274.3)" class="cn" textLength="25.8" lengthAdjust="spacingAndGlyphs">Chr08</text>
<text x="168.3" y="257.2" transform="rotate(32.4 168.3 257.2)" class="cn" textLength="25.8" lengthAdjust="spacingAndGlyphs">Chr09</text>
<text x="126.5" y="213" transform="rotate(60.8 126.5 213)" class="cn" textLength="25.8" lengthAdjust="spacingAndGlyphs">Chr10</text>
<text x="117.3" y="153.3" transform="rotate(269.6 117.3 153.3)" class="cn" textLength="25.8" lengthAdjust="spacingAndGlyphs">Chr11</text>
<text x="126.6" y="106.8" transform="rotate(292.9 126.6 106.8)" class="cn" textLength="25.8" lengthAdjust="spacingAndGlyphs">Chr12</text>
<text x="148.4" y="72.9" transform="rotate(312.7 148.4 72.9)" class="cn" textLength="25.8" lengthAdjust="spacingAndGlyphs">Chr13</text>
<text x="180.9" y="48.2" transform="rotate(332.7 180.9 48.2)" class="cn" textLength="25.8" lengthAdjust="spacingAndGlyphs">Chr14</text>
<text x="216.5" y="36.5" transform="rotate(351.1 216.5 36.5)" class="cn" textLength="25.8" lengthAdjust="spacingAndGlyphs">Chr15</text>
<text x="236.8" y="44.9" class="tl">a</text>
<text x="236.6" y="52.4" class="tl">b</text>
<text x="236.5" y="59.9" class="tl">c</text>
<text x="236.3" y="67.3" class="tl">d</text>
<text x="236.2" y="74.6" class="tl">e</text>
</g>
<g id="legend"><text x="357.8" y="34.1" class="lg" textLength="83.4" lengthAdjust="spacingAndGlyphs">a Chromosome ideograms</text><text x="357.8" y="49.8" class="lg" textLength="39.2" lengthAdjust="spacingAndGlyphs">b TE density</text><rect x="357.8" y="51.3" width="6" height="12.3" fill="url(#g0)"/><text x="365.2" y="55.8" class="lv" textLength="17.8" lengthAdjust="spacingAndGlyphs">0.956</text><text x="365.2" y="63.9" class="lv" textLength="17.6" lengthAdjust="spacingAndGlyphs">0.054</text><text x="357.8" y="71.4" class="lg" textLength="44.3" lengthAdjust="spacingAndGlyphs">c SSR density</text><rect x="357.8" y="72.9" width="6" height="12.3" fill="url(#g1)"/><text x="365.2" y="77.4" class="lv" textLength="3.4" lengthAdjust="spacingAndGlyphs">1</text><text x="365.2" y="85.5" class="lv" textLength="17.8" lengthAdjust="spacingAndGlyphs">0.008</text><text x="357.8" y="93.5" class="lg" textLength="47.5" lengthAdjust="spacingAndGlyphs">d Gene density</text><rect x="357.8" y="95" width="6" height="12.3" fill="url(#g2)"/><text x="365.2" y="99.5" class="lv" textLength="11" lengthAdjust="spacingAndGlyphs">141</text><text x="365.2" y="107.6" class="lv" textLength="4.6" lengthAdjust="spacingAndGlyphs">0</text><text x="357.8" y="115.4" class="lg" textLength="42" lengthAdjust="spacingAndGlyphs">e GC content</text><rect x="357.8" y="116.9" width="6" height="12.3" fill="url(#g3)"/><text x="365.2" y="121.4" class="lv" textLength="17.6" lengthAdjust="spacingAndGlyphs">54.92</text><text x="365.2" y="129.5" class="lv" textLength="21.1" lengthAdjust="spacingAndGlyphs">26.167</text></g>
<text x="112.6" y="40.2" class="pl">A</text>
<text x="442.2" y="40.5" class="pl">B</text>
<text x="109.6" y="294.2" class="pl">C</text>
<g id="panelB"><rect x="445" y="57" width="31.6" height="178.5" fill="#d5d5d5"/><rect x="613.6" y="57" width="74.4" height="178.5" fill="#d5d5d5"/><rect x="723" y="57" width="4.5" height="178.5" fill="#d5d5d5"/><rect x="445" y="235.5" width="31.6" height="25" fill="#2ea8c4"/><text x="456.4" y="250.7" class="era" textLength="13" lengthAdjust="spacingAndGlyphs">Ju.</text><rect x="476.6" y="235.5" width="137" height="25" fill="#74b94f"/><text x="523.8" y="250.7" class="era" textLength="52.3" lengthAdjust="spacingAndGlyphs">Cretaceous</text><rect x="613.6" y="235.5" width="74.5" height="25" fill="#eeec84"/><text x="646.9" y="250.7" class="era" textLength="14.3" lengthAdjust="spacingAndGlyphs">Pa.</text><rect x="688.1" y="235.5" width="35.1" height="25" fill="#f4da2a"/><text x="702" y="250.7" class="era" textLength="15.2" lengthAdjust="spacingAndGlyphs">Ne.</text><rect x="723.2" y="235.5" width="4.6" height="25" fill="#f0ec98"/><line x1="445.1" y1="52.6" x2="445.1" y2="55.6" stroke="#555" stroke-width="0.7"/><text x="442.1" y="52.4" class="tick" textLength="11.5" lengthAdjust="spacingAndGlyphs">160</text><line x1="476.4" y1="52.6" x2="476.4" y2="55.6" stroke="#555" stroke-width="0.7"/><text x="473.4" y="52.4" class="tick" textLength="11.6" lengthAdjust="spacingAndGlyphs">140</text><line x1="613.6" y1="52.6" x2="613.6" y2="55.6" stroke="#555" stroke-width="0.7"/><text x="610.6" y="52.4" class="tick" textLength="7.8" lengthAdjust="spacingAndGlyphs">66</text><line x1="688" y1="52.6" x2="688" y2="55.6" stroke="#555" stroke-width="0.7"/><text x="685" y="52.4" class="tick" textLength="7.8" lengthAdjust="spacingAndGlyphs">23</text><line x1="723.1" y1="52.6" x2="723.1" y2="55.6" stroke="#555" stroke-width="0.7"/><text x="720.2" y="52.4" class="tick" textLength="10" lengthAdjust="spacingAndGlyphs">2.6</text><line x1="727.6" y1="52.6" x2="727.6" y2="55.6" stroke="#555" stroke-width="0.7"/><path d="M445 87.6H464.1M464.1 57.2V118.3M464.1 57.2H727M464.1 118.3H640.8M640.8 88.7V147.8M640.8 88.7H671M671 78.3V99.1M671 78.3H727M671 99.1H727M640.8 147.8H654.1M654.1 120.2V175M654.1 120.2H727M654.1 175H682.7M682.7 151.3V198.5M682.7 151.3H715.4M715.4 140.6V162M715.4 140.6H727M715.4 162H727M682.7 198.5H693.7M693.7 182.9V214.2M693.7 182.9H727M693.7 214.2H698.2M698.2 204.6V223.9M698.2 204.6H727M698.2 223.9H727" stroke="#1a1a1a" stroke-width="1.1" fill="none" stroke-linecap="square"/><text x="467.8" y="90.5" class="nl" textLength="51" lengthAdjust="spacingAndGlyphs">141.97–163.37</text><text x="673.7" y="90.7" class="nl" textLength="43.5" lengthAdjust="spacingAndGlyphs">20.09–43.29</text><text x="643" y="119.7" class="nl" textLength="38.7" lengthAdjust="spacingAndGlyphs">46.7–52.52</text><text x="656.5" y="149.5" class="nl" textLength="43.7" lengthAdjust="spacingAndGlyphs">40.04–45.48</text><text x="718.4" y="154.9" class="nl" textLength="34.8" lengthAdjust="spacingAndGlyphs">4.57–8.15</text><text x="685.7" y="177.1" class="nl" textLength="42.8" lengthAdjust="spacingAndGlyphs">21.83–30.55</text><text x="696" y="198.3" class="nl" textLength="42.5" lengthAdjust="spacingAndGlyphs">15.09–24.82</text><text x="701.1" y="217.6" class="nl" textLength="42.3" lengthAdjust="spacingAndGlyphs">12.62–22.26</text><text x="728.2" y="60.6" class="sp" textLength="49.2" lengthAdjust="spacingAndGlyphs">A. thaliana</text><text x="728.2" y="81.7" class="sp" textLength="36.9" lengthAdjust="spacingAndGlyphs">Z. mays</text><text x="728.2" y="102.5" class="sp" textLength="40" lengthAdjust="spacingAndGlyphs">S. italica</text><text x="728.2" y="123.6" class="sp" textLength="62.5" lengthAdjust="spacingAndGlyphs">B. distachyon</text><text x="728.2" y="144" class="sp" textLength="51.4" lengthAdjust="spacingAndGlyphs">Z. palustris</text><text x="728.2" y="165.4" class="sp" textLength="45.3" lengthAdjust="spacingAndGlyphs">Z. latifolia</text><text x="728.2" y="186.3" class="sp" textLength="44.2" lengthAdjust="spacingAndGlyphs">L. perrieri</text><text x="728.2" y="208" class="sp" textLength="40.3" lengthAdjust="spacingAndGlyphs">O. sativa</text><text x="728.2" y="227.3" class="sp" textLength="70.1" lengthAdjust="spacingAndGlyphs">O. brachyantha</text></g>
<g id="panelC"><g fill="#e4e6e5" stroke="#fff" stroke-width="0.4" stroke-opacity="0.8"><g stroke-width="0.18"><path d="M201.5 317.5C201.5 357.6 230.9 357.6 230.9 397.7H232.7C232.7 357.6 203.3 357.6 203.3 317.5Z"/><path d="M203.6 317.5C203.6 357.6 234.4 357.6 234.4 397.7H235.9C235.9 357.6 205.1 357.6 205.1 317.5Z"/><path d="M206.6 317.5C206.6 357.6 237 357.6 237 397.7H238.4C238.4 357.6 208 357.6 208 317.5Z"/><path d="M207.9 317.5C207.9 357.6 239 357.6 239 397.7H240.5C240.5 357.6 209.3 357.6 209.3 317.5Z"/><path d="M210.7 317.5C210.7 357.6 240.8 357.6 240.8 397.7H242.6C242.6 357.6 212.5 357.6 212.5 317.5Z"/><path d="M212.6 317.5C212.6 357.6 241.9 357.6 241.9 397.7H243.7C243.7 357.6 214.4 357.6 214.4 317.5Z"/><path d="M215.1 317.5C215.1 357.6 243.9 357.6 243.9 397.7H245.6C245.6 357.6 216.8 357.6 216.8 317.5Z"/></g><g stroke-width="0.18"><path d="M231.2 317.5C231.2 357.6 202.8 357.6 202.8 397.7H204C204 357.6 232.4 357.6 232.4 317.5Z"/><path d="M232.5 317.5C232.5 357.6 205.1 357.6 205.1 397.7H206.5C206.5 357.6 233.9 357.6 233.9 317.5Z"/><path d="M235.8 317.5C235.8 357.6 208.6 357.6 208.6 397.7H210.2C210.2 357.6 237.4 357.6 237.4 317.5Z"/><path d="M238.4 317.5C238.4 357.6 209.6 357.6 209.6 397.7H211.3C211.3 357.6 240.1 357.6 240.1 317.5Z"/><path d="M240 317.5C240 357.6 213.2 357.6 213.2 397.7H214.9C214.9 357.6 241.8 357.6 241.8 317.5Z"/><path d="M241.8 317.5C241.8 357.6 212.4 357.6 212.4 397.7H213.5C213.5 357.6 242.9 357.6 242.9 317.5Z"/><path d="M245.3 317.5C245.3 357.6 217 357.6 217 397.7H218.6C218.6 357.6 246.9 357.6 246.9 317.5Z"/></g><g stroke-width="0.18"><path d="M250.8 317.5C250.8 357.6 281.4 357.6 281.4 397.7H282.8C282.8 357.6 252.3 357.6 252.3 317.5Z"/><path d="M252.9 317.5C252.9 357.6 282.1 357.6 282.1 397.7H283.2C283.2 357.6 254.1 357.6 254.1 317.5Z"/><path d="M254.7 317.5C254.7 357.6 285.3 357.6 285.3 397.7H286.2C286.2 357.6 255.6 357.6 255.6 317.5Z"/><path d="M256.7 317.5C256.7 357.6 286.2 357.6 286.2 397.7H287.8C287.8 357.6 258.2 357.6 258.2 317.5Z"/><path d="M259.2 317.5C259.2 357.6 287.7 357.6 287.7 397.7H289.1C289.1 357.6 260.6 357.6 260.6 317.5Z"/><path d="M261 317.5C261 357.6 288.8 357.6 288.8 397.7H290.3C290.3 357.6 262.6 357.6 262.6 317.5Z"/><path d="M263.1 317.5C263.1 357.6 293.4 357.6 293.4 397.7H294.6C294.6 357.6 264.3 357.6 264.3 317.5Z"/><path d="M264.5 317.5C264.5 357.6 293.2 357.6 293.2 397.7H294.7C294.7 357.6 266.1 357.6 266.1 317.5Z"/></g><g stroke-width="0.18"><path d="M279 317.5C279 357.6 252.2 357.6 252.2 397.7H253.5C253.5 357.6 280.3 357.6 280.3 317.5Z"/><path d="M280.6 317.5C280.6 357.6 252.4 357.6 252.4 397.7H254C254 357.6 282.3 357.6 282.3 317.5Z"/><path d="M282.9 317.5C282.9 357.6 254.1 357.6 254.1 397.7H255.6C255.6 357.6 284.4 357.6 284.4 317.5Z"/><path d="M283.7 317.5C283.7 357.6 257.2 357.6 257.2 397.7H258.4C258.4 357.6 284.9 357.6 284.9 317.5Z"/><path d="M286 317.5C286 357.6 260.7 357.6 260.7 397.7H262.1C262.1 357.6 287.4 357.6 287.4 317.5Z"/><path d="M287.6 317.5C287.6 357.6 260.4 357.6 260.4 397.7H261.4C261.4 357.6 288.6 357.6 288.6 317.5Z"/><path d="M288.8 317.5C288.8 357.6 260.9 357.6 260.9 397.7H262C262 357.6 289.9 357.6 289.9 317.5Z"/><path d="M290.2 317.5C290.2 357.6 264.3 357.6 264.3 397.7H265.4C265.4 357.6 291.2 357.6 291.2 317.5Z"/><path d="M291.4 317.5C291.4 357.6 266.5 357.6 266.5 397.7H267.7C267.7 357.6 292.6 357.6 292.6 317.5Z"/></g><g stroke-width="0.18"><path d="M297.6 317.5C297.6 357.6 327.8 357.6 327.8 397.7H329.2C329.2 357.6 298.9 357.6 298.9 317.5Z"/><path d="M299.1 317.5C299.1 357.6 330.9 357.6 330.9 397.7H332.4C332.4 357.6 300.6 357.6 300.6 317.5Z"/><path d="M301.2 317.5C301.2 357.6 333.5 357.6 333.5 397.7H335.4C335.4 357.6 303 357.6 303 317.5Z"/><path d="M303.1 317.5C303.1 357.6 335.4 357.6 335.4 397.7H337C337 357.6 304.7 357.6 304.7 317.5Z"/><path d="M304.8 317.5C304.8 357.6 337.2 357.6 337.2 397.7H339C339 357.6 306.6 357.6 306.6 317.5Z"/><path d="M307.1 317.5C307.1 357.6 341.2 357.6 341.2 397.7H342.1C342.1 357.6 308 357.6 308 317.5Z"/><path d="M309 317.5C309 357.6 343.8 357.6 343.8 397.7H344.7C344.7 357.6 309.9 357.6 309.9 317.5Z"/></g><g stroke-width="0.18"><path d="M324.9 317.5C324.9 357.6 298.1 357.6 298.1 397.7H299.7C299.7 357.6 326.4 357.6 326.4 317.5Z"/><path d="M326.4 317.5C326.4 357.6 300.1 357.6 300.1 397.7H301.9C301.9 357.6 328.3 357.6 328.3 317.5Z"/><path d="M328.6 317.5C328.6 357.6 301.6 357.6 301.6 397.7H303C303 357.6 330 357.6 330 317.5Z"/><path d="M330.5 317.5C330.5 357.6 305.1 357.6 305.1 397.7H306.1C306.1 357.6 331.4 357.6 331.4 317.5Z"/><path d="M332.1 317.5C332.1 357.6 305.5 357.6 305.5 397.7H306.7C306.7 357.6 333.3 357.6 333.3 317.5Z"/><path d="M334.2 317.5C334.2 357.6 305.8 357.6 305.8 397.7H306.9C306.9 357.6 335.3 357.6 335.3 317.5Z"/><path d="M336.2 317.5C336.2 357.6 309.5 357.6 309.5 397.7H310.7C310.7 357.6 337.4 357.6 337.4 317.5Z"/><path d="M338.1 317.5C338.1 357.6 308.8 357.6 308.8 397.7H310.5C310.5 357.6 339.8 357.6 339.8 317.5Z"/><path d="M340.2 317.5C340.2 357.6 312.2 357.6 312.2 397.7H313.3C313.3 357.6 341.2 357.6 341.2 317.5Z"/><path d="M341.5 317.5C341.5 357.6 313.2 357.6 313.2 397.7H314.4C314.4 357.6 342.7 357.6 342.7 317.5Z"/></g><g stroke-width="0.18"><path d="M347.9 317.5C347.9 357.6 381.6 357.6 381.6 397.7H383.2C383.2 357.6 349.5 357.6 349.5 317.5Z"/><path d="M350.1 317.5C350.1 357.6 382.9 357.6 382.9 397.7H384.2C384.2 357.6 351.3 357.6 351.3 317.5Z"/><path d="M353.4 317.5C353.4 357.6 385.7 357.6 385.7 397.7H387.5C387.5 357.6 355.2 357.6 355.2 317.5Z"/><path d="M354.8 317.5C354.8 357.6 386.5 357.6 386.5 397.7H388C388 357.6 356.4 357.6 356.4 317.5Z"/><path d="M358.2 317.5C358.2 357.6 389.3 357.6 389.3 397.7H390.4C390.4 357.6 359.3 357.6 359.3 317.5Z"/><path d="M359.4 317.5C359.4 357.6 390.4 357.6 390.4 397.7H391.5C391.5 357.6 360.5 357.6 360.5 317.5Z"/><path d="M362.7 317.5C362.7 357.6 393.7 357.6 393.7 397.7H394.8C394.8 357.6 363.8 357.6 363.8 317.5Z"/><path d="M364.3 317.5C364.3 357.6 394.8 357.6 394.8 397.7H396.4C396.4 357.6 365.8 357.6 365.8 317.5Z"/></g><g stroke-width="0.18"><path d="M379 317.5C379 357.6 349 357.6 349 397.7H350.2C350.2 357.6 380.2 357.6 380.2 317.5Z"/><path d="M380.8 317.5C380.8 357.6 351.9 357.6 351.9 397.7H353.1C353.1 357.6 382 357.6 382 317.5Z"/><path d="M381.9 317.5C381.9 357.6 353.9 357.6 353.9 397.7H355.2C355.2 357.6 383.2 357.6 383.2 317.5Z"/><path d="M383.7 317.5C383.7 357.6 355.3 357.6 355.3 397.7H356.2C356.2 357.6 384.6 357.6 384.6 317.5Z"/><path d="M385.1 317.5C385.1 357.6 359.9 357.6 359.9 397.7H361.8C361.8 357.6 387 357.6 387 317.5Z"/><path d="M386.1 317.5C386.1 357.6 361.5 357.6 361.5 397.7H363.3C363.3 357.6 387.9 357.6 387.9 317.5Z"/><path d="M387.3 317.5C387.3 357.6 362.4 357.6 362.4 397.7H364.1C364.1 357.6 389 357.6 389 317.5Z"/><path d="M389.1 317.5C389.1 357.6 363.9 357.6 363.9 397.7H365.1C365.1 357.6 390.2 357.6 390.2 317.5Z"/><path d="M390.2 317.5C390.2 357.6 364.3 357.6 364.3 397.7H365.2C365.2 357.6 391.1 357.6 391.1 317.5Z"/><path d="M391.8 317.5C391.8 357.6 366.6 357.6 366.6 397.7H368.4C368.4 357.6 393.5 357.6 393.5 317.5Z"/></g><g stroke-width="0.18"><path d="M396.4 317.5C396.4 357.6 425.1 357.6 425.1 397.7H426.5C426.5 357.6 397.8 357.6 397.8 317.5Z"/><path d="M399 317.5C399 357.6 426.9 357.6 426.9 397.7H428.2C428.2 357.6 400.3 357.6 400.3 317.5Z"/><path d="M401.1 317.5C401.1 357.6 427.6 357.6 427.6 397.7H428.6C428.6 357.6 402.1 357.6 402.1 317.5Z"/><path d="M404 317.5C404 357.6 429.1 357.6 429.1 397.7H430C430 357.6 405 357.6 405 317.5Z"/><path d="M406.4 317.5C406.4 357.6 430.3 357.6 430.3 397.7H432.1C432.1 357.6 408.2 357.6 408.2 317.5Z"/><path d="M408.2 317.5C408.2 357.6 431.6 357.6 431.6 397.7H433.5C433.5 357.6 410 357.6 410 317.5Z"/></g><g stroke-width="0.18"><path d="M421.6 317.5C421.6 357.6 400 357.6 400 397.7H401.2C401.2 357.6 422.9 357.6 422.9 317.5Z"/><path d="M422.3 317.5C422.3 357.6 400.5 357.6 400.5 397.7H402.2C402.2 357.6 424 357.6 424 317.5Z"/><path d="M423.1 317.5C423.1 357.6 402.5 357.6 402.5 397.7H404.3C404.3 357.6 424.9 357.6 424.9 317.5Z"/><path d="M424.3 317.5C424.3 357.6 404.5 357.6 404.5 397.7H405.4C405.4 357.6 425.2 357.6 425.2 317.5Z"/><path d="M425 317.5C425 357.6 405.9 357.6 405.9 397.7H406.8C406.8 357.6 426 357.6 426 317.5Z"/><path d="M425.6 317.5C425.6 357.6 405.3 357.6 405.3 397.7H406.7C406.7 357.6 427.1 357.6 427.1 317.5Z"/><path d="M426.5 317.5C426.5 357.6 407.4 357.6 407.4 397.7H409.1C409.1 357.6 428.2 357.6 428.2 317.5Z"/><path d="M427.2 317.5C427.2 357.6 407.3 357.6 407.3 397.7H408.3C408.3 357.6 428.2 357.6 428.2 317.5Z"/><path d="M428 317.5C428 357.6 408.8 357.6 408.8 397.7H410.7C410.7 357.6 429.9 357.6 429.9 317.5Z"/><path d="M429.2 317.5C429.2 357.6 410.8 357.6 410.8 397.7H412.2C412.2 357.6 430.6 357.6 430.6 317.5Z"/></g><g stroke-width="0.18"><path d="M431.8 317.5C431.8 357.6 455.9 357.6 455.9 397.7H457.2C457.2 357.6 433.1 357.6 433.1 317.5Z"/><path d="M433 317.5C433 357.6 458 357.6 458 397.7H459.2C459.2 357.6 434.2 357.6 434.2 317.5Z"/><path d="M434.4 317.5C434.4 357.6 460.2 357.6 460.2 397.7H461.2C461.2 357.6 435.4 357.6 435.4 317.5Z"/><path d="M434.8 317.5C434.8 357.6 461.4 357.6 461.4 397.7H463.1C463.1 357.6 436.5 357.6 436.5 317.5Z"/><path d="M436.2 317.5C436.2 357.6 461.8 357.6 461.8 397.7H463.1C463.1 357.6 437.6 357.6 437.6 317.5Z"/><path d="M437.3 317.5C437.3 357.6 464.4 357.6 464.4 397.7H465.9C465.9 357.6 438.8 357.6 438.8 317.5Z"/><path d="M437.9 317.5C437.9 357.6 466 357.6 466 397.7H467C467 357.6 438.9 357.6 438.9 317.5Z"/><path d="M439.3 317.5C439.3 357.6 467.6 357.6 467.6 397.7H468.8C468.8 357.6 440.5 357.6 440.5 317.5Z"/></g><g stroke-width="0.18"><path d="M451.9 317.5C451.9 357.6 435.8 357.6 435.8 397.7H437.2C437.2 357.6 453.3 357.6 453.3 317.5Z"/><path d="M453.1 317.5C453.1 357.6 436.6 357.6 436.6 397.7H438C438 357.6 454.4 357.6 454.4 317.5Z"/><path d="M454 317.5C454 357.6 439 357.6 439 397.7H440.8C440.8 357.6 455.9 357.6 455.9 317.5Z"/><path d="M455.1 317.5C455.1 357.6 440 357.6 440 397.7H441.7C441.7 357.6 456.8 357.6 456.8 317.5Z"/><path d="M456.1 317.5C456.1 357.6 440.2 357.6 440.2 397.7H441.2C441.2 357.6 457.1 357.6 457.1 317.5Z"/><path d="M457.5 317.5C457.5 357.6 441.9 357.6 441.9 397.7H443.7C443.7 357.6 459.3 357.6 459.3 317.5Z"/><path d="M458.6 317.5C458.6 357.6 443 357.6 443 397.7H444.6C444.6 357.6 460.3 357.6 460.3 317.5Z"/><path d="M459.6 317.5C459.6 357.6 442.8 357.6 442.8 397.7H444.3C444.3 357.6 461.1 357.6 461.1 317.5Z"/><path d="M460.3 317.5C460.3 357.6 443.6 357.6 443.6 397.7H445.2C445.2 357.6 462 357.6 462 317.5Z"/></g><g stroke-width="0.18"><path d="M464.5 317.5C464.5 357.6 495.5 357.6 495.5 397.7H497.1C497.1 357.6 466 357.6 466 317.5Z"/><path d="M466 317.5C466 357.6 498.7 357.6 498.7 397.7H499.9C499.9 357.6 467.2 357.6 467.2 317.5Z"/><path d="M468.1 317.5C468.1 357.6 499.5 357.6 499.5 397.7H500.5C500.5 357.6 469.1 357.6 469.1 317.5Z"/><path d="M469.4 317.5C469.4 357.6 503.6 357.6 503.6 397.7H504.8C504.8 357.6 470.5 357.6 470.5 317.5Z"/><path d="M470.8 317.5C470.8 357.6 504 357.6 504 397.7H505.9C505.9 357.6 472.7 357.6 472.7 317.5Z"/><path d="M472.7 317.5C472.7 357.6 508.3 357.6 508.3 397.7H509.5C509.5 357.6 473.9 357.6 473.9 317.5Z"/></g><g stroke-width="0.18"><path d="M486 317.5C486 357.6 472.1 357.6 472.1 397.7H473C473 357.6 486.9 357.6 486.9 317.5Z"/><path d="M486.9 317.5C486.9 357.6 472.1 357.6 472.1 397.7H473.8C473.8 357.6 488.6 357.6 488.6 317.5Z"/><path d="M488.1 317.5C488.1 357.6 472.3 357.6 472.3 397.7H473.4C473.4 357.6 489.3 357.6 489.3 317.5Z"/><path d="M489.6 317.5C489.6 357.6 474.9 357.6 474.9 397.7H476.2C476.2 357.6 490.9 357.6 490.9 317.5Z"/><path d="M490.7 317.5C490.7 357.6 475.1 357.6 475.1 397.7H476.3C476.3 357.6 491.9 357.6 491.9 317.5Z"/><path d="M492 317.5C492 357.6 475.5 357.6 475.5 397.7H476.9C476.9 357.6 493.4 357.6 493.4 317.5Z"/><path d="M493.7 317.5C493.7 357.6 477.7 357.6 477.7 397.7H479.4C479.4 357.6 495.3 357.6 495.3 317.5Z"/><path d="M494.3 317.5C494.3 357.6 478.9 357.6 478.9 397.7H480.6C480.6 357.6 496 357.6 496 317.5Z"/><path d="M495.9 317.5C495.9 357.6 480 357.6 480 397.7H481.4C481.4 357.6 497.3 357.6 497.3 317.5Z"/><path d="M497.2 317.5C497.2 357.6 481.9 357.6 481.9 397.7H483C483 357.6 498.2 357.6 498.2 317.5Z"/></g><g stroke-width="0.18"><path d="M501.9 317.5C501.9 357.6 542.2 357.6 542.2 397.7H543.8C543.8 357.6 503.5 357.6 503.5 317.5Z"/><path d="M504.5 317.5C504.5 357.6 545.3 357.6 545.3 397.7H547C547 357.6 506.3 357.6 506.3 317.5Z"/><path d="M505.6 317.5C505.6 357.6 546.9 357.6 546.9 397.7H547.9C547.9 357.6 506.6 357.6 506.6 317.5Z"/><path d="M508.1 317.5C508.1 357.6 550.1 357.6 550.1 397.7H551.8C551.8 357.6 509.9 357.6 509.9 317.5Z"/><path d="M510.3 317.5C510.3 357.6 551.9 357.6 551.9 397.7H553.4C553.4 357.6 511.8 357.6 511.8 317.5Z"/><path d="M512.7 317.5C512.7 357.6 554 357.6 554 397.7H555.5C555.5 357.6 514.2 357.6 514.2 317.5Z"/></g><g stroke-width="0.18"><path d="M526 317.5C526 357.6 514.1 357.6 514.1 397.7H515.3C515.3 357.6 527.2 357.6 527.2 317.5Z"/><path d="M527.4 317.5C527.4 357.6 515.6 357.6 515.6 397.7H517.1C517.1 357.6 528.9 357.6 528.9 317.5Z"/><path d="M528.4 317.5C528.4 357.6 517.7 357.6 517.7 397.7H519.5C519.5 357.6 530.1 357.6 530.1 317.5Z"/><path d="M530 317.5C530 357.6 520.5 357.6 520.5 397.7H522.1C522.1 357.6 531.6 357.6 531.6 317.5Z"/><path d="M531.3 317.5C531.3 357.6 521.8 357.6 521.8 397.7H523.6C523.6 357.6 533.1 357.6 533.1 317.5Z"/><path d="M533.1 317.5C533.1 357.6 522.6 357.6 522.6 397.7H524.5C524.5 357.6 535 357.6 535 317.5Z"/><path d="M534.1 317.5C534.1 357.6 526.7 357.6 526.7 397.7H528.4C528.4 357.6 535.8 357.6 535.8 317.5Z"/><path d="M536.2 317.5C536.2 357.6 526.8 357.6 526.8 397.7H528.6C528.6 357.6 538.1 357.6 538.1 317.5Z"/></g><g stroke-width="0.18"><path d="M540.5 317.5C540.5 357.6 586.7 357.6 586.7 397.7H587.7C587.7 357.6 541.5 357.6 541.5 317.5Z"/><path d="M541.8 317.5C541.8 357.6 586.7 357.6 586.7 397.7H588.5C588.5 357.6 543.6 357.6 543.6 317.5Z"/><path d="M544 317.5C544 357.6 589.5 357.6 589.5 397.7H591C591 357.6 545.5 357.6 545.5 317.5Z"/><path d="M545.6 317.5C545.6 357.6 591.4 357.6 591.4 397.7H593.3C593.3 357.6 547.4 357.6 547.4 317.5Z"/><path d="M546.7 317.5C546.7 357.6 593.1 357.6 593.1 397.7H594.2C594.2 357.6 547.8 357.6 547.8 317.5Z"/><path d="M548.3 317.5C548.3 357.6 597.9 357.6 597.9 397.7H598.9C598.9 357.6 549.3 357.6 549.3 317.5Z"/><path d="M550.2 317.5C550.2 357.6 600.9 357.6 600.9 397.7H601.9C601.9 357.6 551.1 357.6 551.1 317.5Z"/></g><g stroke-width="0.18"><path d="M563.2 317.5C563.2 357.6 559 357.6 559 397.7H559.9C559.9 357.6 564.1 357.6 564.1 317.5Z"/><path d="M564.2 317.5C564.2 357.6 559.6 357.6 559.6 397.7H561C561 357.6 565.6 357.6 565.6 317.5Z"/><path d="M565.4 317.5C565.4 357.6 561.4 357.6 561.4 397.7H563.2C563.2 357.6 567.2 357.6 567.2 317.5Z"/><path d="M566.7 317.5C566.7 357.6 562.9 357.6 562.9 397.7H563.9C563.9 357.6 567.7 357.6 567.7 317.5Z"/><path d="M567.8 317.5C567.8 357.6 564.6 357.6 564.6 397.7H565.6C565.6 357.6 568.8 357.6 568.8 317.5Z"/><path d="M569.5 317.5C569.5 357.6 567.2 357.6 567.2 397.7H568.2C568.2 357.6 570.5 357.6 570.5 317.5Z"/><path d="M570.7 317.5C570.7 357.6 567.3 357.6 567.3 397.7H569C569 357.6 572.4 357.6 572.4 317.5Z"/><path d="M571.8 317.5C571.8 357.6 568.4 357.6 568.4 397.7H570C570 357.6 573.4 357.6 573.4 317.5Z"/><path d="M572.9 317.5C572.9 357.6 571.2 357.6 571.2 397.7H572.3C572.3 357.6 574.1 357.6 574.1 317.5Z"/></g><g stroke-width="0.18"><path d="M576.9 317.5C576.9 357.6 635.2 357.6 635.2 397.7H636.2C636.2 357.6 577.9 357.6 577.9 317.5Z"/><path d="M578.1 317.5C578.1 357.6 636 357.6 636 397.7H637.7C637.7 357.6 579.8 357.6 579.8 317.5Z"/><path d="M579.6 317.5C579.6 357.6 638.1 357.6 638.1 397.7H639.1C639.1 357.6 580.7 357.6 580.7 317.5Z"/><path d="M581 317.5C581 357.6 639.6 357.6 639.6 397.7H640.6C640.6 357.6 582 357.6 582 317.5Z"/><path d="M582.5 317.5C582.5 357.6 641.2 357.6 641.2 397.7H642.2C642.2 357.6 583.5 357.6 583.5 317.5Z"/><path d="M583.9 317.5C583.9 357.6 641.5 357.6 641.5 397.7H642.7C642.7 357.6 585.1 357.6 585.1 317.5Z"/><path d="M585.1 317.5C585.1 357.6 643.7 357.6 643.7 397.7H645.2C645.2 357.6 586.5 357.6 586.5 317.5Z"/><path d="M586.4 317.5C586.4 357.6 644.7 357.6 644.7 397.7H646C646 357.6 587.6 357.6 587.6 317.5Z"/></g><g stroke-width="0.18"><path d="M598.9 317.5C598.9 357.6 605.4 357.6 605.4 397.7H606.5C606.5 357.6 599.9 357.6 599.9 317.5Z"/><path d="M600 317.5C600 357.6 609.1 357.6 609.1 397.7H610.4C610.4 357.6 601.3 357.6 601.3 317.5Z"/><path d="M601 317.5C601 357.6 609.9 357.6 609.9 397.7H610.8C610.8 357.6 601.9 357.6 601.9 317.5Z"/><path d="M602.3 317.5C602.3 357.6 613 357.6 613 397.7H614.2C614.2 357.6 603.5 357.6 603.5 317.5Z"/><path d="M604.1 317.5C604.1 357.6 616.3 357.6 616.3 397.7H618.1C618.1 357.6 605.8 357.6 605.8 317.5Z"/><path d="M605.6 317.5C605.6 357.6 618.8 357.6 618.8 397.7H620.5C620.5 357.6 607.3 357.6 607.3 317.5Z"/><path d="M606.2 317.5C606.2 357.6 620.1 357.6 620.1 397.7H622C622 357.6 608.1 357.6 608.1 317.5Z"/></g><g stroke-width="0.18"><path d="M609.9 317.5C609.9 357.6 634 357.6 634 397.7H635C635 357.6 610.9 357.6 610.9 317.5Z"/><path d="M611.6 317.5C611.6 357.6 637.4 357.6 637.4 397.7H638.5C638.5 357.6 612.7 357.6 612.7 317.5Z"/><path d="M612.5 317.5C612.5 357.6 637.8 357.6 637.8 397.7H639.4C639.4 357.6 614.1 357.6 614.1 317.5Z"/><path d="M614.2 317.5C614.2 357.6 640.7 357.6 640.7 397.7H642.2C642.2 357.6 615.7 357.6 615.7 317.5Z"/><path d="M615 317.5C615 357.6 640.9 357.6 640.9 397.7H642C642 357.6 616.1 357.6 616.1 317.5Z"/><path d="M616.6 317.5C616.6 357.6 643.2 357.6 643.2 397.7H644.3C644.3 357.6 617.7 357.6 617.7 317.5Z"/><path d="M617.7 317.5C617.7 357.6 645 357.6 645 397.7H645.9C645.9 357.6 618.6 357.6 618.6 317.5Z"/></g><g stroke-width="0.18"><path d="M630.6 317.5C630.6 357.6 608.1 357.6 608.1 397.7H609.4C609.4 357.6 631.9 357.6 631.9 317.5Z"/><path d="M631.4 317.5C631.4 357.6 608.4 357.6 608.4 397.7H609.9C609.9 357.6 632.9 357.6 632.9 317.5Z"/><path d="M632.6 317.5C632.6 357.6 611 357.6 611 397.7H612.2C612.2 357.6 633.8 357.6 633.8 317.5Z"/><path d="M633.4 317.5C633.4 357.6 612.1 357.6 612.1 397.7H613.6C613.6 357.6 634.9 357.6 634.9 317.5Z"/><path d="M634.3 317.5C634.3 357.6 612.2 357.6 612.2 397.7H613.8C613.8 357.6 636 357.6 636 317.5Z"/><path d="M635.2 317.5C635.2 357.6 615.6 357.6 615.6 397.7H617C617 357.6 636.6 357.6 636.6 317.5Z"/><path d="M636 317.5C636 357.6 616.2 357.6 616.2 397.7H617.6C617.6 357.6 637.5 357.6 637.5 317.5Z"/><path d="M636.7 317.5C636.7 357.6 618.6 357.6 618.6 397.7H620.2C620.2 357.6 638.3 357.6 638.3 317.5Z"/><path d="M637.9 317.5C637.9 357.6 621.1 357.6 621.1 397.7H623C623 357.6 639.8 357.6 639.8 317.5Z"/></g><g stroke-width="0.18"><path d="M640.8 317.5C640.8 357.6 671.7 357.6 671.7 397.7H673.2C673.2 357.6 642.4 357.6 642.4 317.5Z"/><path d="M642 317.5C642 357.6 672.1 357.6 672.1 397.7H673.3C673.3 357.6 643.1 357.6 643.1 317.5Z"/><path d="M643.2 317.5C643.2 357.6 673.8 357.6 673.8 397.7H675.6C675.6 357.6 645 357.6 645 317.5Z"/><path d="M644.6 317.5C644.6 357.6 675.9 357.6 675.9 397.7H677.5C677.5 357.6 646.2 357.6 646.2 317.5Z"/><path d="M645.7 317.5C645.7 357.6 677.1 357.6 677.1 397.7H678.6C678.6 357.6 647.2 357.6 647.2 317.5Z"/><path d="M647.4 317.5C647.4 357.6 678.8 357.6 678.8 397.7H680.4C680.4 357.6 649.1 357.6 649.1 317.5Z"/><path d="M648.2 317.5C648.2 357.6 679.8 357.6 679.8 397.7H681.6C681.6 357.6 650.1 357.6 650.1 317.5Z"/></g><g stroke-width="0.18"><path d="M660.5 317.5C660.5 357.6 649.5 357.6 649.5 397.7H650.9C650.9 357.6 661.9 357.6 661.9 317.5Z"/><path d="M661.5 317.5C661.5 357.6 649.2 357.6 649.2 397.7H650.2C650.2 357.6 662.5 357.6 662.5 317.5Z"/><path d="M662.8 317.5C662.8 357.6 651.1 357.6 651.1 397.7H652.5C652.5 357.6 664.2 357.6 664.2 317.5Z"/><path d="M664.4 317.5C664.4 357.6 654 357.6 654 397.7H655.3C655.3 357.6 665.7 357.6 665.7 317.5Z"/><path d="M665.6 317.5C665.6 357.6 655 357.6 655 397.7H656.4C656.4 357.6 666.9 357.6 666.9 317.5Z"/><path d="M666.9 317.5C666.9 357.6 657 357.6 657 397.7H658C658 357.6 668 357.6 668 317.5Z"/><path d="M668.2 317.5C668.2 357.6 659.4 357.6 659.4 397.7H660.7C660.7 357.6 669.5 357.6 669.5 317.5Z"/></g><g stroke-width="0.18"><path d="M671.2 317.5C671.2 357.6 703 357.6 703 397.7H704.3C704.3 357.6 672.5 357.6 672.5 317.5Z"/><path d="M672.6 317.5C672.6 357.6 705.4 357.6 705.4 397.7H706.6C706.6 357.6 673.7 357.6 673.7 317.5Z"/><path d="M673.3 317.5C673.3 357.6 706.2 357.6 706.2 397.7H707.7C707.7 357.6 674.7 357.6 674.7 317.5Z"/><path d="M674.2 317.5C674.2 357.6 705.7 357.6 705.7 397.7H707.2C707.2 357.6 675.7 357.6 675.7 317.5Z"/><path d="M675.5 317.5C675.5 357.6 708.2 357.6 708.2 397.7H709.3C709.3 357.6 676.5 357.6 676.5 317.5Z"/><path d="M676.6 317.5C676.6 357.6 709.1 357.6 709.1 397.7H710.2C710.2 357.6 677.7 357.6 677.7 317.5Z"/><path d="M677.8 317.5C677.8 357.6 710.4 357.6 710.4 397.7H711.6C711.6 357.6 679.1 357.6 679.1 317.5Z"/><path d="M678.4 317.5C678.4 357.6 711.5 357.6 711.5 397.7H712.7C712.7 357.6 679.5 357.6 679.5 317.5Z"/></g><g stroke-width="0.18"><path d="M690.1 317.5C690.1 357.6 682.1 357.6 682.1 397.7H684C684 357.6 692 357.6 692 317.5Z"/><path d="M691.1 317.5C691.1 357.6 683.6 357.6 683.6 397.7H685C685 357.6 692.5 357.6 692.5 317.5Z"/><path d="M692.1 317.5C692.1 357.6 686.1 357.6 686.1 397.7H687.3C687.3 357.6 693.4 357.6 693.4 317.5Z"/><path d="M693.2 317.5C693.2 357.6 686.5 357.6 686.5 397.7H688.1C688.1 357.6 694.8 357.6 694.8 317.5Z"/><path d="M694.4 317.5C694.4 357.6 689.6 357.6 689.6 397.7H690.9C690.9 357.6 695.8 357.6 695.8 317.5Z"/><path d="M695.9 317.5C695.9 357.6 690.8 357.6 690.8 397.7H692C692 357.6 697.1 357.6 697.1 317.5Z"/></g><g stroke-width="0.18"><path d="M698 317.5C698 357.6 734.9 357.6 734.9 397.7H736.8C736.8 357.6 699.9 357.6 699.9 317.5Z"/><path d="M699 317.5C699 357.6 735.7 357.6 735.7 397.7H737.1C737.1 357.6 700.3 357.6 700.3 317.5Z"/><path d="M699.7 317.5C699.7 357.6 737.9 357.6 737.9 397.7H738.9C738.9 357.6 700.7 357.6 700.7 317.5Z"/><path d="M700.8 317.5C700.8 357.6 738.4 357.6 738.4 397.7H739.8C739.8 357.6 702.2 357.6 702.2 317.5Z"/><path d="M701.5 317.5C701.5 357.6 739.8 357.6 739.8 397.7H741.2C741.2 357.6 702.9 357.6 702.9 317.5Z"/><path d="M702.2 317.5C702.2 357.6 742.3 357.6 742.3 397.7H743.9C743.9 357.6 703.9 357.6 703.9 317.5Z"/><path d="M703.1 317.5C703.1 357.6 742.7 357.6 742.7 397.7H743.9C743.9 357.6 704.3 357.6 704.3 317.5Z"/><path d="M704 317.5C704 357.6 743.9 357.6 743.9 397.7H745.6C745.6 357.6 705.7 357.6 705.7 317.5Z"/></g><g stroke-width="0.18"><path d="M715.1 317.5C715.1 357.6 714.2 357.6 714.2 397.7H716C716 357.6 716.8 357.6 716.8 317.5Z"/><path d="M716 317.5C716 357.6 715.5 357.6 715.5 397.7H716.7C716.7 357.6 717.2 357.6 717.2 317.5Z"/><path d="M717.2 317.5C717.2 357.6 717.8 357.6 717.8 397.7H718.9C718.9 357.6 718.3 357.6 718.3 317.5Z"/><path d="M718.2 317.5C718.2 357.6 718.6 357.6 718.6 397.7H720.3C720.3 357.6 719.9 357.6 719.9 317.5Z"/><path d="M719 317.5C719 357.6 719.8 357.6 719.8 397.7H721.1C721.1 357.6 720.2 357.6 720.2 317.5Z"/><path d="M719.8 317.5C719.8 357.6 719.5 357.6 719.5 397.7H721.2C721.2 357.6 721.5 357.6 721.5 317.5Z"/><path d="M720.8 317.5C720.8 357.6 720.6 357.6 720.6 397.7H721.7C721.7 357.6 721.8 357.6 721.8 317.5Z"/><path d="M721.8 317.5C721.8 357.6 722.4 357.6 722.4 397.7H724C724 357.6 723.4 357.6 723.4 317.5Z"/><path d="M722.6 317.5C722.6 357.6 723 357.6 723 397.7H724.1C724.1 357.6 723.6 357.6 723.6 317.5Z"/></g><g stroke-width="0.18"><path d="M726.1 317.5C726.1 357.6 768.2 357.6 768.2 397.7H769.8C769.8 357.6 727.7 357.6 727.7 317.5Z"/><path d="M727.3 317.5C727.3 357.6 769.8 357.6 769.8 397.7H771.3C771.3 357.6 728.8 357.6 728.8 317.5Z"/><path d="M728.8 317.5C728.8 357.6 770.8 357.6 770.8 397.7H772.3C772.3 357.6 730.3 357.6 730.3 317.5Z"/><path d="M729.6 317.5C729.6 357.6 772.2 357.6 772.2 397.7H774C774 357.6 731.3 357.6 731.3 317.5Z"/><path d="M731.4 317.5C731.4 357.6 774.9 357.6 774.9 397.7H775.8C775.8 357.6 732.3 357.6 732.3 317.5Z"/><path d="M732.4 317.5C732.4 357.6 775.6 357.6 775.6 397.7H777.4C777.4 357.6 734.2 357.6 734.2 317.5Z"/></g><g stroke-width="0.18"><path d="M744.8 317.5C744.8 357.6 747 357.6 747 397.7H747.9C747.9 357.6 745.7 357.6 745.7 317.5Z"/><path d="M745.7 317.5C745.7 357.6 748.5 357.6 748.5 397.7H749.4C749.4 357.6 746.7 357.6 746.7 317.5Z"/><path d="M746.4 317.5C746.4 357.6 750.1 357.6 750.1 397.7H751.6C751.6 357.6 747.9 357.6 747.9 317.5Z"/><path d="M747.3 317.5C747.3 357.6 750.4 357.6 750.4 397.7H752.3C752.3 357.6 749.1 357.6 749.1 317.5Z"/><path d="M748.3 317.5C748.3 357.6 752.4 357.6 752.4 397.7H753.8C753.8 357.6 749.7 357.6 749.7 317.5Z"/><path d="M749.6 317.5C749.6 357.6 754.2 357.6 754.2 397.7H755.8C755.8 357.6 751.3 357.6 751.3 317.5Z"/><path d="M750.4 317.5C750.4 357.6 754.4 357.6 754.4 397.7H755.5C755.5 357.6 751.5 357.6 751.5 317.5Z"/><path d="M751.1 317.5C751.1 357.6 756.5 357.6 756.5 397.7H757.5C757.5 357.6 752.1 357.6 752.1 317.5Z"/></g><g stroke-width="0.18"><path d="M754.6 317.5C754.6 357.6 768.2 357.6 768.2 397.7H770.1C770.1 357.6 756.4 357.6 756.4 317.5Z"/><path d="M755.4 317.5C755.4 357.6 769.1 357.6 769.1 397.7H770.4C770.4 357.6 756.7 357.6 756.7 317.5Z"/><path d="M757.1 317.5C757.1 357.6 771.9 357.6 771.9 397.7H772.9C772.9 357.6 758.1 357.6 758.1 317.5Z"/><path d="M758.1 317.5C758.1 357.6 772.9 357.6 772.9 397.7H774.5C774.5 357.6 759.7 357.6 759.7 317.5Z"/><path d="M759.3 317.5C759.3 357.6 774.2 357.6 774.2 397.7H775.9C775.9 357.6 761 357.6 761 317.5Z"/><path d="M760.5 317.5C760.5 357.6 775.9 357.6 775.9 397.7H777.3C777.3 357.6 761.8 357.6 761.8 317.5Z"/></g><g stroke-width="0.18"><path d="M772.1 317.5C772.1 357.6 747.5 357.6 747.5 397.7H748.9C748.9 357.6 773.5 357.6 773.5 317.5Z"/><path d="M773.1 317.5C773.1 357.6 748 357.6 748 397.7H749.3C749.3 357.6 774.3 357.6 774.3 317.5Z"/><path d="M773.7 317.5C773.7 357.6 748.9 357.6 748.9 397.7H750.4C750.4 357.6 775.1 357.6 775.1 317.5Z"/><path d="M774.5 317.5C774.5 357.6 750.8 357.6 750.8 397.7H752.4C752.4 357.6 776.1 357.6 776.1 317.5Z"/><path d="M775.2 317.5C775.2 357.6 751.4 357.6 751.4 397.7H752.7C752.7 357.6 776.4 357.6 776.4 317.5Z"/><path d="M776.1 317.5C776.1 357.6 753 357.6 753 397.7H754.3C754.3 357.6 777.4 357.6 777.4 317.5Z"/><path d="M776.4 317.5C776.4 357.6 753.3 357.6 753.3 397.7H754.3C754.3 357.6 777.4 357.6 777.4 317.5Z"/><path d="M777.5 317.5C777.5 357.6 755.9 357.6 755.9 397.7H757.7C757.7 357.6 779.2 357.6 779.2 317.5Z"/><path d="M778.2 317.5C778.2 357.6 756.8 357.6 756.8 397.7H758.6C758.6 357.6 780 357.6 780 317.5Z"/></g><g stroke-width="0.18"><path d="M700 317.5C700 357.6 561.6 357.6 561.6 397.7H562.3C562.3 357.6 700.8 357.6 700.8 317.5Z"/><path d="M700.9 317.5C700.9 357.6 563.6 357.6 563.6 397.7H564.3C564.3 357.6 701.6 357.6 701.6 317.5Z"/><path d="M701.6 317.5C701.6 357.6 563.7 357.6 563.7 397.7H564.3C564.3 357.6 702.1 357.6 702.1 317.5Z"/><path d="M702.2 317.5C702.2 357.6 565.1 357.6 565.1 397.7H566C566 357.6 703 357.6 703 317.5Z"/><path d="M702.8 317.5C702.8 357.6 566 357.6 566 397.7H567C567 357.6 703.8 357.6 703.8 317.5Z"/><path d="M703.4 317.5C703.4 357.6 567.7 357.6 567.7 397.7H568.5C568.5 357.6 704.1 357.6 704.1 317.5Z"/></g><g stroke-width="0.18"><path d="M453 317.5C453 357.6 289.5 357.6 289.5 397.7H290.4C290.4 357.6 453.9 357.6 453.9 317.5Z"/><path d="M454.3 317.5C454.3 357.6 291.6 357.6 291.6 397.7H292.4C292.4 357.6 455.1 357.6 455.1 317.5Z"/><path d="M455.3 317.5C455.3 357.6 293.8 357.6 293.8 397.7H295C295 357.6 456.5 357.6 456.5 317.5Z"/><path d="M456.1 317.5C456.1 357.6 295.6 357.6 295.6 397.7H296.5C296.5 357.6 456.9 357.6 456.9 317.5Z"/><path d="M457.5 317.5C457.5 357.6 296.4 357.6 296.4 397.7H297.6C297.6 357.6 458.7 357.6 458.7 317.5Z"/><path d="M458.1 317.5C458.1 357.6 296.9 357.6 296.9 397.7H297.7C297.7 357.6 458.8 357.6 458.8 317.5Z"/></g><g stroke-width="0.18"><path d="M640.3 317.5C640.3 357.6 518.1 357.6 518.1 397.7H518.7C518.7 357.6 640.9 357.6 640.9 317.5Z"/><path d="M642.1 317.5C642.1 357.6 521.9 357.6 521.9 397.7H522.4C522.4 357.6 642.6 357.6 642.6 317.5Z"/><path d="M644.8 317.5C644.8 357.6 526.7 357.6 526.7 397.7H527.4C527.4 357.6 645.6 357.6 645.6 317.5Z"/></g><g stroke-width="0.18"><path d="M636.6 317.5C636.6 357.6 545.5 357.6 545.5 397.7H546.1C546.1 357.6 637.2 357.6 637.2 317.5Z"/><path d="M637.8 317.5C637.8 357.6 546.9 357.6 546.9 397.7H547.6C547.6 357.6 638.5 357.6 638.5 317.5Z"/><path d="M638.6 317.5C638.6 357.6 549.4 357.6 549.4 397.7H550.2C550.2 357.6 639.4 357.6 639.4 317.5Z"/><path d="M639.7 317.5C639.7 357.6 549.8 357.6 549.8 397.7H550.6C550.6 357.6 640.5 357.6 640.5 317.5Z"/><path d="M641 317.5C641 357.6 552.9 357.6 552.9 397.7H554C554 357.6 642.1 357.6 642.1 317.5Z"/></g><g stroke-width="0.18"><path d="M500.6 317.5C500.6 357.6 560.2 357.6 560.2 397.7H561.1C561.1 357.6 501.4 357.6 501.4 317.5Z"/><path d="M501.7 317.5C501.7 357.6 560.3 357.6 560.3 397.7H560.8C560.8 357.6 502.2 357.6 502.2 317.5Z"/><path d="M503.3 317.5C503.3 357.6 563.2 357.6 563.2 397.7H564.4C564.4 357.6 504.4 357.6 504.4 317.5Z"/><path d="M504.4 317.5C504.4 357.6 564.1 357.6 564.1 397.7H565.2C565.2 357.6 505.6 357.6 505.6 317.5Z"/><path d="M506 317.5C506 357.6 565.6 357.6 565.6 397.7H566.4C566.4 357.6 506.8 357.6 506.8 317.5Z"/><path d="M507.1 317.5C507.1 357.6 566.1 357.6 566.1 397.7H566.7C566.7 357.6 507.7 357.6 507.7 317.5Z"/></g><g stroke-width="0.18"><path d="M387.2 317.5C387.2 357.6 238.8 357.6 238.8 397.7H239.4C239.4 357.6 387.9 357.6 387.9 317.5Z"/><path d="M388.9 317.5C388.9 357.6 241.3 357.6 241.3 397.7H241.9C241.9 357.6 389.5 357.6 389.5 317.5Z"/><path d="M389.9 317.5C389.9 357.6 242.3 357.6 242.3 397.7H243C243 357.6 390.6 357.6 390.6 317.5Z"/><path d="M391.7 317.5C391.7 357.6 244.6 357.6 244.6 397.7H245.3C245.3 357.6 392.4 357.6 392.4 317.5Z"/><path d="M393.1 317.5C393.1 357.6 246.1 357.6 246.1 397.7H246.7C246.7 357.6 393.6 357.6 393.6 317.5Z"/><path d="M394.3 317.5C394.3 357.6 248 357.6 248 397.7H249C249 357.6 395.4 357.6 395.4 317.5Z"/></g><g stroke-width="0.18"><path d="M533.6 317.5C533.6 357.6 425.7 357.6 425.7 397.7H426.8C426.8 357.6 534.8 357.6 534.8 317.5Z"/><path d="M536.3 317.5C536.3 357.6 426.9 357.6 426.9 397.7H428.1C428.1 357.6 537.4 357.6 537.4 317.5Z"/><path d="M538 317.5C538 357.6 428.6 357.6 428.6 397.7H429.6C429.6 357.6 539.1 357.6 539.1 317.5Z"/></g><g stroke-width="0.18"><path d="M601.7 317.5C601.7 357.6 518.2 357.6 518.2 397.7H518.9C518.9 357.6 602.4 357.6 602.4 317.5Z"/><path d="M602.7 317.5C602.7 357.6 519.7 357.6 519.7 397.7H520.9C520.9 357.6 603.9 357.6 603.9 317.5Z"/><path d="M603.8 317.5C603.8 357.6 521.5 357.6 521.5 397.7H522.1C522.1 357.6 604.4 357.6 604.4 317.5Z"/><path d="M604.9 317.5C604.9 357.6 524 357.6 524 397.7H525C525 357.6 605.9 357.6 605.9 317.5Z"/><path d="M606.6 317.5C606.6 357.6 527 357.6 527 397.7H528.1C528.1 357.6 607.7 357.6 607.7 317.5Z"/></g><g stroke-width="0.18"><path d="M206.2 317.5C206.2 357.6 198.8 357.6 198.8 397.7H199.5C199.5 357.6 206.9 357.6 206.9 317.5Z"/><path d="M208.2 317.5C208.2 357.6 199.9 357.6 199.9 397.7H200.6C200.6 357.6 208.8 357.6 208.8 317.5Z"/><path d="M210.3 317.5C210.3 357.6 202.3 357.6 202.3 397.7H203.4C203.4 357.6 211.4 357.6 211.4 317.5Z"/><path d="M211.2 317.5C211.2 357.6 205 357.6 205 397.7H206C206 357.6 212.1 357.6 212.1 317.5Z"/><path d="M213.3 317.5C213.3 357.6 205.5 357.6 205.5 397.7H206C206 357.6 213.9 357.6 213.9 317.5Z"/><path d="M215.2 317.5C215.2 357.6 207.4 357.6 207.4 397.7H208.1C208.1 357.6 215.8 357.6 215.8 317.5Z"/></g><g stroke-width="0.18"><path d="M378.8 317.5C378.8 357.6 438.8 357.6 438.8 397.7H439.5C439.5 357.6 379.6 357.6 379.6 317.5Z"/><path d="M381.8 317.5C381.8 357.6 440.9 357.6 440.9 397.7H441.5C441.5 357.6 382.4 357.6 382.4 317.5Z"/><path d="M382.9 317.5C382.9 357.6 441.5 357.6 441.5 397.7H442.2C442.2 357.6 383.6 357.6 383.6 317.5Z"/><path d="M386.1 317.5C386.1 357.6 443.5 357.6 443.5 397.7H444.2C444.2 357.6 386.7 357.6 386.7 317.5Z"/></g><path d="M177.8 317.5C177.8 357.6 177.8 357.6 177.8 397.7H198.9C198.9 357.6 200.2 357.6 200.2 317.5Z"/><path d="M202.2 317.5C202.2 357.6 201 357.6 201 397.7H219.9C219.9 357.6 218.5 357.6 218.5 317.5Z"/><path d="M227.7 317.5C227.7 357.6 228.8 357.6 228.8 397.7H268.7C268.7 357.6 268 357.6 268 317.5Z"/><path d="M276.9 317.5C276.9 357.6 277.6 357.6 277.6 397.7H298.4C298.4 357.6 296.1 357.6 296.1 317.5Z"/><path d="M297.8 317.5C297.8 357.6 300.3 357.6 300.3 397.7H315.4C315.4 357.6 311.8 357.6 311.8 317.5Z"/><path d="M321.5 317.5C321.5 357.6 324 357.6 324 397.7H370.6C370.6 357.6 368.1 357.6 368.1 317.5Z"/><path d="M376.7 317.5C376.7 357.6 379.5 357.6 379.5 397.7H414.1C414.1 357.6 411.6 357.6 411.6 317.5Z"/><path d="M420.2 317.5C420.2 357.6 423 357.6 423 397.7H446.2C446.2 357.6 440.8 357.6 440.8 317.5Z"/><path d="M450.1 317.5C450.1 357.6 455.1 357.6 455.1 397.7H482.9C482.9 357.6 474.7 357.6 474.7 317.5Z"/><path d="M483.6 317.5C483.6 357.6 492.1 357.6 492.1 397.7H513.3C513.3 357.6 502.4 357.6 502.4 317.5Z"/><path d="M502.4 317.5C502.4 357.6 515.2 357.6 515.2 397.7H530.6C530.6 357.6 514.9 357.6 514.9 317.5Z"/><path d="M523.5 317.5C523.5 357.6 539.5 357.6 539.5 397.7H572.6C572.6 357.6 552.7 357.6 552.7 317.5Z"/><path d="M561.2 317.5C561.2 357.6 582.3 357.6 582.3 397.7H607.3C607.3 357.6 588.3 357.6 588.3 317.5Z"/><path d="M596.9 317.5C596.9 357.6 607.3 357.6 607.3 397.7H624C624 357.6 608.3 357.6 608.3 317.5Z"/><path d="M608.3 317.5C608.3 357.6 669.6 357.6 669.6 397.7H680C680 357.6 619.7 357.6 619.7 317.5Z"/><path d="M628.9 317.5C628.9 357.6 632.9 357.6 632.9 397.7H657.9C657.9 357.6 650 357.6 650 317.5Z"/><path d="M658.9 317.5C658.9 357.6 678.8 357.6 678.8 397.7H692.7C692.7 357.6 680.3 357.6 680.3 317.5Z"/><path d="M688.8 317.5C688.8 357.6 701.6 357.6 701.6 397.7H724.8C724.8 357.6 705.2 357.6 705.2 317.5Z"/><path d="M713.8 317.5C713.8 357.6 733.7 357.6 733.7 397.7H753.1C753.1 357.6 734.4 357.6 734.4 317.5Z"/><path d="M743.3 317.5C743.3 357.6 750.7 357.6 750.7 397.7H758C758 357.6 762.2 357.6 762.2 317.5Z"/><path d="M771.1 317.5C771.1 357.6 766.9 357.6 766.9 397.7H787.2C787.2 357.6 787.2 357.6 787.2 317.5Z"/><g stroke-width="0.18"><path d="M202.8 406C202.8 446.4 285.5 446.4 285.5 486.8H286.6C286.6 446.4 203.9 446.4 203.9 406Z"/><path d="M204.3 406C204.3 446.4 288.6 446.4 288.6 486.8H290.1C290.1 446.4 205.8 446.4 205.8 406Z"/><path d="M205.3 406C205.3 446.4 287.6 446.4 287.6 486.8H288.7C288.7 446.4 206.4 446.4 206.4 406Z"/><path d="M207.3 406C207.3 446.4 293.8 446.4 293.8 486.8H295.1C295.1 446.4 208.7 446.4 208.7 406Z"/><path d="M208.6 406C208.6 446.4 294.2 446.4 294.2 486.8H295.5C295.5 446.4 209.8 446.4 209.8 406Z"/><path d="M210.2 406C210.2 446.4 297.7 446.4 297.7 486.8H298.7C298.7 446.4 211.2 446.4 211.2 406Z"/><path d="M211.9 406C211.9 446.4 300.3 446.4 300.3 486.8H301.9C301.9 446.4 213.5 446.4 213.5 406Z"/><path d="M213.1 406C213.1 446.4 301.9 446.4 301.9 486.8H303.6C303.6 446.4 214.7 446.4 214.7 406Z"/><path d="M214.6 406C214.6 446.4 300.6 446.4 300.6 486.8H301.6C301.6 446.4 215.6 446.4 215.6 406Z"/><path d="M216.1 406C216.1 446.4 305.8 446.4 305.8 486.8H307C307 446.4 217.3 446.4 217.3 406Z"/><path d="M218.5 406C218.5 446.4 304.7 446.4 304.7 486.8H305.5C305.5 446.4 219.3 446.4 219.3 406Z"/><path d="M220 406C220 446.4 309.9 446.4 309.9 486.8H311.7C311.7 446.4 221.8 446.4 221.8 406Z"/></g><g stroke-width="0.18"><path d="M196.5 406C196.5 446.4 333.8 446.4 333.8 486.8H335.1C335.1 446.4 197.8 446.4 197.8 406Z"/><path d="M198.2 406C198.2 446.4 336.3 446.4 336.3 486.8H337.7C337.7 446.4 199.6 446.4 199.6 406Z"/><path d="M200.2 406C200.2 446.4 340.8 446.4 340.8 486.8H342C342 446.4 201.3 446.4 201.3 406Z"/><path d="M202.3 406C202.3 446.4 342.9 446.4 342.9 486.8H344.3C344.3 446.4 203.7 446.4 203.7 406Z"/><path d="M205.2 406C205.2 446.4 349.8 446.4 349.8 486.8H351.5C351.5 446.4 206.9 446.4 206.9 406Z"/><path d="M207.1 406C207.1 446.4 349.1 446.4 349.1 486.8H350.9C350.9 446.4 208.9 446.4 208.9 406Z"/><path d="M208.5 406C208.5 446.4 350.2 446.4 350.2 486.8H351.5C351.5 446.4 209.8 446.4 209.8 406Z"/><path d="M211.2 406C211.2 446.4 354.9 446.4 354.9 486.8H356.4C356.4 446.4 212.6 446.4 212.6 406Z"/><path d="M212.7 406C212.7 446.4 360.2 446.4 360.2 486.8H361.5C361.5 446.4 214 446.4 214 406Z"/></g><g stroke-width="0.18"><path d="M289.6 406C289.6 446.4 399.7 446.4 399.7 486.8H401C401 446.4 290.9 446.4 290.9 406Z"/><path d="M290.7 406C290.7 446.4 399.5 446.4 399.5 486.8H400.4C400.4 446.4 291.6 446.4 291.6 406Z"/><path d="M292.2 406C292.2 446.4 402.3 446.4 402.3 486.8H403.9C403.9 446.4 293.8 446.4 293.8 406Z"/><path d="M293.4 406C293.4 446.4 403.7 446.4 403.7 486.8H404.9C404.9 446.4 294.6 446.4 294.6 406Z"/><path d="M295.8 406C295.8 446.4 404.6 446.4 404.6 486.8H405.6C405.6 446.4 296.9 446.4 296.9 406Z"/><path d="M297 406C297 446.4 408.1 446.4 408.1 486.8H409.3C409.3 446.4 298.2 446.4 298.2 406Z"/><path d="M298.8 406C298.8 446.4 409.6 446.4 409.6 486.8H410.7C410.7 446.4 300 446.4 300 406Z"/><path d="M299.9 406C299.9 446.4 410 446.4 410 486.8H411.2C411.2 446.4 301 446.4 301 406Z"/><path d="M301.5 406C301.5 446.4 412.5 446.4 412.5 486.8H414.1C414.1 446.4 303.1 446.4 303.1 406Z"/><path d="M303.2 406C303.2 446.4 412.5 446.4 412.5 486.8H413.5C413.5 446.4 304.2 446.4 304.2 406Z"/><path d="M304.6 406C304.6 446.4 416 446.4 416 486.8H416.9C416.9 446.4 305.5 446.4 305.5 406Z"/></g><g stroke-width="0.18"><path d="M280.2 406C280.2 446.4 443 446.4 443 486.8H444.3C444.3 446.4 281.6 446.4 281.6 406Z"/><path d="M283.2 406C283.2 446.4 448 446.4 448 486.8H449.5C449.5 446.4 284.7 446.4 284.7 406Z"/><path d="M285.2 406C285.2 446.4 451.2 446.4 451.2 486.8H453C453 446.4 286.9 446.4 286.9 406Z"/><path d="M286.8 406C286.8 446.4 452.4 446.4 452.4 486.8H453.4C453.4 446.4 287.7 446.4 287.7 406Z"/><path d="M289.5 406C289.5 446.4 454.2 446.4 454.2 486.8H455.5C455.5 446.4 290.8 446.4 290.8 406Z"/><path d="M291.6 406C291.6 446.4 456.2 446.4 456.2 486.8H457.2C457.2 446.4 292.6 446.4 292.6 406Z"/><path d="M293.7 406C293.7 446.4 459.5 446.4 459.5 486.8H460.4C460.4 446.4 294.6 446.4 294.6 406Z"/><path d="M294.8 406C294.8 446.4 459.8 446.4 459.8 486.8H460.6C460.6 446.4 295.6 446.4 295.6 406Z"/></g><g stroke-width="0.18"><path d="M348.5 406C348.5 446.4 441.2 446.4 441.2 486.8H442.5C442.5 446.4 349.9 446.4 349.9 406Z"/><path d="M352.4 406C352.4 446.4 445.4 446.4 445.4 486.8H446.9C446.9 446.4 353.8 446.4 353.8 406Z"/><path d="M355.9 406C355.9 446.4 446.5 446.4 446.5 486.8H448.3C448.3 446.4 357.7 446.4 357.7 406Z"/><path d="M359.9 406C359.9 446.4 450 446.4 450 486.8H451.2C451.2 446.4 361.1 446.4 361.1 406Z"/><path d="M363.5 406C363.5 446.4 456.5 446.4 456.5 486.8H457.4C457.4 446.4 364.4 446.4 364.4 406Z"/><path d="M365.5 406C365.5 446.4 456.3 446.4 456.3 486.8H457.5C457.5 446.4 366.7 446.4 366.7 406Z"/></g><g stroke-width="0.18"><path d="M399.1 406C399.1 446.4 507.6 446.4 507.6 486.8H509C509 446.4 400.5 446.4 400.5 406Z"/><path d="M402.6 406C402.6 446.4 511 446.4 511 486.8H512.2C512.2 446.4 403.8 446.4 403.8 406Z"/><path d="M403.9 406C403.9 446.4 514.3 446.4 514.3 486.8H515.1C515.1 446.4 404.7 446.4 404.7 406Z"/><path d="M407.8 406C407.8 446.4 518.5 446.4 518.5 486.8H519.9C519.9 446.4 409.2 446.4 409.2 406Z"/><path d="M409.1 406C409.1 446.4 519 446.4 519 486.8H520.2C520.2 446.4 410.4 446.4 410.4 406Z"/><path d="M412.9 406C412.9 446.4 524.7 446.4 524.7 486.8H525.8C525.8 446.4 414 446.4 414 406Z"/></g><g stroke-width="0.18"><path d="M437.6 406C437.6 446.4 553.7 446.4 553.7 486.8H554.8C554.8 446.4 438.7 446.4 438.7 406Z"/><path d="M439.7 406C439.7 446.4 557.1 446.4 557.1 486.8H558.4C558.4 446.4 441 446.4 441 406Z"/><path d="M441.1 406C441.1 446.4 560.3 446.4 560.3 486.8H561.9C561.9 446.4 442.7 446.4 442.7 406Z"/><path d="M443.2 406C443.2 446.4 565.5 446.4 565.5 486.8H567.1C567.1 446.4 444.7 446.4 444.7 406Z"/><path d="M444.2 406C444.2 446.4 564.4 446.4 564.4 486.8H565.6C565.6 446.4 445.4 446.4 445.4 406Z"/><path d="M446 406C446 446.4 568 446.4 568 486.8H569.7C569.7 446.4 447.7 446.4 447.7 406Z"/></g><g stroke-width="0.18"><path d="M460.3 406C460.3 446.4 507.5 446.4 507.5 486.8H509.3C509.3 446.4 462 446.4 462 406Z"/><path d="M461.7 406C461.7 446.4 510 446.4 510 486.8H511C511 446.4 462.7 446.4 462.7 406Z"/><path d="M463.3 406C463.3 446.4 513.5 446.4 513.5 486.8H514.7C514.7 446.4 464.5 446.4 464.5 406Z"/><path d="M466.4 406C466.4 446.4 519.4 446.4 519.4 486.8H520.3C520.3 446.4 467.3 446.4 467.3 406Z"/><path d="M468 406C468 446.4 520.1 446.4 520.1 486.8H521C521 446.4 468.9 446.4 468.9 406Z"/><path d="M469.9 406C469.9 446.4 522.4 446.4 522.4 486.8H523.9C523.9 446.4 471.4 446.4 471.4 406Z"/></g><g stroke-width="0.18"><path d="M500.7 406C500.7 446.4 439.3 446.4 439.3 486.8H440.6C440.6 446.4 502 446.4 502 406Z"/><path d="M502.9 406C502.9 446.4 442.5 446.4 442.5 486.8H443.5C443.5 446.4 503.9 446.4 503.9 406Z"/><path d="M505.6 406C505.6 446.4 445.1 446.4 445.1 486.8H446C446 446.4 506.6 446.4 506.6 406Z"/><path d="M507.9 406C507.9 446.4 446.7 446.4 446.7 486.8H448C448 446.4 509.2 446.4 509.2 406Z"/><path d="M509.8 406C509.8 446.4 449.6 446.4 449.6 486.8H450.9C450.9 446.4 511.1 446.4 511.1 406Z"/><path d="M511.3 406C511.3 446.4 451.7 446.4 451.7 486.8H453.4C453.4 446.4 513 446.4 513 406Z"/><path d="M514 406C514 446.4 453.9 446.4 453.9 486.8H454.9C454.9 446.4 515.1 446.4 515.1 406Z"/><path d="M516.7 406C516.7 446.4 457.1 446.4 457.1 486.8H458.1C458.1 446.4 517.7 446.4 517.7 406Z"/></g><g stroke-width="0.18"><path d="M512.2 406C512.2 446.4 651.9 446.4 651.9 486.8H653.2C653.2 446.4 513.4 446.4 513.4 406Z"/><path d="M514.8 406C514.8 446.4 653.1 446.4 653.1 486.8H654.3C654.3 446.4 515.9 446.4 515.9 406Z"/><path d="M518.6 406C518.6 446.4 655.7 446.4 655.7 486.8H656.6C656.6 446.4 519.5 446.4 519.5 406Z"/><path d="M521.1 406C521.1 446.4 658.4 446.4 658.4 486.8H659.6C659.6 446.4 522.4 446.4 522.4 406Z"/><path d="M524 406C524 446.4 660.6 446.4 660.6 486.8H661.9C661.9 446.4 525.3 446.4 525.3 406Z"/><path d="M526.9 406C526.9 446.4 662 446.4 662 486.8H663.7C663.7 446.4 528.5 446.4 528.5 406Z"/></g><g stroke-width="0.18"><path d="M544.8 406C544.8 446.4 490.1 446.4 490.1 486.8H491.2C491.2 446.4 545.9 446.4 545.9 406Z"/><path d="M546.8 406C546.8 446.4 493.9 446.4 493.9 486.8H495.2C495.2 446.4 548.1 446.4 548.1 406Z"/><path d="M548.7 406C548.7 446.4 496.2 446.4 496.2 486.8H497.7C497.7 446.4 550.3 446.4 550.3 406Z"/><path d="M549.8 406C549.8 446.4 494.4 446.4 494.4 486.8H495.9C495.9 446.4 551.3 446.4 551.3 406Z"/><path d="M552.2 406C552.2 446.4 498.7 446.4 498.7 486.8H499.9C499.9 446.4 553.5 446.4 553.5 406Z"/><path d="M553.8 406C553.8 446.4 500.4 446.4 500.4 486.8H501.9C501.9 446.4 555.3 446.4 555.3 406Z"/><path d="M555.7 406C555.7 446.4 503.2 446.4 503.2 486.8H504.2C504.2 446.4 556.6 446.4 556.6 406Z"/><path d="M557.6 406C557.6 446.4 505.3 446.4 505.3 486.8H506.9C506.9 446.4 559.1 446.4 559.1 406Z"/></g><g stroke-width="0.18"><path d="M587.4 406C587.4 446.4 547.4 446.4 547.4 486.8H548.7C548.7 446.4 588.7 446.4 588.7 406Z"/><path d="M589.6 406C589.6 446.4 548.2 446.4 548.2 486.8H549.5C549.5 446.4 590.9 446.4 590.9 406Z"/><path d="M592.1 406C592.1 446.4 552.1 446.4 552.1 486.8H553.1C553.1 446.4 593 446.4 593 406Z"/><path d="M594.3 406C594.3 446.4 554.3 446.4 554.3 486.8H556C556 446.4 596 446.4 596 406Z"/><path d="M597.7 406C597.7 446.4 557.4 446.4 557.4 486.8H558.6C558.6 446.4 598.9 446.4 598.9 406Z"/><path d="M598.9 406C598.9 446.4 557.7 446.4 557.7 486.8H558.9C558.9 446.4 600 446.4 600 406Z"/><path d="M602.5 406C602.5 446.4 560.5 446.4 560.5 486.8H562.3C562.3 446.4 604.2 446.4 604.2 406Z"/><path d="M604.2 406C604.2 446.4 563.3 446.4 563.3 486.8H564.3C564.3 446.4 605.2 446.4 605.2 406Z"/></g><g stroke-width="0.18"><path d="M608.1 406C608.1 446.4 716 446.4 716 486.8H717C717 446.4 609.1 446.4 609.1 406Z"/><path d="M610.6 406C610.6 446.4 719.5 446.4 719.5 486.8H721.1C721.1 446.4 612.1 446.4 612.1 406Z"/><path d="M614.6 406C614.6 446.4 722.7 446.4 722.7 486.8H723.6C723.6 446.4 615.5 446.4 615.5 406Z"/><path d="M617.7 406C617.7 446.4 724.8 446.4 724.8 486.8H725.8C725.8 446.4 618.7 446.4 618.7 406Z"/><path d="M620.4 406C620.4 446.4 727.7 446.4 727.7 486.8H728.8C728.8 446.4 621.5 446.4 621.5 406Z"/><path d="M624.1 406C624.1 446.4 728.3 446.4 728.3 486.8H729.7C729.7 446.4 625.5 446.4 625.5 406Z"/></g><g stroke-width="0.18"><path d="M638.3 406C638.3 446.4 600.1 446.4 600.1 486.8H601.6C601.6 446.4 639.8 446.4 639.8 406Z"/><path d="M640.5 406C640.5 446.4 602.4 446.4 602.4 486.8H603.6C603.6 446.4 641.8 446.4 641.8 406Z"/><path d="M643 406C643 446.4 604.2 446.4 604.2 486.8H605.5C605.5 446.4 644.3 446.4 644.3 406Z"/><path d="M644.8 406C644.8 446.4 606.9 446.4 606.9 486.8H607.7C607.7 446.4 645.6 446.4 645.6 406Z"/><path d="M646.4 406C646.4 446.4 609.7 446.4 609.7 486.8H610.7C610.7 446.4 647.4 446.4 647.4 406Z"/><path d="M649.2 406C649.2 446.4 612.9 446.4 612.9 486.8H614.6C614.6 446.4 650.9 446.4 650.9 406Z"/></g><g stroke-width="0.18"><path d="M681.8 406C681.8 446.4 725.1 446.4 725.1 486.8H726.5C726.5 446.4 683.2 446.4 683.2 406Z"/><path d="M683.3 406C683.3 446.4 730 446.4 730 486.8H731C731 446.4 684.3 446.4 684.3 406Z"/><path d="M684 406C684 446.4 731.3 446.4 731.3 486.8H732.9C732.9 446.4 685.5 446.4 685.5 406Z"/><path d="M685.4 406C685.4 446.4 732.7 446.4 732.7 486.8H733.6C733.6 446.4 686.3 446.4 686.3 406Z"/><path d="M686.6 406C686.6 446.4 734.3 446.4 734.3 486.8H735.7C735.7 446.4 688 446.4 688 406Z"/><path d="M687.5 406C687.5 446.4 733.9 446.4 733.9 486.8H735.4C735.4 446.4 688.9 446.4 688.9 406Z"/><path d="M689.1 406C689.1 446.4 736.4 446.4 736.4 486.8H737.2C737.2 446.4 689.9 446.4 689.9 406Z"/><path d="M689.7 406C689.7 446.4 739.4 446.4 739.4 486.8H740.6C740.6 446.4 690.9 446.4 690.9 406Z"/><path d="M691.1 406C691.1 446.4 742.2 446.4 742.2 486.8H743.6C743.6 446.4 692.5 446.4 692.5 406Z"/></g><g stroke-width="0.18"><path d="M705.5 406C705.5 446.4 768.3 446.4 768.3 486.8H769.8C769.8 446.4 707 446.4 707 406Z"/><path d="M706.8 406C706.8 446.4 769.3 446.4 769.3 486.8H770.7C770.7 446.4 708.1 446.4 708.1 406Z"/><path d="M708 406C708 446.4 773.8 446.4 773.8 486.8H774.7C774.7 446.4 708.9 446.4 708.9 406Z"/><path d="M709.5 406C709.5 446.4 774.2 446.4 774.2 486.8H775.8C775.8 446.4 711.1 446.4 711.1 406Z"/><path d="M710.4 406C710.4 446.4 776.3 446.4 776.3 486.8H777.4C777.4 446.4 711.6 446.4 711.6 406Z"/><path d="M711.5 406C711.5 446.4 777 446.4 777 486.8H778.6C778.6 446.4 713.1 446.4 713.1 406Z"/><path d="M712.7 406C712.7 446.4 778.1 446.4 778.1 486.8H779.3C779.3 446.4 713.9 446.4 713.9 406Z"/><path d="M713.7 406C713.7 446.4 779.7 446.4 779.7 486.8H781.1C781.1 446.4 715.1 446.4 715.1 406Z"/><path d="M715.2 406C715.2 446.4 782.6 446.4 782.6 486.8H783.7C783.7 446.4 716.2 446.4 716.2 406Z"/></g><g stroke-width="0.18"><path d="M670.6 406C670.6 446.4 632.8 446.4 632.8 486.8H634.1C634.1 446.4 672 446.4 672 406Z"/><path d="M672.3 406C672.3 446.4 636.4 446.4 636.4 486.8H637.8C637.8 446.4 673.7 446.4 673.7 406Z"/><path d="M674.4 406C674.4 446.4 639 446.4 639 486.8H640.4C640.4 446.4 675.8 446.4 675.8 406Z"/><path d="M675.9 406C675.9 446.4 639.8 446.4 639.8 486.8H640.7C640.7 446.4 676.8 446.4 676.8 406Z"/><path d="M678 406C678 446.4 643 446.4 643 486.8H643.9C643.9 446.4 678.9 446.4 678.9 406Z"/><path d="M679.9 406C679.9 446.4 645.6 446.4 645.6 486.8H647C647 446.4 681.3 446.4 681.3 406Z"/></g><g stroke-width="0.18"><path d="M741.6 406C741.6 446.4 674.5 446.4 674.5 486.8H675.7C675.7 446.4 742.7 446.4 742.7 406Z"/><path d="M743.4 406C743.4 446.4 676.6 446.4 676.6 486.8H677.9C677.9 446.4 744.7 446.4 744.7 406Z"/><path d="M744.6 406C744.6 446.4 678.5 446.4 678.5 486.8H680.2C680.2 446.4 746.4 446.4 746.4 406Z"/><path d="M746.4 406C746.4 446.4 680 446.4 680 486.8H681.2C681.2 446.4 747.7 446.4 747.7 406Z"/><path d="M747.8 406C747.8 446.4 683.5 446.4 683.5 486.8H685.2C685.2 446.4 749.4 446.4 749.4 406Z"/><path d="M750.6 406C750.6 446.4 685.1 446.4 685.1 486.8H686.6C686.6 446.4 752 446.4 752 406Z"/></g><g stroke-width="0.18"><path d="M771 406C771 446.4 720.6 446.4 720.6 486.8H721.6C721.6 446.4 772 446.4 772 406Z"/><path d="M772.4 406C772.4 446.4 722.3 446.4 722.3 486.8H724.1C724.1 446.4 774.2 446.4 774.2 406Z"/><path d="M773.2 406C773.2 446.4 726.3 446.4 726.3 486.8H727.3C727.3 446.4 774.1 446.4 774.1 406Z"/><path d="M774.3 406C774.3 446.4 727.6 446.4 727.6 486.8H729C729 446.4 775.7 446.4 775.7 406Z"/><path d="M775.9 406C775.9 446.4 729.7 446.4 729.7 486.8H731.1C731.1 446.4 777.4 446.4 777.4 406Z"/><path d="M776.6 406C776.6 446.4 731.3 446.4 731.3 486.8H732.7C732.7 446.4 777.9 446.4 777.9 406Z"/><path d="M778.4 406C778.4 446.4 732.3 446.4 732.3 486.8H733.1C733.1 446.4 779.2 446.4 779.2 406Z"/><path d="M779.3 406C779.3 446.4 736.8 446.4 736.8 486.8H738C738 446.4 780.5 446.4 780.5 406Z"/></g><g stroke-width="0.18"><path d="M554.7 406C554.7 446.4 682.2 446.4 682.2 486.8H683.6C683.6 446.4 556.1 446.4 556.1 406Z"/><path d="M556.6 406C556.6 446.4 683.5 446.4 683.5 486.8H685C685 446.4 558.2 446.4 558.2 406Z"/><path d="M559.5 406C559.5 446.4 686.5 446.4 686.5 486.8H687.5C687.5 446.4 560.5 446.4 560.5 406Z"/><path d="M562.1 406C562.1 446.4 689.3 446.4 689.3 486.8H690.8C690.8 446.4 563.6 446.4 563.6 406Z"/><path d="M565.5 406C565.5 446.4 691.8 446.4 691.8 486.8H692.8C692.8 446.4 566.5 446.4 566.5 406Z"/><path d="M567 406C567 446.4 692.1 446.4 692.1 486.8H693.1C693.1 446.4 568.1 446.4 568.1 406Z"/></g><g stroke-width="0.18"><path d="M465.6 406C465.6 446.4 599.9 446.4 599.9 486.8H600.8C600.8 446.4 466.5 446.4 466.5 406Z"/><path d="M467.6 406C467.6 446.4 603.4 446.4 603.4 486.8H604.5C604.5 446.4 468.6 446.4 468.6 406Z"/><path d="M470.5 406C470.5 446.4 607.5 446.4 607.5 486.8H608.6C608.6 446.4 471.7 446.4 471.7 406Z"/><path d="M472.1 406C472.1 446.4 607.7 446.4 607.7 486.8H609.2C609.2 446.4 473.6 446.4 473.6 406Z"/><path d="M474.5 406C474.5 446.4 611.9 446.4 611.9 486.8H613.5C613.5 446.4 476.1 446.4 476.1 406Z"/><path d="M476 406C476 446.4 613.4 446.4 613.4 486.8H614.4C614.4 446.4 477.1 446.4 477.1 406Z"/></g><g stroke-width="0.18"><path d="M637.1 406C637.1 446.4 768.5 446.4 768.5 486.8H769.4C769.4 446.4 638 446.4 638 406Z"/><path d="M638.8 406C638.8 446.4 769.7 446.4 769.7 486.8H770.9C770.9 446.4 640 446.4 640 406Z"/><path d="M640.1 406C640.1 446.4 771.1 446.4 771.1 486.8H772.1C772.1 446.4 641.1 446.4 641.1 406Z"/><path d="M641.6 406C641.6 446.4 773.4 446.4 773.4 486.8H774.9C774.9 446.4 643.1 446.4 643.1 406Z"/><path d="M643.6 406C643.6 446.4 774.5 446.4 774.5 486.8H776.2C776.2 446.4 645.3 446.4 645.3 406Z"/><path d="M645.1 406C645.1 446.4 777.6 446.4 777.6 486.8H779.4C779.4 446.4 646.8 446.4 646.8 406Z"/><path d="M646 406C646 446.4 778.9 446.4 778.9 486.8H780.6C780.6 446.4 647.7 446.4 647.7 406Z"/><path d="M647.6 406C647.6 446.4 780.2 446.4 780.2 486.8H781.9C781.9 446.4 649.3 446.4 649.3 406Z"/></g><g stroke-width="0.18"><path d="M707 406C707 446.4 688 446.4 688 486.8H689C689 446.4 707.9 446.4 707.9 406Z"/><path d="M708 406C708 446.4 690.4 446.4 690.4 486.8H691.6C691.6 446.4 709.2 446.4 709.2 406Z"/><path d="M709.8 406C709.8 446.4 691.7 446.4 691.7 486.8H693.4C693.4 446.4 711.6 446.4 711.6 406Z"/><path d="M711.5 406C711.5 446.4 692.7 446.4 692.7 486.8H694.4C694.4 446.4 713.3 446.4 713.3 406Z"/><path d="M713.3 406C713.3 446.4 695.9 446.4 695.9 486.8H697.7C697.7 446.4 715.1 446.4 715.1 406Z"/><path d="M715 406C715 446.4 697.3 446.4 697.3 486.8H699C699 446.4 716.7 446.4 716.7 406Z"/></g><g stroke-width="0.18"><path d="M738.6 406C738.6 446.4 760.4 446.4 760.4 486.8H762.1C762.1 446.4 740.3 446.4 740.3 406Z"/><path d="M739.8 406C739.8 446.4 762.2 446.4 762.2 486.8H763.2C763.2 446.4 740.8 446.4 740.8 406Z"/><path d="M741.9 406C741.9 446.4 765.6 446.4 765.6 486.8H766.8C766.8 446.4 743.1 446.4 743.1 406Z"/><path d="M743.6 406C743.6 446.4 767.2 446.4 767.2 486.8H768.9C768.9 446.4 745.3 446.4 745.3 406Z"/><path d="M745.9 406C745.9 446.4 771.6 446.4 771.6 486.8H773.2C773.2 446.4 747.6 446.4 747.6 406Z"/><path d="M746.8 406C746.8 446.4 771.3 446.4 771.3 486.8H772.3C772.3 446.4 747.8 446.4 747.8 406Z"/></g><g stroke-width="0.18"><path d="M427.1 406C427.1 446.4 356 446.4 356 486.8H357.4C357.4 446.4 428.5 446.4 428.5 406Z"/><path d="M428.5 406C428.5 446.4 356.9 446.4 356.9 486.8H357.7C357.7 446.4 429.3 446.4 429.3 406Z"/><path d="M432.3 406C432.3 446.4 365.5 446.4 365.5 486.8H366.6C366.6 446.4 433.4 446.4 433.4 406Z"/><path d="M435 406C435 446.4 371.7 446.4 371.7 486.8H373.5C373.5 446.4 436.7 446.4 436.7 406Z"/></g><g stroke-width="0.18"><path d="M237.4 406C237.4 446.4 342.5 446.4 342.5 486.8H343.7C343.7 446.4 238.6 446.4 238.6 406Z"/><path d="M242.6 406C242.6 446.4 348.6 446.4 348.6 486.8H349.9C349.9 446.4 244 446.4 244 406Z"/><path d="M246.8 406C246.8 446.4 351.9 446.4 351.9 486.8H353.3C353.3 446.4 248.2 446.4 248.2 406Z"/><path d="M250.7 406C250.7 446.4 361.3 446.4 361.3 486.8H362.4C362.4 446.4 251.8 446.4 251.8 406Z"/></g><g stroke-width="0.18"><path d="M329.4 406C329.4 446.4 494.1 446.4 494.1 486.8H495.5C495.5 446.4 330.8 446.4 330.8 406Z"/><path d="M332.5 406C332.5 446.4 497 446.4 497 486.8H498.1C498.1 446.4 333.6 446.4 333.6 406Z"/><path d="M335.3 406C335.3 446.4 501.1 446.4 501.1 486.8H502.3C502.3 446.4 336.5 446.4 336.5 406Z"/><path d="M338.3 406C338.3 446.4 502.7 446.4 502.7 486.8H503.6C503.6 446.4 339.3 446.4 339.3 406Z"/><path d="M340 406C340 446.4 505.6 446.4 505.6 486.8H506.9C506.9 446.4 341.3 446.4 341.3 406Z"/><path d="M343 406C343 446.4 507 446.4 507 486.8H508.6C508.6 446.4 344.6 446.4 344.6 406Z"/><path d="M345.6 406C345.6 446.4 508.8 446.4 508.8 486.8H509.9C509.9 446.4 346.7 446.4 346.7 406Z"/><path d="M347.6 406C347.6 446.4 511.3 446.4 511.3 486.8H512.6C512.6 446.4 348.9 446.4 348.9 406Z"/></g><g stroke-width="0.18"><path d="M390.7 406C390.7 446.4 550.1 446.4 550.1 486.8H551.1C551.1 446.4 391.7 446.4 391.7 406Z"/><path d="M393.3 406C393.3 446.4 550.9 446.4 550.9 486.8H552.6C552.6 446.4 394.9 446.4 394.9 406Z"/><path d="M394.3 406C394.3 446.4 554.4 446.4 554.4 486.8H555.5C555.5 446.4 395.3 446.4 395.3 406Z"/><path d="M396.1 406C396.1 446.4 555.6 446.4 555.6 486.8H557.3C557.3 446.4 397.8 446.4 397.8 406Z"/><path d="M399 406C399 446.4 560 446.4 560 486.8H561.8C561.8 446.4 400.7 446.4 400.7 406Z"/><path d="M400 406C400 446.4 559.4 446.4 559.4 486.8H560.3C560.3 446.4 400.9 446.4 400.9 406Z"/><path d="M402.7 406C402.7 446.4 562.8 446.4 562.8 486.8H564.4C564.4 446.4 404.3 446.4 404.3 406Z"/><path d="M404.7 406C404.7 446.4 567 446.4 567 486.8H568.5C568.5 446.4 406.2 446.4 406.2 406Z"/></g><g stroke-width="0.18"><path d="M435.6 406C435.6 446.4 451.6 446.4 451.6 486.8H452.5C452.5 446.4 436.5 446.4 436.5 406Z"/><path d="M437.4 406C437.4 446.4 454.4 446.4 454.4 486.8H455.5C455.5 446.4 438.4 446.4 438.4 406Z"/><path d="M439.7 406C439.7 446.4 455.6 446.4 455.6 486.8H456.6C456.6 446.4 440.7 446.4 440.7 406Z"/><path d="M441.5 406C441.5 446.4 458.8 446.4 458.8 486.8H460.1C460.1 446.4 442.8 446.4 442.8 406Z"/><path d="M443.5 406C443.5 446.4 462.9 446.4 462.9 486.8H464.4C464.4 446.4 445 446.4 445 406Z"/><path d="M445 406C445 446.4 467.1 446.4 467.1 486.8H468.6C468.6 446.4 446.6 446.4 446.6 406Z"/></g><g stroke-width="0.18"><path d="M467.2 406C467.2 446.4 633.1 446.4 633.1 486.8H634.8C634.8 446.4 469 446.4 469 406Z"/><path d="M468.8 406C468.8 446.4 634.9 446.4 634.9 486.8H635.8C635.8 446.4 469.8 446.4 469.8 406Z"/><path d="M471 406C471 446.4 636.8 446.4 636.8 486.8H638.1C638.1 446.4 472.3 446.4 472.3 406Z"/><path d="M472.4 406C472.4 446.4 637.5 446.4 637.5 486.8H639C639 446.4 473.9 446.4 473.9 406Z"/><path d="M474.1 406C474.1 446.4 641.2 446.4 641.2 486.8H642.3C642.3 446.4 475.1 446.4 475.1 406Z"/><path d="M475.1 406C475.1 446.4 640.4 446.4 640.4 486.8H642.1C642.1 446.4 476.8 446.4 476.8 406Z"/><path d="M476.9 406C476.9 446.4 642.9 446.4 642.9 486.8H644.2C644.2 446.4 478.2 446.4 478.2 406Z"/><path d="M478.7 406C478.7 446.4 644.6 446.4 644.6 486.8H645.7C645.7 446.4 479.8 446.4 479.8 406Z"/></g><g stroke-width="0.18"><path d="M510.6 406C510.6 446.4 555.3 446.4 555.3 486.8H557C557 446.4 512.3 446.4 512.3 406Z"/><path d="M513.3 406C513.3 446.4 559.9 446.4 559.9 486.8H561.1C561.1 446.4 514.6 446.4 514.6 406Z"/><path d="M515.8 406C515.8 446.4 561.8 446.4 561.8 486.8H562.9C562.9 446.4 516.8 446.4 516.8 406Z"/><path d="M516.9 406C516.9 446.4 562.6 446.4 562.6 486.8H564C564 446.4 518.3 446.4 518.3 406Z"/><path d="M519.4 406C519.4 446.4 567.3 446.4 567.3 486.8H568.7C568.7 446.4 520.8 446.4 520.8 406Z"/><path d="M521.7 406C521.7 446.4 568.6 446.4 568.6 486.8H570C570 446.4 523.1 446.4 523.1 406Z"/><path d="M524 406C524 446.4 570.4 446.4 570.4 486.8H571.8C571.8 446.4 525.4 446.4 525.4 406Z"/><path d="M526 406C526 446.4 573.7 446.4 573.7 486.8H574.7C574.7 446.4 527 446.4 527 406Z"/></g><g stroke-width="0.18"><path d="M556.4 406C556.4 446.4 593.3 446.4 593.3 486.8H594.6C594.6 446.4 557.7 446.4 557.7 406Z"/><path d="M557.8 406C557.8 446.4 596.9 446.4 596.9 486.8H597.9C597.9 446.4 558.8 446.4 558.8 406Z"/><path d="M559.5 406C559.5 446.4 596.8 446.4 596.8 486.8H598.2C598.2 446.4 560.9 446.4 560.9 406Z"/><path d="M561.7 406C561.7 446.4 598.8 446.4 598.8 486.8H599.8C599.8 446.4 562.7 446.4 562.7 406Z"/><path d="M563.1 406C563.1 446.4 603.4 446.4 603.4 486.8H604.6C604.6 446.4 564.4 446.4 564.4 406Z"/><path d="M565.4 406C565.4 446.4 603.7 446.4 603.7 486.8H605.2C605.2 446.4 566.9 446.4 566.9 406Z"/><path d="M567.6 406C567.6 446.4 607.2 446.4 607.2 486.8H608C608 446.4 568.4 446.4 568.4 406Z"/><path d="M569 406C569 446.4 608.2 446.4 608.2 486.8H609C609 446.4 569.8 446.4 569.8 406Z"/></g><g stroke-width="0.18"><path d="M602.9 406C602.9 446.4 638.8 446.4 638.8 486.8H640.2C640.2 446.4 604.3 446.4 604.3 406Z"/><path d="M605.6 406C605.6 446.4 641.3 446.4 641.3 486.8H642.6C642.6 446.4 606.9 446.4 606.9 406Z"/><path d="M607.7 406C607.7 446.4 640.7 446.4 640.7 486.8H642C642 446.4 609.1 446.4 609.1 406Z"/><path d="M610.1 406C610.1 446.4 643.6 446.4 643.6 486.8H644.8C644.8 446.4 611.2 446.4 611.2 406Z"/><path d="M611.9 406C611.9 446.4 643.6 446.4 643.6 486.8H644.6C644.6 446.4 612.9 446.4 612.9 406Z"/><path d="M614.4 406C614.4 446.4 647.5 446.4 647.5 486.8H648.9C648.9 446.4 615.8 446.4 615.8 406Z"/><path d="M616.9 406C616.9 446.4 648.9 446.4 648.9 486.8H650.4C650.4 446.4 618.4 446.4 618.4 406Z"/><path d="M619 406C619 446.4 650.5 446.4 650.5 486.8H651.5C651.5 446.4 620.1 446.4 620.1 406Z"/></g><g stroke-width="0.18"><path d="M650.1 406C650.1 446.4 673.9 446.4 673.9 486.8H675.5C675.5 446.4 651.8 446.4 651.8 406Z"/><path d="M652.2 406C652.2 446.4 676.9 446.4 676.9 486.8H677.9C677.9 446.4 653.1 446.4 653.1 406Z"/><path d="M653.4 406C653.4 446.4 678.5 446.4 678.5 486.8H679.4C679.4 446.4 654.2 446.4 654.2 406Z"/><path d="M655.4 406C655.4 446.4 681 446.4 681 486.8H682.8C682.8 446.4 657.1 446.4 657.1 406Z"/><path d="M656.8 406C656.8 446.4 681.9 446.4 681.9 486.8H683.7C683.7 446.4 658.5 446.4 658.5 406Z"/><path d="M657.9 406C657.9 446.4 682.3 446.4 682.3 486.8H683.2C683.2 446.4 658.8 446.4 658.8 406Z"/><path d="M659.4 406C659.4 446.4 685.2 446.4 685.2 486.8H686.1C686.1 446.4 660.3 446.4 660.3 406Z"/><path d="M661.5 406C661.5 446.4 686.3 446.4 686.3 486.8H688C688 446.4 663.2 446.4 663.2 406Z"/></g><g stroke-width="0.18"><path d="M681.4 406C681.4 446.4 768.7 446.4 768.7 486.8H769.8C769.8 446.4 682.4 446.4 682.4 406Z"/><path d="M682.6 406C682.6 446.4 771.5 446.4 771.5 486.8H773C773 446.4 684.1 446.4 684.1 406Z"/><path d="M684.9 406C684.9 446.4 775.6 446.4 775.6 486.8H777.3C777.3 446.4 686.6 446.4 686.6 406Z"/><path d="M686.4 406C686.4 446.4 776.6 446.4 776.6 486.8H777.9C777.9 446.4 687.7 446.4 687.7 406Z"/><path d="M688.2 406C688.2 446.4 780.4 446.4 780.4 486.8H781.6C781.6 446.4 689.4 446.4 689.4 406Z"/><path d="M689.5 406C689.5 446.4 781.7 446.4 781.7 486.8H782.7C782.7 446.4 690.5 446.4 690.5 406Z"/></g><g stroke-width="0.18"><path d="M714.9 406C714.9 446.4 633.5 446.4 633.5 486.8H634.5C634.5 446.4 715.9 446.4 715.9 406Z"/><path d="M716.6 406C716.6 446.4 635.5 446.4 635.5 486.8H637.3C637.3 446.4 718.3 446.4 718.3 406Z"/><path d="M718.6 406C718.6 446.4 638.5 446.4 638.5 486.8H640.1C640.1 446.4 720.3 446.4 720.3 406Z"/><path d="M720.4 406C720.4 446.4 639.6 446.4 639.6 486.8H641.2C641.2 446.4 722 446.4 722 406Z"/><path d="M722.1 406C722.1 446.4 643.9 446.4 643.9 486.8H645.5C645.5 446.4 723.6 446.4 723.6 406Z"/><path d="M723.3 406C723.3 446.4 643.4 446.4 643.4 486.8H644.9C644.9 446.4 724.8 446.4 724.8 406Z"/></g><g stroke-width="0.18"><path d="M737.5 406C737.5 446.4 728.6 446.4 728.6 486.8H729.7C729.7 446.4 738.7 446.4 738.7 406Z"/><path d="M738.7 406C738.7 446.4 730.4 446.4 730.4 486.8H731.9C731.9 446.4 740.1 446.4 740.1 406Z"/><path d="M740.1 406C740.1 446.4 731.4 446.4 731.4 486.8H732.6C732.6 446.4 741.3 446.4 741.3 406Z"/><path d="M741.7 406C741.7 446.4 733.5 446.4 733.5 486.8H734.6C734.6 446.4 742.8 446.4 742.8 406Z"/><path d="M743.3 406C743.3 446.4 737.1 446.4 737.1 486.8H738.6C738.6 446.4 744.9 446.4 744.9 406Z"/><path d="M744.1 406C744.1 446.4 736 446.4 736 486.8H737.6C737.6 446.4 745.6 446.4 745.6 406Z"/><path d="M745.9 406C745.9 446.4 740.1 446.4 740.1 486.8H741.1C741.1 446.4 746.9 446.4 746.9 406Z"/><path d="M747.2 406C747.2 446.4 741.5 446.4 741.5 486.8H742.7C742.7 446.4 748.4 446.4 748.4 406Z"/></g><g stroke-width="0.18"><path d="M775 406C775 446.4 681.3 446.4 681.3 486.8H683.1C683.1 446.4 776.8 446.4 776.8 406Z"/><path d="M776 406C776 446.4 682.3 446.4 682.3 486.8H684.1C684.1 446.4 777.7 446.4 777.7 406Z"/><path d="M778 406C778 446.4 685.3 446.4 685.3 486.8H686.9C686.9 446.4 779.7 446.4 779.7 406Z"/><path d="M779 406C779 446.4 687.2 446.4 687.2 486.8H688.7C688.7 446.4 780.4 446.4 780.4 406Z"/><path d="M781 406C781 446.4 688.9 446.4 688.9 486.8H690.3C690.3 446.4 782.4 446.4 782.4 406Z"/><path d="M782.1 406C782.1 446.4 691.1 446.4 691.1 486.8H692.1C692.1 446.4 783.2 446.4 783.2 406Z"/></g><g stroke-width="0.18"><path d="M300.1 406C300.1 446.4 282.1 446.4 282.1 486.8H283.3C283.3 446.4 301.3 446.4 301.3 406Z"/><path d="M303 406C303 446.4 283.4 446.4 283.4 486.8H285.1C285.1 446.4 304.7 446.4 304.7 406Z"/><path d="M306.3 406C306.3 446.4 290.8 446.4 290.8 486.8H291.7C291.7 446.4 307.1 446.4 307.1 406Z"/><path d="M309.2 406C309.2 446.4 291.4 446.4 291.4 486.8H292.7C292.7 446.4 310.6 446.4 310.6 406Z"/><path d="M311.5 406C311.5 446.4 294.8 446.4 294.8 486.8H296C296 446.4 312.7 446.4 312.7 406Z"/><path d="M315 406C315 446.4 302.5 446.4 302.5 486.8H303.6C303.6 446.4 316.1 446.4 316.1 406Z"/></g><g stroke-width="0.18"><path d="M398.3 406C398.3 446.4 393.7 446.4 393.7 486.8H394.6C394.6 446.4 399.2 446.4 399.2 406Z"/><path d="M401 406C401 446.4 395.9 446.4 395.9 486.8H396.9C396.9 446.4 402.1 446.4 402.1 406Z"/><path d="M403.3 406C403.3 446.4 399 446.4 399 486.8H400.4C400.4 446.4 404.7 446.4 404.7 406Z"/><path d="M406 406C406 446.4 404.5 446.4 404.5 486.8H405.6C405.6 446.4 407.2 446.4 407.2 406Z"/><path d="M408.5 406C408.5 446.4 408.6 446.4 408.6 486.8H410C410 446.4 409.9 446.4 409.9 406Z"/><path d="M410.9 406C410.9 446.4 409.7 446.4 409.7 486.8H410.9C410.9 446.4 412.1 446.4 412.1 406Z"/></g><g stroke-width="0.18"><path d="M253.1 406C253.1 446.4 407.7 446.4 407.7 486.8H408.7C408.7 446.4 254.2 446.4 254.2 406Z"/><path d="M257.6 406C257.6 446.4 412.7 446.4 412.7 486.8H413.7C413.7 446.4 258.5 446.4 258.5 406Z"/><path d="M260.5 406C260.5 446.4 415.9 446.4 415.9 486.8H417.7C417.7 446.4 262.3 446.4 262.3 406Z"/><path d="M262.9 406C262.9 446.4 421.6 446.4 421.6 486.8H423.2C423.2 446.4 264.6 446.4 264.6 406Z"/><path d="M265.5 406C265.5 446.4 424 446.4 424 486.8H425.2C425.2 446.4 266.7 446.4 266.7 406Z"/><path d="M268.5 406C268.5 446.4 424.4 446.4 424.4 486.8H425.9C425.9 446.4 270 446.4 270 406Z"/></g><g stroke-width="0.18"><path d="M342.1 406C342.1 446.4 327.8 446.4 327.8 486.8H329.1C329.1 446.4 343.4 446.4 343.4 406Z"/><path d="M344.1 406C344.1 446.4 331 446.4 331 486.8H332.6C332.6 446.4 345.7 446.4 345.7 406Z"/><path d="M348.4 406C348.4 446.4 335.3 446.4 335.3 486.8H336.3C336.3 446.4 349.5 446.4 349.5 406Z"/><path d="M352.2 406C352.2 446.4 340.6 446.4 340.6 486.8H342.2C342.2 446.4 353.9 446.4 353.9 406Z"/><path d="M354.5 406C354.5 446.4 346.4 446.4 346.4 486.8H347.8C347.8 446.4 355.9 446.4 355.9 406Z"/><path d="M359.6 406C359.6 446.4 350 446.4 350 486.8H350.8C350.8 446.4 360.5 446.4 360.5 406Z"/></g><g stroke-width="0.18"><path d="M425.8 406C425.8 446.4 599.6 446.4 599.6 486.8H601.2C601.2 446.4 427.4 446.4 427.4 406Z"/><path d="M428.4 406C428.4 446.4 606 446.4 606 486.8H607.7C607.7 446.4 430 446.4 430 406Z"/><path d="M429.8 406C429.8 446.4 608.3 446.4 608.3 486.8H609.8C609.8 446.4 431.3 446.4 431.3 406Z"/><path d="M431.5 406C431.5 446.4 609.5 446.4 609.5 486.8H610.3C610.3 446.4 432.4 446.4 432.4 406Z"/><path d="M432.8 406C432.8 446.4 610.8 446.4 610.8 486.8H612.1C612.1 446.4 434.1 446.4 434.1 406Z"/><path d="M434.6 406C434.6 446.4 615.9 446.4 615.9 486.8H617.3C617.3 446.4 435.9 446.4 435.9 406Z"/></g><g stroke-width="0.18"><path d="M555 406C555 446.4 731.4 446.4 731.4 486.8H733.1C733.1 446.4 556.8 446.4 556.8 406Z"/><path d="M557.6 406C557.6 446.4 731.7 446.4 731.7 486.8H733.3C733.3 446.4 559.2 446.4 559.2 406Z"/><path d="M561 406C561 446.4 737.4 446.4 737.4 486.8H738.6C738.6 446.4 562.2 446.4 562.2 406Z"/><path d="M563 406C563 446.4 737.4 446.4 737.4 486.8H738.4C738.4 446.4 564.1 446.4 564.1 406Z"/><path d="M565.3 406C565.3 446.4 741.7 446.4 741.7 486.8H742.6C742.6 446.4 566.1 446.4 566.1 406Z"/><path d="M568.5 406C568.5 446.4 742.9 446.4 742.9 486.8H744.7C744.7 446.4 570.3 446.4 570.3 406Z"/></g><g stroke-width="0.18"><path d="M590.4 406C590.4 446.4 773.8 446.4 773.8 486.8H775.1C775.1 446.4 591.7 446.4 591.7 406Z"/><path d="M593.3 406C593.3 446.4 774.2 446.4 774.2 486.8H775.8C775.8 446.4 594.9 446.4 594.9 406Z"/><path d="M595.3 406C595.3 446.4 777.4 446.4 777.4 486.8H778.8C778.8 446.4 596.7 446.4 596.7 406Z"/><path d="M598.4 406C598.4 446.4 779.9 446.4 779.9 486.8H781.1C781.1 446.4 599.5 446.4 599.5 406Z"/><path d="M601.5 406C601.5 446.4 780.4 446.4 780.4 486.8H781.2C781.2 446.4 602.3 446.4 602.3 406Z"/><path d="M605 406C605 446.4 784.4 446.4 784.4 486.8H786.2C786.2 446.4 606.8 446.4 606.8 406Z"/></g><g stroke-width="0.18"><path d="M644.9 406C644.9 446.4 560.6 446.4 560.6 486.8H561.8C561.8 446.4 646.1 446.4 646.1 406Z"/><path d="M646.2 406C646.2 446.4 560.5 446.4 560.5 486.8H561.9C561.9 446.4 647.6 446.4 647.6 406Z"/><path d="M648.3 406C648.3 446.4 565.5 446.4 565.5 486.8H566.6C566.6 446.4 649.4 446.4 649.4 406Z"/><path d="M650.8 406C650.8 446.4 568.4 446.4 568.4 486.8H569.8C569.8 446.4 652.3 446.4 652.3 406Z"/><path d="M652.4 406C652.4 446.4 569.5 446.4 569.5 486.8H571C571 446.4 653.9 446.4 653.9 406Z"/><path d="M654.5 406C654.5 446.4 574.1 446.4 574.1 486.8H575.8C575.8 446.4 656.3 446.4 656.3 406Z"/></g><g stroke-width="0.18"><path d="M676 406C676 446.4 610.4 446.4 610.4 486.8H611.7C611.7 446.4 677.3 446.4 677.3 406Z"/><path d="M677.9 406C677.9 446.4 612.4 446.4 612.4 486.8H613.4C613.4 446.4 678.9 446.4 678.9 406Z"/><path d="M679.3 406C679.3 446.4 614.4 446.4 614.4 486.8H615.7C615.7 446.4 680.6 446.4 680.6 406Z"/><path d="M681.2 406C681.2 446.4 618.4 446.4 618.4 486.8H619.9C619.9 446.4 682.8 446.4 682.8 406Z"/><path d="M683.1 406C683.1 446.4 618.8 446.4 618.8 486.8H620.3C620.3 446.4 684.6 446.4 684.6 406Z"/><path d="M684.7 406C684.7 446.4 623.7 446.4 623.7 486.8H624.5C624.5 446.4 685.5 446.4 685.5 406Z"/></g><g stroke-width="0.18"><path d="M705.1 406C705.1 446.4 563.2 446.4 563.2 486.8H564.6C564.6 446.4 706.5 446.4 706.5 406Z"/><path d="M707.8 406C707.8 446.4 566.8 446.4 566.8 486.8H568.1C568.1 446.4 709.1 446.4 709.1 406Z"/><path d="M711.3 406C711.3 446.4 573.1 446.4 573.1 486.8H574.7C574.7 446.4 712.9 446.4 712.9 406Z"/><path d="M712.8 406C712.8 446.4 576.3 446.4 576.3 486.8H577.7C577.7 446.4 714.2 446.4 714.2 406Z"/></g><g stroke-width="0.18"><path d="M745.2 406C745.2 446.4 649.8 446.4 649.8 486.8H651.2C651.2 446.4 746.6 446.4 746.6 406Z"/><path d="M748.2 406C748.2 446.4 652.2 446.4 652.2 486.8H653.1C653.1 446.4 749.1 446.4 749.1 406Z"/><path d="M750.9 406C750.9 446.4 656.4 446.4 656.4 486.8H657.9C657.9 446.4 752.4 446.4 752.4 406Z"/><path d="M754.7 406C754.7 446.4 659.2 446.4 659.2 486.8H660.1C660.1 446.4 755.6 446.4 755.6 406Z"/></g><g stroke-width="0.18"><path d="M189.4 406C189.4 446.4 449.3 446.4 449.3 486.8H450.7C450.7 446.4 190.8 446.4 190.8 406Z"/><path d="M192.3 406C192.3 446.4 452.1 446.4 452.1 486.8H453.6C453.6 446.4 193.8 446.4 193.8 406Z"/><path d="M194.5 406C194.5 446.4 455.3 446.4 455.3 486.8H456.3C456.3 446.4 195.4 446.4 195.4 406Z"/><path d="M197.6 406C197.6 446.4 457.9 446.4 457.9 486.8H459.1C459.1 446.4 198.8 446.4 198.8 406Z"/><path d="M201.8 406C201.8 446.4 461.6 446.4 461.6 486.8H463.2C463.2 446.4 203.4 446.4 203.4 406Z"/><path d="M205.3 406C205.3 446.4 464.1 446.4 464.1 486.8H465C465 446.4 206.1 446.4 206.1 406Z"/></g><g stroke-width="0.18"><path d="M252.6 406C252.6 446.4 495.9 446.4 495.9 486.8H497.3C497.3 446.4 254 446.4 254 406Z"/><path d="M255.7 406C255.7 446.4 499.9 446.4 499.9 486.8H501.3C501.3 446.4 257.1 446.4 257.1 406Z"/><path d="M259 406C259 446.4 504.4 446.4 504.4 486.8H506.1C506.1 446.4 260.7 446.4 260.7 406Z"/><path d="M262.8 406C262.8 446.4 508.3 446.4 508.3 486.8H509.6C509.6 446.4 264.2 446.4 264.2 406Z"/><path d="M264.9 406C264.9 446.4 510.5 446.4 510.5 486.8H511.9C511.9 446.4 266.3 446.4 266.3 406Z"/><path d="M268.4 406C268.4 446.4 513.6 446.4 513.6 486.8H515.1C515.1 446.4 269.9 446.4 269.9 406Z"/></g><g stroke-width="0.18"><path d="M284.5 406C284.5 446.4 555.2 446.4 555.2 486.8H556.2C556.2 446.4 285.5 446.4 285.5 406Z"/><path d="M287.3 406C287.3 446.4 558.3 446.4 558.3 486.8H559.8C559.8 446.4 288.9 446.4 288.9 406Z"/><path d="M289.5 406C289.5 446.4 560.5 446.4 560.5 486.8H561.8C561.8 446.4 290.8 446.4 290.8 406Z"/><path d="M291.3 406C291.3 446.4 565.1 446.4 565.1 486.8H566.2C566.2 446.4 292.4 446.4 292.4 406Z"/><path d="M295.7 406C295.7 446.4 569.9 446.4 569.9 486.8H570.8C570.8 446.4 296.6 446.4 296.6 406Z"/><path d="M297.7 406C297.7 446.4 569.3 446.4 569.3 486.8H570.7C570.7 446.4 299.1 446.4 299.1 406Z"/></g><g stroke-width="0.18"><path d="M327.6 406C327.6 446.4 590.3 446.4 590.3 486.8H591.4C591.4 446.4 328.6 446.4 328.6 406Z"/><path d="M331.5 406C331.5 446.4 592 446.4 592 486.8H593.3C593.3 446.4 332.8 446.4 332.8 406Z"/><path d="M335.2 406C335.2 446.4 596.4 446.4 596.4 486.8H597.5C597.5 446.4 336.3 446.4 336.3 406Z"/><path d="M338.8 406C338.8 446.4 598.9 446.4 598.9 486.8H600C600 446.4 339.9 446.4 339.9 406Z"/><path d="M341.7 406C341.7 446.4 601 446.4 601 486.8H602.1C602.1 446.4 342.8 446.4 342.8 406Z"/><path d="M346.7 406C346.7 446.4 604.8 446.4 604.8 486.8H606C606 446.4 347.8 446.4 347.8 406Z"/></g><g stroke-width="0.18"><path d="M388.3 406C388.3 446.4 635.4 446.4 635.4 486.8H636.6C636.6 446.4 389.4 446.4 389.4 406Z"/><path d="M389.8 406C389.8 446.4 636.2 446.4 636.2 486.8H637.7C637.7 446.4 391.4 446.4 391.4 406Z"/><path d="M392.3 406C392.3 446.4 639.2 446.4 639.2 486.8H640.5C640.5 446.4 393.7 446.4 393.7 406Z"/><path d="M395.5 406C395.5 446.4 641.8 446.4 641.8 486.8H642.9C642.9 446.4 396.7 446.4 396.7 406Z"/><path d="M397.6 406C397.6 446.4 644.4 446.4 644.4 486.8H646C646 446.4 399.2 446.4 399.2 406Z"/><path d="M400.8 406C400.8 446.4 645.6 446.4 645.6 486.8H647.2C647.2 446.4 402.4 446.4 402.4 406Z"/></g><g stroke-width="0.18"><path d="M427.3 406C427.3 446.4 677.2 446.4 677.2 486.8H678.5C678.5 446.4 428.6 446.4 428.6 406Z"/><path d="M429.1 406C429.1 446.4 679.9 446.4 679.9 486.8H680.8C680.8 446.4 430.1 446.4 430.1 406Z"/><path d="M432.1 406C432.1 446.4 683.7 446.4 683.7 486.8H685.2C685.2 446.4 433.6 446.4 433.6 406Z"/><path d="M435.3 406C435.3 446.4 685.4 446.4 685.4 486.8H687C687 446.4 436.9 446.4 436.9 406Z"/></g><g stroke-width="0.18"><path d="M463.2 406C463.2 446.4 713.9 446.4 713.9 486.8H714.8C714.8 446.4 464 446.4 464 406Z"/><path d="M464.8 406C464.8 446.4 715.9 446.4 715.9 486.8H717C717 446.4 465.9 446.4 465.9 406Z"/><path d="M466.7 406C466.7 446.4 717.9 446.4 717.9 486.8H719.1C719.1 446.4 467.9 446.4 467.9 406Z"/><path d="M469.7 406C469.7 446.4 721.9 446.4 721.9 486.8H723.5C723.5 446.4 471.3 446.4 471.3 406Z"/><path d="M471.4 406C471.4 446.4 722 446.4 722 486.8H723.4C723.4 446.4 472.8 446.4 472.8 406Z"/><path d="M473.3 406C473.3 446.4 725.3 446.4 725.3 486.8H726.6C726.6 446.4 474.6 446.4 474.6 406Z"/></g><g stroke-width="0.18"><path d="M500.8 406C500.8 446.4 715.8 446.4 715.8 486.8H716.7C716.7 446.4 501.7 446.4 501.7 406Z"/><path d="M503 406C503 446.4 718.3 446.4 718.3 486.8H719.7C719.7 446.4 504.4 446.4 504.4 406Z"/><path d="M504.4 406C504.4 446.4 718.4 446.4 718.4 486.8H719.5C719.5 446.4 505.5 446.4 505.5 406Z"/><path d="M507.2 406C507.2 446.4 721.3 446.4 721.3 486.8H722.9C722.9 446.4 508.8 446.4 508.8 406Z"/><path d="M508.6 406C508.6 446.4 724.6 446.4 724.6 486.8H725.6C725.6 446.4 509.6 446.4 509.6 406Z"/><path d="M511 406C511 446.4 724.3 446.4 724.3 486.8H725.2C725.2 446.4 511.9 446.4 511.9 406Z"/><path d="M513.3 406C513.3 446.4 727.1 446.4 727.1 486.8H728.4C728.4 446.4 514.5 446.4 514.5 406Z"/><path d="M515 406C515 446.4 728.5 446.4 728.5 486.8H729.6C729.6 446.4 516.1 446.4 516.1 406Z"/></g><g stroke-width="0.18"><path d="M558.5 406C558.5 446.4 758.8 446.4 758.8 486.8H760.1C760.1 446.4 559.8 446.4 559.8 406Z"/><path d="M560.7 406C560.7 446.4 761.4 446.4 761.4 486.8H762.3C762.3 446.4 561.6 446.4 561.6 406Z"/><path d="M563 406C563 446.4 760.8 446.4 760.8 486.8H762C762 446.4 564.2 446.4 564.2 406Z"/><path d="M566.6 406C566.6 446.4 765 446.4 765 486.8H766C766 446.4 567.6 446.4 567.6 406Z"/><path d="M569 406C569 446.4 766.7 446.4 766.7 486.8H767.5C767.5 446.4 569.8 446.4 569.8 406Z"/><path d="M571.2 406C571.2 446.4 768.9 446.4 768.9 486.8H770.2C770.2 446.4 572.5 446.4 572.5 406Z"/></g><g stroke-width="0.18"><path d="M498.5 406C498.5 446.4 769.1 446.4 769.1 486.8H770.2C770.2 446.4 499.6 446.4 499.6 406Z"/><path d="M502.3 406C502.3 446.4 773 446.4 773 486.8H773.8C773.8 446.4 503.1 446.4 503.1 406Z"/><path d="M505.6 406C505.6 446.4 774.8 446.4 774.8 486.8H776.1C776.1 446.4 506.9 446.4 506.9 406Z"/><path d="M510 406C510 446.4 779.3 446.4 779.3 486.8H780.3C780.3 446.4 511 446.4 511 406Z"/></g><g stroke-width="0.18"><path d="M606 406C606 446.4 390.9 446.4 390.9 486.8H391.8C391.8 446.4 606.9 446.4 606.9 406Z"/><path d="M609.1 406C609.1 446.4 397.5 446.4 397.5 486.8H398.7C398.7 446.4 610.3 446.4 610.3 406Z"/><path d="M612.6 406C612.6 446.4 401.7 446.4 401.7 486.8H403.4C403.4 446.4 614.3 446.4 614.3 406Z"/><path d="M616.4 406C616.4 446.4 402.8 446.4 402.8 486.8H403.9C403.9 446.4 617.5 446.4 617.5 406Z"/><path d="M619 406C619 446.4 405.7 446.4 405.7 486.8H406.8C406.8 446.4 620.1 446.4 620.1 406Z"/><path d="M621.6 406C621.6 446.4 408.4 446.4 408.4 486.8H409.9C409.9 446.4 623.1 446.4 623.1 406Z"/></g><g stroke-width="0.18"><path d="M644 406C644 446.4 448.8 446.4 448.8 486.8H450.2C450.2 446.4 645.4 446.4 645.4 406Z"/><path d="M645.5 406C645.5 446.4 451.8 446.4 451.8 486.8H453.1C453.1 446.4 646.7 446.4 646.7 406Z"/><path d="M648 406C648 446.4 455.9 446.4 455.9 486.8H457.4C457.4 446.4 649.5 446.4 649.5 406Z"/><path d="M650.1 406C650.1 446.4 455.5 446.4 455.5 486.8H456.7C456.7 446.4 651.3 446.4 651.3 406Z"/><path d="M652.3 406C652.3 446.4 460 446.4 460 486.8H460.9C460.9 446.4 653.2 446.4 653.2 406Z"/><path d="M654.5 406C654.5 446.4 462.9 446.4 462.9 486.8H464.4C464.4 446.4 656 446.4 656 406Z"/></g><g stroke-width="0.18"><path d="M678.1 406C678.1 446.4 495.3 446.4 495.3 486.8H496.2C496.2 446.4 679 446.4 679 406Z"/><path d="M679.3 406C679.3 446.4 495.9 446.4 495.9 486.8H497.1C497.1 446.4 680.5 446.4 680.5 406Z"/><path d="M681.7 406C681.7 446.4 503.6 446.4 503.6 486.8H505C505 446.4 683.1 446.4 683.1 406Z"/><path d="M682.6 406C682.6 446.4 502.6 446.4 502.6 486.8H503.6C503.6 446.4 683.6 446.4 683.6 406Z"/><path d="M684.6 406C684.6 446.4 507.7 446.4 507.7 486.8H508.5C508.5 446.4 685.4 446.4 685.4 406Z"/><path d="M686.4 406C686.4 446.4 510.2 446.4 510.2 486.8H511.6C511.6 446.4 687.8 446.4 687.8 406Z"/></g><g stroke-width="0.18"><path d="M714.1 406C714.1 446.4 547.9 446.4 547.9 486.8H549.1C549.1 446.4 715.3 446.4 715.3 406Z"/><path d="M715.9 406C715.9 446.4 550.1 446.4 550.1 486.8H551.4C551.4 446.4 717.1 446.4 717.1 406Z"/><path d="M717.5 406C717.5 446.4 553.3 446.4 553.3 486.8H554.3C554.3 446.4 718.5 446.4 718.5 406Z"/><path d="M719.5 406C719.5 446.4 557.4 446.4 557.4 486.8H558.3C558.3 446.4 720.5 446.4 720.5 406Z"/><path d="M720.7 406C720.7 446.4 560 446.4 560 486.8H561.1C561.1 446.4 721.9 446.4 721.9 406Z"/><path d="M722.5 406C722.5 446.4 562.3 446.4 562.3 486.8H563.3C563.3 446.4 723.5 446.4 723.5 406Z"/></g><g stroke-width="0.18"><path d="M741.5 406C741.5 446.4 600.7 446.4 600.7 486.8H601.8C601.8 446.4 742.6 446.4 742.6 406Z"/><path d="M744.3 406C744.3 446.4 605.9 446.4 605.9 486.8H606.8C606.8 446.4 745.2 446.4 745.2 406Z"/><path d="M745.8 406C745.8 446.4 606.2 446.4 606.2 486.8H607.1C607.1 446.4 746.7 446.4 746.7 406Z"/><path d="M747.8 406C747.8 446.4 611 446.4 611 486.8H612.5C612.5 446.4 749.4 446.4 749.4 406Z"/><path d="M749.4 406C749.4 446.4 613.5 446.4 613.5 486.8H614.8C614.8 446.4 750.7 446.4 750.7 406Z"/><path d="M751.3 406C751.3 446.4 615.2 446.4 615.2 486.8H616.7C616.7 446.4 752.8 446.4 752.8 406Z"/></g><g stroke-width="0.18"><path d="M777.8 406C777.8 446.4 638.4 446.4 638.4 486.8H639.8C639.8 446.4 779.2 446.4 779.2 406Z"/><path d="M779.5 406C779.5 446.4 641.7 446.4 641.7 486.8H643.2C643.2 446.4 781 446.4 781 406Z"/><path d="M781.3 406C781.3 446.4 643.5 446.4 643.5 486.8H644.9C644.9 446.4 782.7 446.4 782.7 406Z"/><path d="M782.4 406C782.4 446.4 645.7 446.4 645.7 486.8H646.7C646.7 446.4 783.3 446.4 783.3 406Z"/><path d="M784.5 406C784.5 446.4 648.4 446.4 648.4 486.8H649.5C649.5 446.4 785.6 446.4 785.6 406Z"/><path d="M785.4 406C785.4 446.4 649.6 446.4 649.6 486.8H650.8C650.8 446.4 786.6 446.4 786.6 406Z"/></g><g stroke-width="0.18"><path d="M681.1 406C681.1 446.4 441.4 446.4 441.4 486.8H442.6C442.6 446.4 682.3 446.4 682.3 406Z"/><path d="M683.5 406C683.5 446.4 446.3 446.4 446.3 486.8H447.5C447.5 446.4 684.7 446.4 684.7 406Z"/><path d="M685.4 406C685.4 446.4 449.1 446.4 449.1 486.8H450C450 446.4 686.3 446.4 686.3 406Z"/><path d="M688 406C688 446.4 454.9 446.4 454.9 486.8H455.8C455.8 446.4 688.9 446.4 688.9 406Z"/></g><g stroke-width="0.18"><path d="M703.9 406C703.9 446.4 407.2 446.4 407.2 486.8H408.5C408.5 446.4 705.2 446.4 705.2 406Z"/><path d="M707.1 406C707.1 446.4 412.4 446.4 412.4 486.8H413.9C413.9 446.4 708.5 446.4 708.5 406Z"/><path d="M708.5 406C708.5 446.4 417.4 446.4 417.4 486.8H418.5C418.5 446.4 709.6 446.4 709.6 406Z"/><path d="M712.1 406C712.1 446.4 422.2 446.4 422.2 486.8H423.7C423.7 446.4 713.6 446.4 713.6 406Z"/></g><g stroke-width="0.18"><path d="M640.4 406C640.4 446.4 340.8 446.4 340.8 486.8H342.3C342.3 446.4 641.9 446.4 641.9 406Z"/><path d="M643.3 406C643.3 446.4 346.4 446.4 346.4 486.8H348C348 446.4 645 446.4 645 406Z"/><path d="M646.5 406C646.5 446.4 350 446.4 350 486.8H351.7C351.7 446.4 648.1 446.4 648.1 406Z"/><path d="M651 406C651 446.4 358.9 446.4 358.9 486.8H360.4C360.4 446.4 652.5 446.4 652.5 406Z"/></g><g stroke-width="0.18"><path d="M560.5 406C560.5 446.4 328.3 446.4 328.3 486.8H329.8C329.8 446.4 562 446.4 562 406Z"/><path d="M563.6 406C563.6 446.4 334.5 446.4 334.5 486.8H335.4C335.4 446.4 564.5 446.4 564.5 406Z"/><path d="M567.6 406C567.6 446.4 342.7 446.4 342.7 486.8H343.7C343.7 446.4 568.7 446.4 568.7 406Z"/><path d="M570 406C570 446.4 343.6 446.4 343.6 486.8H344.6C344.6 446.4 571 446.4 571 406Z"/></g><g stroke-width="0.18"><path d="M610.7 406C610.7 446.4 282.7 446.4 282.7 486.8H283.6C283.6 446.4 611.6 446.4 611.6 406Z"/><path d="M614 406C614 446.4 287.8 446.4 287.8 486.8H289.3C289.3 446.4 615.5 446.4 615.5 406Z"/><path d="M620.3 406C620.3 446.4 295.3 446.4 295.3 486.8H296.7C296.7 446.4 621.8 446.4 621.8 406Z"/><path d="M624.4 406C624.4 446.4 300.9 446.4 300.9 486.8H302.1C302.1 446.4 625.6 446.4 625.6 406Z"/></g><g stroke-width="0.18"><path d="M551.3 406C551.3 446.4 549 446.4 549 486.8H549.8C549.8 446.4 552.2 446.4 552.2 406Z"/><path d="M552.7 406C552.7 446.4 551.7 446.4 551.7 486.8H552.7C552.7 446.4 553.7 446.4 553.7 406Z"/><path d="M553.9 406C553.9 446.4 551.2 446.4 551.2 486.8H552.2C552.2 446.4 554.9 446.4 554.9 406Z"/><path d="M555.2 406C555.2 446.4 554.7 446.4 554.7 486.8H556.3C556.3 446.4 556.8 446.4 556.8 406Z"/><path d="M556.1 406C556.1 446.4 554.4 446.4 554.4 486.8H555.3C555.3 446.4 557 446.4 557 406Z"/><path d="M557.9 406C557.9 446.4 558 446.4 558 486.8H559.4C559.4 446.4 559.2 446.4 559.2 406Z"/><path d="M559 406C559 446.4 556.9 446.4 556.9 486.8H558.4C558.4 446.4 560.5 446.4 560.5 406Z"/><path d="M559.8 406C559.8 446.4 560.3 446.4 560.3 486.8H561.4C561.4 446.4 561 446.4 561 406Z"/><path d="M561.3 406C561.3 446.4 560.8 446.4 560.8 486.8H561.8C561.8 446.4 562.3 446.4 562.3 406Z"/><path d="M562.1 406C562.1 446.4 563.4 446.4 563.4 486.8H564.6C564.6 446.4 563.3 446.4 563.3 406Z"/><path d="M563.3 406C563.3 446.4 563.3 446.4 563.3 486.8H564.6C564.6 446.4 564.5 446.4 564.5 406Z"/><path d="M564.6 406C564.6 446.4 565.8 446.4 565.8 486.8H567.3C567.3 446.4 566.1 446.4 566.1 406Z"/><path d="M566 406C566 446.4 568.3 446.4 568.3 486.8H569.3C569.3 446.4 567 446.4 567 406Z"/><path d="M567.3 406C567.3 446.4 570.4 446.4 570.4 486.8H571.6C571.6 446.4 568.5 446.4 568.5 406Z"/></g><g stroke-width="0.18"><path d="M635.9 406C635.9 446.4 635.6 446.4 635.6 486.8H637C637 446.4 637.3 446.4 637.3 406Z"/><path d="M637.7 406C637.7 446.4 639.7 446.4 639.7 486.8H640.9C640.9 446.4 638.9 446.4 638.9 406Z"/><path d="M638.6 406C638.6 446.4 638.8 446.4 638.8 486.8H640.1C640.1 446.4 639.9 446.4 639.9 406Z"/><path d="M640.1 406C640.1 446.4 640.8 446.4 640.8 486.8H642.1C642.1 446.4 641.4 446.4 641.4 406Z"/><path d="M641.1 406C641.1 446.4 643.5 446.4 643.5 486.8H644.6C644.6 446.4 642.2 446.4 642.2 406Z"/><path d="M641.9 406C641.9 446.4 644.6 446.4 644.6 486.8H646.1C646.1 446.4 643.4 446.4 643.4 406Z"/><path d="M643.5 406C643.5 446.4 645.4 446.4 645.4 486.8H646.8C646.8 446.4 644.9 446.4 644.9 406Z"/><path d="M644.6 406C644.6 446.4 646.6 446.4 646.6 486.8H648C648 446.4 646 446.4 646 406Z"/><path d="M645.4 406C645.4 446.4 647.1 446.4 647.1 486.8H647.9C647.9 446.4 646.2 446.4 646.2 406Z"/><path d="M646.8 406C646.8 446.4 650.5 446.4 650.5 486.8H651.3C651.3 446.4 647.7 446.4 647.7 406Z"/><path d="M647.5 406C647.5 446.4 649.9 446.4 649.9 486.8H650.8C650.8 446.4 648.5 446.4 648.5 406Z"/><path d="M649.2 406C649.2 446.4 651.4 446.4 651.4 486.8H652.6C652.6 446.4 650.4 446.4 650.4 406Z"/></g><g stroke-width="0.18"><path d="M591.5 406C591.5 446.4 594.5 446.4 594.5 486.8H595.8C595.8 446.4 592.8 446.4 592.8 406Z"/><path d="M592.9 406C592.9 446.4 596.7 446.4 596.7 486.8H597.8C597.8 446.4 594.1 446.4 594.1 406Z"/><path d="M594.5 406C594.5 446.4 597.5 446.4 597.5 486.8H598.8C598.8 446.4 595.8 446.4 595.8 406Z"/><path d="M596.3 406C596.3 446.4 600.6 446.4 600.6 486.8H601.7C601.7 446.4 597.4 446.4 597.4 406Z"/><path d="M597.8 406C597.8 446.4 601.6 446.4 601.6 486.8H602.3C602.3 446.4 598.5 446.4 598.5 406Z"/><path d="M599.3 406C599.3 446.4 605 446.4 605 486.8H605.8C605.8 446.4 600.1 446.4 600.1 406Z"/><path d="M601.3 406C601.3 446.4 605.7 446.4 605.7 486.8H607.1C607.1 446.4 602.7 446.4 602.7 406Z"/><path d="M602.6 406C602.6 446.4 607 446.4 607 486.8H607.9C607.9 446.4 603.5 446.4 603.5 406Z"/></g><path d="M228.8 406C228.8 446.4 181.1 446.4 181.1 486.8H243.8C243.8 446.4 268.7 446.4 268.7 406Z"/><path d="M326.3 406C326.3 446.4 253.3 446.4 253.3 486.8H306.5C306.5 446.4 368.3 446.4 368.3 406Z"/><path d="M379.5 406C379.5 446.4 321.7 446.4 321.7 486.8H370.1C370.1 446.4 414.1 446.4 414.1 406Z"/><path d="M423 406C423 446.4 382 446.4 382 486.8H406.8C406.8 446.4 446.2 446.4 446.2 406Z"/><path d="M455.1 406C455.1 446.4 404.5 446.4 404.5 486.8H427C427 446.4 471.8 446.4 471.8 406Z"/><path d="M496 406C496 446.4 440.1 446.4 440.1 486.8H464.5C464.5 446.4 515.2 446.4 515.2 406Z"/><path d="M515.2 406C515.2 446.4 494.3 446.4 494.3 486.8H511C511 446.4 526.8 446.4 526.8 406Z"/><g stroke-width="0.18"><path d="M202.3 406C202.3 446.4 287.4 446.4 287.4 486.8H288.3C288.3 446.4 203.1 446.4 203.1 406Z"/><path d="M205.2 406C205.2 446.4 292 446.4 292 486.8H293.1C293.1 446.4 206.2 446.4 206.2 406Z"/><path d="M207.2 406C207.2 446.4 294.6 446.4 294.6 486.8H295.8C295.8 446.4 208.4 446.4 208.4 406Z"/><path d="M210.7 406C210.7 446.4 295.9 446.4 295.9 486.8H296.6C296.6 446.4 211.3 446.4 211.3 406Z"/><path d="M213.8 406C213.8 446.4 301.4 446.4 301.4 486.8H302.5C302.5 446.4 214.9 446.4 214.9 406Z"/></g><g stroke-width="0.18"><path d="M195.1 406C195.1 446.4 341.5 446.4 341.5 486.8H342.5C342.5 446.4 196.1 446.4 196.1 406Z"/><path d="M200.5 406C200.5 446.4 350.3 446.4 350.3 486.8H350.9C350.9 446.4 201.1 446.4 201.1 406Z"/><path d="M203.2 406C203.2 446.4 354.3 446.4 354.3 486.8H354.9C354.9 446.4 203.8 446.4 203.8 406Z"/><path d="M206 406C206 446.4 354.8 446.4 354.8 486.8H355.8C355.8 446.4 207 446.4 207 406Z"/></g><g stroke-width="0.18"><path d="M286.8 406C286.8 446.4 404.3 446.4 404.3 486.8H404.8C404.8 446.4 287.3 446.4 287.3 406Z"/><path d="M289.2 406C289.2 446.4 407.1 446.4 407.1 486.8H408.1C408.1 446.4 290.2 446.4 290.2 406Z"/><path d="M292.2 406C292.2 446.4 410.7 446.4 410.7 486.8H411.6C411.6 446.4 293.1 446.4 293.1 406Z"/><path d="M294.8 406C294.8 446.4 413 446.4 413 486.8H413.5C413.5 446.4 295.4 446.4 295.4 406Z"/><path d="M296.5 406C296.5 446.4 416.2 446.4 416.2 486.8H417C417 446.4 297.3 446.4 297.3 406Z"/></g><g stroke-width="0.18"><path d="M290.3 406C290.3 446.4 460.3 446.4 460.3 486.8H461.2C461.2 446.4 291.1 446.4 291.1 406Z"/><path d="M293.3 406C293.3 446.4 461.5 446.4 461.5 486.8H462.1C462.1 446.4 293.9 446.4 293.9 406Z"/><path d="M295.9 406C295.9 446.4 465.6 446.4 465.6 486.8H466.5C466.5 446.4 296.8 446.4 296.8 406Z"/><path d="M299 406C299 446.4 469.3 446.4 469.3 486.8H469.8C469.8 446.4 299.6 446.4 299.6 406Z"/></g><g stroke-width="0.18"><path d="M503.2 406C503.2 446.4 488 446.4 488 486.8H489.1C489.1 446.4 504.3 446.4 504.3 406Z"/><path d="M507.4 406C507.4 446.4 494.5 446.4 494.5 486.8H495.3C495.3 446.4 508.2 446.4 508.2 406Z"/><path d="M511.8 406C511.8 446.4 499.3 446.4 499.3 486.8H500C500 446.4 512.5 446.4 512.5 406Z"/></g><g stroke-width="0.18"><path d="M599.1 406C599.1 446.4 556.9 446.4 556.9 486.8H557.5C557.5 446.4 599.6 446.4 599.6 406Z"/><path d="M602.4 406C602.4 446.4 560.7 446.4 560.7 486.8H561.8C561.8 446.4 603.5 446.4 603.5 406Z"/><path d="M607 406C607 446.4 562.8 446.4 562.8 486.8H563.5C563.5 446.4 607.7 446.4 607.7 406Z"/></g><g stroke-width="0.18"><path d="M681.6 406C681.6 446.4 676 446.4 676 486.8H677C677 446.4 682.6 446.4 682.6 406Z"/><path d="M683.4 406C683.4 446.4 678.2 446.4 678.2 486.8H679.1C679.1 446.4 684.2 446.4 684.2 406Z"/><path d="M685.3 406C685.3 446.4 680.8 446.4 680.8 486.8H681.6C681.6 446.4 686.2 446.4 686.2 406Z"/><path d="M687.3 406C687.3 446.4 684.8 446.4 684.8 486.8H685.5C685.5 446.4 688 446.4 688 406Z"/></g><g stroke-width="0.18"><path d="M705.2 406C705.2 446.4 722.9 446.4 722.9 486.8H724C724 446.4 706.3 446.4 706.3 406Z"/><path d="M706.7 406C706.7 446.4 725.3 446.4 725.3 486.8H726.1C726.1 446.4 707.5 446.4 707.5 406Z"/><path d="M708.7 406C708.7 446.4 728.2 446.4 728.2 486.8H729C729 446.4 709.5 446.4 709.5 406Z"/><path d="M711 406C711 446.4 732.3 446.4 732.3 486.8H733.5C733.5 446.4 712.2 446.4 712.2 406Z"/></g><g stroke-width="0.18"><path d="M748.7 406C748.7 446.4 761.5 446.4 761.5 486.8H762.1C762.1 446.4 749.3 446.4 749.3 406Z"/><path d="M750.5 406C750.5 446.4 761.8 446.4 761.8 486.8H763C763 446.4 751.7 446.4 751.7 406Z"/><path d="M753.2 406C753.2 446.4 766.2 446.4 766.2 486.8H766.8C766.8 446.4 753.7 446.4 753.7 406Z"/><path d="M755.8 406C755.8 446.4 770.9 446.4 770.9 486.8H771.9C771.9 446.4 756.7 446.4 756.7 406Z"/></g><g stroke-width="0.18"><path d="M778.9 406C778.9 446.4 766.8 446.4 766.8 486.8H767.5C767.5 446.4 779.6 446.4 779.6 406Z"/><path d="M781.1 406C781.1 446.4 770.6 446.4 770.6 486.8H771.1C771.1 446.4 781.6 446.4 781.6 406Z"/><path d="M783.3 406C783.3 446.4 775.3 446.4 775.3 486.8H776.4C776.4 446.4 784.4 446.4 784.4 406Z"/></g><g stroke-width="0.18"><path d="M682.2 406C682.2 446.4 720 446.4 720 486.8H721C721 446.4 683.2 446.4 683.2 406Z"/><path d="M684.6 406C684.6 446.4 723.6 446.4 723.6 486.8H724.5C724.5 446.4 685.5 446.4 685.5 406Z"/><path d="M688.2 406C688.2 446.4 728.6 446.4 728.6 486.8H729.1C729.1 446.4 688.7 446.4 688.7 406Z"/></g><g stroke-width="0.18"><path d="M739.2 406C739.2 446.4 501 446.4 501 486.8H502.6C502.6 446.4 740.8 446.4 740.8 406Z"/><path d="M740.9 406C740.9 446.4 500.3 446.4 500.3 486.8H502C502 446.4 742.6 446.4 742.6 406Z"/><path d="M742.3 406C742.3 446.4 502.2 446.4 502.2 486.8H504.2C504.2 446.4 744.3 446.4 744.3 406Z"/><path d="M743.7 406C743.7 446.4 505.4 446.4 505.4 486.8H507.8C507.8 446.4 746 446.4 746 406Z"/><path d="M745.4 406C745.4 446.4 507.4 446.4 507.4 486.8H509.7C509.7 446.4 747.7 446.4 747.7 406Z"/><path d="M746.8 406C746.8 446.4 510.7 446.4 510.7 486.8H512.8C512.8 446.4 748.9 446.4 748.9 406Z"/><path d="M748.1 406C748.1 446.4 513.1 446.4 513.1 486.8H515.4C515.4 446.4 750.3 446.4 750.3 406Z"/><path d="M749.3 406C749.3 446.4 514.5 446.4 514.5 486.8H516.7C516.7 446.4 751.5 446.4 751.5 406Z"/><path d="M750.9 406C750.9 446.4 517.8 446.4 517.8 486.8H519.6C519.6 446.4 752.7 446.4 752.7 406Z"/><path d="M752.5 406C752.5 446.4 518.7 446.4 518.7 486.8H520.8C520.8 446.4 754.6 446.4 754.6 406Z"/></g><g stroke-width="0.18"><path d="M769.6 406C769.6 446.4 445.9 446.4 445.9 486.8H447.4C447.4 446.4 771.1 446.4 771.1 406Z"/><path d="M772 406C772 446.4 448.5 446.4 448.5 486.8H450.8C450.8 446.4 774.2 446.4 774.2 406Z"/><path d="M774.4 406C774.4 446.4 454.8 446.4 454.8 486.8H456.5C456.5 446.4 776.1 446.4 776.1 406Z"/><path d="M776.5 406C776.5 446.4 455.4 446.4 455.4 486.8H457.4C457.4 446.4 778.5 446.4 778.5 406Z"/><path d="M777.5 406C777.5 446.4 458.8 446.4 458.8 486.8H460.5C460.5 446.4 779.2 446.4 779.2 406Z"/><path d="M779.8 406C779.8 446.4 459.6 446.4 459.6 486.8H461.3C461.3 446.4 781.5 446.4 781.5 406Z"/><path d="M781.9 406C781.9 446.4 462.6 446.4 462.6 486.8H464.6C464.6 446.4 783.9 446.4 783.9 406Z"/><path d="M784 406C784 446.4 468 446.4 468 486.8H470.5C470.5 446.4 786.5 446.4 786.5 406Z"/></g><g stroke-width="0.18"><path d="M709.9 406C709.9 446.4 546.9 446.4 546.9 486.8H549.1C549.1 446.4 712.1 446.4 712.1 406Z"/><path d="M711.4 406C711.4 446.4 550.4 446.4 550.4 486.8H552.3C552.3 446.4 713.3 446.4 713.3 406Z"/><path d="M712.6 406C712.6 446.4 552.2 446.4 552.2 486.8H554.4C554.4 446.4 714.8 446.4 714.8 406Z"/><path d="M714.5 406C714.5 446.4 554.5 446.4 554.5 486.8H556C556 446.4 716 446.4 716 406Z"/><path d="M716.7 406C716.7 446.4 558.5 446.4 558.5 486.8H561.1C561.1 446.4 719.3 446.4 719.3 406Z"/><path d="M717.7 406C717.7 446.4 559.2 446.4 559.2 486.8H561.5C561.5 446.4 720.1 446.4 720.1 406Z"/><path d="M719.5 406C719.5 446.4 561.4 446.4 561.4 486.8H563C563 446.4 721.1 446.4 721.1 406Z"/><path d="M721.3 406C721.3 446.4 561.7 446.4 561.7 486.8H563.4C563.4 446.4 723.1 446.4 723.1 406Z"/></g><g stroke-width="0.18"><path d="M645.2 406C645.2 446.4 763.2 446.4 763.2 486.8H765.6C765.6 446.4 647.6 446.4 647.6 406Z"/><path d="M647 406C647 446.4 763.6 446.4 763.6 486.8H766C766 446.4 649.4 446.4 649.4 406Z"/><path d="M648.6 406C648.6 446.4 767.4 446.4 767.4 486.8H769.2C769.2 446.4 650.4 446.4 650.4 406Z"/><path d="M649.5 406C649.5 446.4 767.7 446.4 767.7 486.8H769.5C769.5 446.4 651.4 446.4 651.4 406Z"/><path d="M651.3 406C651.3 446.4 770.6 446.4 770.6 486.8H772.7C772.7 446.4 653.4 446.4 653.4 406Z"/><path d="M653 406C653 446.4 770.6 446.4 770.6 486.8H772.6C772.6 446.4 655 446.4 655 406Z"/><path d="M655.1 406C655.1 446.4 774.9 446.4 774.9 486.8H777.1C777.1 446.4 657.2 446.4 657.2 406Z"/><path d="M656.9 406C656.9 446.4 777.4 446.4 777.4 486.8H779.3C779.3 446.4 658.9 446.4 658.9 406Z"/><path d="M658.4 406C658.4 446.4 778.8 446.4 778.8 486.8H780.6C780.6 446.4 660.3 446.4 660.3 406Z"/><path d="M659.5 406C659.5 446.4 779 446.4 779 486.8H781.2C781.2 446.4 661.8 446.4 661.8 406Z"/></g><g stroke-width="0.18"><path d="M675.3 406C675.3 446.4 721.6 446.4 721.6 486.8H723.7C723.7 446.4 677.3 446.4 677.3 406Z"/><path d="M676.2 406C676.2 446.4 724.1 446.4 724.1 486.8H726C726 446.4 678.2 446.4 678.2 406Z"/><path d="M678.5 406C678.5 446.4 728.2 446.4 728.2 486.8H729.6C729.6 446.4 680 446.4 680 406Z"/><path d="M680.3 406C680.3 446.4 727.6 446.4 727.6 486.8H730.2C730.2 446.4 682.9 446.4 682.9 406Z"/><path d="M682 406C682 446.4 729.9 446.4 729.9 486.8H731.7C731.7 446.4 683.7 446.4 683.7 406Z"/><path d="M682.8 406C682.8 446.4 733.9 446.4 733.9 486.8H736.2C736.2 446.4 685.1 446.4 685.1 406Z"/><path d="M685.2 406C685.2 446.4 736.6 446.4 736.6 486.8H738.4C738.4 446.4 687 446.4 687 406Z"/><path d="M686.6 406C686.6 446.4 736.5 446.4 736.5 486.8H738.3C738.3 446.4 688.4 446.4 688.4 406Z"/><path d="M687.9 406C687.9 446.4 739.6 446.4 739.6 486.8H741.4C741.4 446.4 689.7 446.4 689.7 406Z"/><path d="M689.6 406C689.6 446.4 741.3 446.4 741.3 486.8H743.7C743.7 446.4 692 446.4 692 406Z"/></g><g stroke-width="0.18"><path d="M583 406C583 446.4 635.6 446.4 635.6 486.8H637.7C637.7 446.4 585.1 446.4 585.1 406Z"/><path d="M584.5 406C584.5 446.4 638.7 446.4 638.7 486.8H640.3C640.3 446.4 586 446.4 586 406Z"/><path d="M585.7 406C585.7 446.4 636.9 446.4 636.9 486.8H638.8C638.8 446.4 587.6 446.4 587.6 406Z"/><path d="M587.8 406C587.8 446.4 641.9 446.4 641.9 486.8H644C644 446.4 590 446.4 590 406Z"/><path d="M589.4 406C589.4 446.4 644.7 446.4 644.7 486.8H646.4C646.4 446.4 591.1 446.4 591.1 406Z"/><path d="M590.2 406C590.2 446.4 644.3 446.4 644.3 486.8H646C646 446.4 591.9 446.4 591.9 406Z"/><path d="M592.1 406C592.1 446.4 644.2 446.4 644.2 486.8H646.1C646.1 446.4 593.9 446.4 593.9 406Z"/><path d="M593.7 406C593.7 446.4 646.9 446.4 646.9 486.8H648.4C648.4 446.4 595.2 446.4 595.2 406Z"/><path d="M595.2 406C595.2 446.4 648.3 446.4 648.3 486.8H650.8C650.8 446.4 597.7 446.4 597.7 406Z"/><path d="M596.5 406C596.5 446.4 653.1 446.4 653.1 486.8H655.2C655.2 446.4 598.6 446.4 598.6 406Z"/><path d="M597.9 406C597.9 446.4 651.7 446.4 651.7 486.8H653.2C653.2 446.4 599.4 446.4 599.4 406Z"/><path d="M599.8 406C599.8 446.4 653.7 446.4 653.7 486.8H655.2C655.2 446.4 601.3 446.4 601.3 406Z"/><path d="M601.3 406C601.3 446.4 656.8 446.4 656.8 486.8H658.9C658.9 446.4 603.4 446.4 603.4 406Z"/><path d="M602.8 406C602.8 446.4 659.4 446.4 659.4 486.8H661.1C661.1 446.4 604.5 446.4 604.5 406Z"/></g><g stroke-width="0.18"><path d="M191.5 406C191.5 446.4 317.9 446.4 317.9 486.8H320.2C320.2 446.4 193.7 446.4 193.7 406Z"/><path d="M194.4 406C194.4 446.4 318.4 446.4 318.4 486.8H320.4C320.4 446.4 196.4 446.4 196.4 406Z"/><path d="M197 406C197 446.4 324.1 446.4 324.1 486.8H326.3C326.3 446.4 199.2 446.4 199.2 406Z"/><path d="M200.1 406C200.1 446.4 325.8 446.4 325.8 486.8H327.9C327.9 446.4 202.2 446.4 202.2 406Z"/><path d="M203 406C203 446.4 327.7 446.4 327.7 486.8H330.1C330.1 446.4 205.3 446.4 205.3 406Z"/><path d="M206.6 406C206.6 446.4 332.9 446.4 332.9 486.8H334.6C334.6 446.4 208.2 446.4 208.2 406Z"/><path d="M210.5 406C210.5 446.4 336.3 446.4 336.3 486.8H338.4C338.4 446.4 212.5 446.4 212.5 406Z"/><path d="M211.7 406C211.7 446.4 335.7 446.4 335.7 486.8H337.1C337.1 446.4 213.1 446.4 213.1 406Z"/><path d="M215.4 406C215.4 446.4 338.3 446.4 338.3 486.8H340C340 446.4 217.1 446.4 217.1 406Z"/><path d="M218.1 406C218.1 446.4 340.7 446.4 340.7 486.8H342.5C342.5 446.4 219.8 446.4 219.8 406Z"/></g><g stroke-width="0.18"><path d="M286.5 406C286.5 446.4 439.4 446.4 439.4 486.8H441.5C441.5 446.4 288.6 446.4 288.6 406Z"/><path d="M289.8 406C289.8 446.4 446.4 446.4 446.4 486.8H448.9C448.9 446.4 292.4 446.4 292.4 406Z"/><path d="M291.2 406C291.2 446.4 447.4 446.4 447.4 486.8H449.1C449.1 446.4 292.8 446.4 292.8 406Z"/><path d="M295.1 406C295.1 446.4 450.8 446.4 450.8 486.8H453C453 446.4 297.4 446.4 297.4 406Z"/><path d="M297.5 406C297.5 446.4 451.3 446.4 451.3 486.8H452.8C452.8 446.4 299 446.4 299 406Z"/><path d="M300.2 406C300.2 446.4 458.1 446.4 458.1 486.8H460C460 446.4 302.1 446.4 302.1 406Z"/><path d="M301.6 406C301.6 446.4 455.1 446.4 455.1 486.8H457.4C457.4 446.4 304 446.4 304 406Z"/><path d="M305.3 406C305.3 446.4 461.1 446.4 461.1 486.8H463.3C463.3 446.4 307.5 446.4 307.5 406Z"/><path d="M308.1 406C308.1 446.4 462 446.4 462 486.8H464.3C464.3 446.4 310.4 446.4 310.4 406Z"/><path d="M311.1 406C311.1 446.4 470.1 446.4 470.1 486.8H472.5C472.5 446.4 313.5 446.4 313.5 406Z"/></g><g stroke-width="0.18"><path d="M426.4 406C426.4 446.4 639.5 446.4 639.5 486.8H641C641 446.4 427.9 446.4 427.9 406Z"/><path d="M429.2 406C429.2 446.4 642.4 446.4 642.4 486.8H644.3C644.3 446.4 431.1 446.4 431.1 406Z"/><path d="M430.5 406C430.5 446.4 641.9 446.4 641.9 486.8H643.8C643.8 446.4 432.4 446.4 432.4 406Z"/><path d="M434 406C434 446.4 646.3 446.4 646.3 486.8H648.7C648.7 446.4 436.5 446.4 436.5 406Z"/><path d="M435.3 406C435.3 446.4 646.8 446.4 646.8 486.8H648.5C648.5 446.4 437 446.4 437 406Z"/><path d="M437.8 406C437.8 446.4 651 446.4 651 486.8H652.9C652.9 446.4 439.6 446.4 439.6 406Z"/><path d="M440.1 406C440.1 446.4 652.9 446.4 652.9 486.8H654.8C654.8 446.4 442.1 446.4 442.1 406Z"/><path d="M443.2 406C443.2 446.4 655.9 446.4 655.9 486.8H658.3C658.3 446.4 445.6 446.4 445.6 406Z"/></g><g stroke-width="0.18"><path d="M459.1 406C459.1 446.4 677.9 446.4 677.9 486.8H679.9C679.9 446.4 461.1 446.4 461.1 406Z"/><path d="M462.9 406C462.9 446.4 682.8 446.4 682.8 486.8H684.9C684.9 446.4 464.9 446.4 464.9 406Z"/><path d="M464.8 406C464.8 446.4 681.3 446.4 681.3 486.8H683.7C683.7 446.4 467.2 446.4 467.2 406Z"/><path d="M467.8 406C467.8 446.4 684.9 446.4 684.9 486.8H686.5C686.5 446.4 469.4 446.4 469.4 406Z"/><path d="M470.3 406C470.3 446.4 688 446.4 688 486.8H689.7C689.7 446.4 472.1 446.4 472.1 406Z"/><path d="M472.8 406C472.8 446.4 689.2 446.4 689.2 486.8H691.2C691.2 446.4 474.8 446.4 474.8 406Z"/><path d="M475.1 406C475.1 446.4 689.5 446.4 689.5 486.8H691.3C691.3 446.4 477 446.4 477 406Z"/><path d="M479.1 406C479.1 446.4 693.8 446.4 693.8 486.8H695.2C695.2 446.4 480.5 446.4 480.5 406Z"/></g><g stroke-width="0.18"><path d="M543.6 406C543.6 446.4 344.4 446.4 344.4 486.8H346.7C346.7 446.4 545.9 446.4 545.9 406Z"/><path d="M545.8 406C545.8 446.4 351.8 446.4 351.8 486.8H353.5C353.5 446.4 547.5 446.4 547.5 406Z"/><path d="M547.9 406C547.9 446.4 351.1 446.4 351.1 486.8H353.1C353.1 446.4 549.9 446.4 549.9 406Z"/><path d="M550.6 406C550.6 446.4 359.1 446.4 359.1 486.8H361.3C361.3 446.4 552.8 446.4 552.8 406Z"/><path d="M552.8 406C552.8 446.4 359.7 446.4 359.7 486.8H362.2C362.2 446.4 555.3 446.4 555.3 406Z"/><path d="M554.6 406C554.6 446.4 363.6 446.4 363.6 486.8H365.2C365.2 446.4 556.2 446.4 556.2 406Z"/></g><g stroke-width="0.18"><path d="M672.8 406C672.8 446.4 398.3 446.4 398.3 486.8H400C400 446.4 674.5 446.4 674.5 406Z"/><path d="M674 406C674 446.4 398.4 446.4 398.4 486.8H400.5C400.5 446.4 676.1 446.4 676.1 406Z"/><path d="M676 406C676 446.4 403.6 446.4 403.6 486.8H405.3C405.3 446.4 677.6 446.4 677.6 406Z"/><path d="M677.5 406C677.5 446.4 410.1 446.4 410.1 486.8H411.7C411.7 446.4 679.1 446.4 679.1 406Z"/><path d="M679.3 406C679.3 446.4 414.4 446.4 414.4 486.8H416.7C416.7 446.4 681.5 446.4 681.5 406Z"/><path d="M680.2 406C680.2 446.4 417.8 446.4 417.8 486.8H419.8C419.8 446.4 682.1 446.4 682.1 406Z"/></g><g stroke-width="0.18"><path d="M388.4 406C388.4 446.4 593.9 446.4 593.9 486.8H596.3C596.3 446.4 390.8 446.4 390.8 406Z"/><path d="M390.9 406C390.9 446.4 593 446.4 593 486.8H594.7C594.7 446.4 392.6 446.4 392.6 406Z"/><path d="M394.3 406C394.3 446.4 598.6 446.4 598.6 486.8H600.6C600.6 446.4 396.3 446.4 396.3 406Z"/><path d="M398.5 406C398.5 446.4 600.3 446.4 600.3 486.8H602.3C602.3 446.4 400.5 446.4 400.5 406Z"/><path d="M401.9 406C401.9 446.4 604.5 446.4 604.5 486.8H606.4C606.4 446.4 403.8 446.4 403.8 406Z"/><path d="M406.2 406C406.2 446.4 608.7 446.4 608.7 486.8H611.1C611.1 446.4 408.7 446.4 408.7 406Z"/></g><g stroke-width="0.18"><path d="M349.3 406C349.3 446.4 550.1 446.4 550.1 486.8H552C552 446.4 351.2 446.4 351.2 406Z"/><path d="M352.6 406C352.6 446.4 553.5 446.4 553.5 486.8H555.6C555.6 446.4 354.7 446.4 354.7 406Z"/><path d="M354.5 406C354.5 446.4 556.6 446.4 556.6 486.8H558.4C558.4 446.4 356.3 446.4 356.3 406Z"/><path d="M357.9 406C357.9 446.4 559.4 446.4 559.4 486.8H560.9C560.9 446.4 359.4 446.4 359.4 406Z"/><path d="M360.4 406C360.4 446.4 560.2 446.4 560.2 486.8H562.1C562.1 446.4 362.3 446.4 362.3 406Z"/><path d="M363.7 406C363.7 446.4 562.9 446.4 562.9 486.8H565.2C565.2 446.4 366 446.4 366 406Z"/></g><g stroke-width="0.18"><path d="M498.8 406C498.8 446.4 678.5 446.4 678.5 486.8H680.6C680.6 446.4 500.9 446.4 500.9 406Z"/><path d="M500.7 406C500.7 446.4 677.4 446.4 677.4 486.8H679.1C679.1 446.4 502.5 446.4 502.5 406Z"/><path d="M504.5 406C504.5 446.4 682.2 446.4 682.2 486.8H683.7C683.7 446.4 506 446.4 506 406Z"/><path d="M510.1 406C510.1 446.4 686 446.4 686 486.8H687.5C687.5 446.4 511.6 446.4 511.6 406Z"/><path d="M512.9 406C512.9 446.4 687.1 446.4 687.1 486.8H688.5C688.5 446.4 514.3 446.4 514.3 406Z"/><path d="M516 406C516 446.4 689.3 446.4 689.3 486.8H690.8C690.8 446.4 517.5 446.4 517.5 406Z"/><path d="M520.4 406C520.4 446.4 694.4 446.4 694.4 486.8H696.5C696.5 446.4 522.5 446.4 522.5 406Z"/><path d="M524.6 406C524.6 446.4 694.1 446.4 694.1 486.8H696.2C696.2 446.4 526.7 446.4 526.7 406Z"/></g><g stroke-width="0.18"><path d="M544 406C544 446.4 716.8 446.4 716.8 486.8H718.9C718.9 446.4 546.1 446.4 546.1 406Z"/><path d="M548.6 406C548.6 446.4 721.1 446.4 721.1 486.8H723C723 446.4 550.4 446.4 550.4 406Z"/><path d="M551.9 406C551.9 446.4 724.8 446.4 724.8 486.8H726.4C726.4 446.4 553.5 446.4 553.5 406Z"/><path d="M553.7 406C553.7 446.4 724.2 446.4 724.2 486.8H726.5C726.5 446.4 556 446.4 556 406Z"/><path d="M558.3 406C558.3 446.4 728.5 446.4 728.5 486.8H730.5C730.5 446.4 560.3 446.4 560.3 406Z"/><path d="M560.4 406C560.4 446.4 732.5 446.4 732.5 486.8H734.2C734.2 446.4 562.1 446.4 562.1 406Z"/><path d="M564.7 406C564.7 446.4 735 446.4 735 486.8H736.3C736.3 446.4 566 446.4 566 406Z"/><path d="M567.8 406C567.8 446.4 738 446.4 738 486.8H739.2C739.2 446.4 569 446.4 569 406Z"/></g><g stroke-width="0.18"><path d="M603.7 406C603.7 446.4 757.8 446.4 757.8 486.8H759.9C759.9 446.4 605.8 446.4 605.8 406Z"/><path d="M607.8 406C607.8 446.4 763.8 446.4 763.8 486.8H766C766 446.4 610 446.4 610 406Z"/><path d="M610 406C610 446.4 765.6 446.4 765.6 486.8H767.3C767.3 446.4 611.7 446.4 611.7 406Z"/><path d="M612.8 406C612.8 446.4 770.1 446.4 770.1 486.8H771.9C771.9 446.4 614.6 446.4 614.6 406Z"/><path d="M615.2 406C615.2 446.4 771.4 446.4 771.4 486.8H773.1C773.1 446.4 617 446.4 617 406Z"/><path d="M617.5 406C617.5 446.4 776.4 446.4 776.4 486.8H778.4C778.4 446.4 619.5 446.4 619.5 406Z"/><path d="M619.7 406C619.7 446.4 778.6 446.4 778.6 486.8H780.4C780.4 446.4 621.5 446.4 621.5 406Z"/><path d="M622.1 406C622.1 446.4 783.1 446.4 783.1 486.8H785.4C785.4 446.4 624.4 446.4 624.4 406Z"/></g><g stroke-width="0.18"><path d="M636.6 406C636.6 446.4 550.6 446.4 550.6 486.8H552.3C552.3 446.4 638.3 446.4 638.3 406Z"/><path d="M638.2 406C638.2 446.4 553.2 446.4 553.2 486.8H554.7C554.7 446.4 639.8 446.4 639.8 406Z"/><path d="M640.5 406C640.5 446.4 557 446.4 557 486.8H558.4C558.4 446.4 641.9 446.4 641.9 406Z"/><path d="M641.9 406C641.9 446.4 557.7 446.4 557.7 486.8H559.3C559.3 446.4 643.6 446.4 643.6 406Z"/><path d="M643.6 406C643.6 446.4 564.3 446.4 564.3 486.8H565.9C565.9 446.4 645.1 446.4 645.1 406Z"/><path d="M644.8 406C644.8 446.4 567 446.4 567 486.8H568.3C568.3 446.4 646 446.4 646 406Z"/><path d="M646.9 406C646.9 446.4 568.5 446.4 568.5 486.8H570.9C570.9 446.4 649.3 446.4 649.3 406Z"/><path d="M648.6 406C648.6 446.4 570 446.4 570 486.8H571.6C571.6 446.4 650.1 446.4 650.1 406Z"/></g><g stroke-width="0.18"><path d="M677.3 406C677.3 446.4 637.8 446.4 637.8 486.8H640.1C640.1 446.4 679.5 446.4 679.5 406Z"/><path d="M679.1 406C679.1 446.4 642.3 446.4 642.3 486.8H643.8C643.8 446.4 680.7 446.4 680.7 406Z"/><path d="M681 406C681 446.4 645.3 446.4 645.3 486.8H646.8C646.8 446.4 682.5 446.4 682.5 406Z"/><path d="M683.1 406C683.1 446.4 645.7 446.4 645.7 486.8H647.7C647.7 446.4 685.1 446.4 685.1 406Z"/><path d="M684.8 406C684.8 446.4 648.5 446.4 648.5 486.8H650.8C650.8 446.4 687.1 446.4 687.1 406Z"/><path d="M686 406C686 446.4 649.9 446.4 649.9 486.8H652.2C652.2 446.4 688.3 446.4 688.3 406Z"/><path d="M687.9 406C687.9 446.4 651 446.4 651 486.8H652.4C652.4 446.4 689.3 446.4 689.3 406Z"/><path d="M689.6 406C689.6 446.4 654.2 446.4 654.2 486.8H655.4C655.4 446.4 690.8 446.4 690.8 406Z"/></g><g stroke-width="0.18"><path d="M705.5 406C705.5 446.4 675.6 446.4 675.6 486.8H677.8C677.8 446.4 707.8 446.4 707.8 406Z"/><path d="M707.2 406C707.2 446.4 677 446.4 677 486.8H678.8C678.8 446.4 708.9 446.4 708.9 406Z"/><path d="M710.2 406C710.2 446.4 684.2 446.4 684.2 486.8H686.1C686.1 446.4 712 446.4 712 406Z"/><path d="M711.7 406C711.7 446.4 684.4 446.4 684.4 486.8H685.9C685.9 446.4 713.2 446.4 713.2 406Z"/><path d="M714.2 406C714.2 446.4 685.1 446.4 685.1 486.8H686.3C686.3 446.4 715.4 446.4 715.4 406Z"/><path d="M717.3 406C717.3 446.4 692.6 446.4 692.6 486.8H694.1C694.1 446.4 718.8 446.4 718.8 406Z"/><path d="M719.2 406C719.2 446.4 691.6 446.4 691.6 486.8H693.8C693.8 446.4 721.4 446.4 721.4 406Z"/><path d="M721.5 406C721.5 446.4 697.7 446.4 697.7 486.8H699.4C699.4 446.4 723.2 446.4 723.2 406Z"/></g><g stroke-width="0.18"><path d="M737.2 406C737.2 446.4 717.5 446.4 717.5 486.8H719C719 446.4 738.8 446.4 738.8 406Z"/><path d="M739.2 406C739.2 446.4 716.3 446.4 716.3 486.8H718.6C718.6 446.4 741.5 446.4 741.5 406Z"/><path d="M741.9 406C741.9 446.4 719.9 446.4 719.9 486.8H721.8C721.8 446.4 743.8 446.4 743.8 406Z"/><path d="M744.1 406C744.1 446.4 725.1 446.4 725.1 486.8H727.2C727.2 446.4 746.2 446.4 746.2 406Z"/><path d="M746.7 406C746.7 446.4 728.8 446.4 728.8 486.8H731.1C731.1 446.4 749 446.4 749 406Z"/><path d="M750 406C750 446.4 736.1 446.4 736.1 486.8H737.4C737.4 446.4 751.3 446.4 751.3 406Z"/><path d="M752.6 406C752.6 446.4 738.1 446.4 738.1 486.8H739.5C739.5 446.4 754 446.4 754 406Z"/><path d="M755.1 406C755.1 446.4 739.2 446.4 739.2 486.8H741.6C741.6 446.4 757.4 446.4 757.4 406Z"/></g><g stroke-width="0.18"><path d="M771.3 406C771.3 446.4 756.8 446.4 756.8 486.8H758.6C758.6 446.4 773.1 446.4 773.1 406Z"/><path d="M773.7 406C773.7 446.4 763.8 446.4 763.8 486.8H766C766 446.4 775.9 446.4 775.9 406Z"/><path d="M775 406C775 446.4 766.7 446.4 766.7 486.8H768.3C768.3 446.4 776.6 446.4 776.6 406Z"/><path d="M777.7 406C777.7 446.4 771.1 446.4 771.1 486.8H773.1C773.1 446.4 779.7 446.4 779.7 406Z"/><path d="M778.6 406C778.6 446.4 774.2 446.4 774.2 486.8H775.7C775.7 446.4 780.1 446.4 780.1 406Z"/><path d="M780.4 406C780.4 446.4 775 446.4 775 486.8H777.1C777.1 446.4 782.6 446.4 782.6 406Z"/><path d="M782.3 406C782.3 446.4 778.7 446.4 778.7 486.8H780.6C780.6 446.4 784.2 446.4 784.2 406Z"/><path d="M784 406C784 446.4 779.9 446.4 779.9 486.8H781.6C781.6 446.4 785.7 446.4 785.7 406Z"/></g><g stroke-width="0.18"><path d="M707.7 406C707.7 446.4 597 446.4 597 486.8H598.5C598.5 446.4 709.2 446.4 709.2 406Z"/><path d="M709.9 406C709.9 446.4 601.1 446.4 601.1 486.8H603.2C603.2 446.4 712 446.4 712 406Z"/><path d="M711.6 406C711.6 446.4 600.3 446.4 600.3 486.8H602.7C602.7 446.4 714 446.4 714 406Z"/><path d="M714.7 406C714.7 446.4 606 446.4 606 486.8H608C608 446.4 716.7 446.4 716.7 406Z"/><path d="M716.8 406C716.8 446.4 610.8 446.4 610.8 486.8H612.4C612.4 446.4 718.4 446.4 718.4 406Z"/><path d="M719.2 406C719.2 446.4 613.5 446.4 613.5 486.8H615.1C615.1 446.4 720.9 446.4 720.9 406Z"/></g><g stroke-width="0.18"><path d="M461.8 406C461.8 446.4 592.9 446.4 592.9 486.8H595.1C595.1 446.4 464 446.4 464 406Z"/><path d="M464.5 406C464.5 446.4 593.5 446.4 593.5 486.8H595C595 446.4 466 446.4 466 406Z"/><path d="M468 406C468 446.4 599.3 446.4 599.3 486.8H600.5C600.5 446.4 469.2 446.4 469.2 406Z"/><path d="M471 406C471 446.4 603.4 446.4 603.4 486.8H604.7C604.7 446.4 472.2 446.4 472.2 406Z"/><path d="M473.6 406C473.6 446.4 607 446.4 607 486.8H609.3C609.3 446.4 475.8 446.4 475.8 406Z"/><path d="M476.5 406C476.5 446.4 612.1 446.4 612.1 486.8H614.4C614.4 446.4 478.8 446.4 478.8 406Z"/></g><g stroke-width="0.18"><path d="M428.6 406C428.6 446.4 544.8 446.4 544.8 486.8H546.6C546.6 446.4 430.4 446.4 430.4 406Z"/><path d="M431.3 406C431.3 446.4 546.5 446.4 546.5 486.8H548.5C548.5 446.4 433.3 446.4 433.3 406Z"/><path d="M432.8 406C432.8 446.4 552.1 446.4 552.1 486.8H553.5C553.5 446.4 434.3 446.4 434.3 406Z"/><path d="M435.9 406C435.9 446.4 557.1 446.4 557.1 486.8H559.3C559.3 446.4 438 446.4 438 406Z"/><path d="M438.6 406C438.6 446.4 559.7 446.4 559.7 486.8H561C561 446.4 439.9 446.4 439.9 406Z"/><path d="M441.1 406C441.1 446.4 563.4 446.4 563.4 486.8H565.6C565.6 446.4 443.3 446.4 443.3 406Z"/></g></g><text x="198.2" y="301.1" class="nlat">1</text><text x="247.8" y="301.1" class="nlat">2</text><text x="294.4" y="301.1" class="nlat">3</text><text x="344.8" y="301.1" class="nlat">4</text><text x="394.1" y="301.1" class="nlat">5</text><text x="430.5" y="301.1" class="nlat">6</text><text x="462.4" y="301.1" class="nlat">7</text><text x="499.2" y="301.1" class="nlat">8</text><text x="538.1" y="301.1" class="nlat">9</text><text x="574.8" y="301.1" class="nlat">10</text><text x="608.3" y="301.1" class="nlat">11</text><text x="639.5" y="301.1" class="nlat">12</text><text x="669.6" y="301.1" class="nlat">13</text><text x="697" y="301.1" class="nlat">14</text><text x="724.1" y="301.1" class="nlat">15</text><text x="752.8" y="301.1" class="nlat">16</text><text x="779.2" y="301.1" class="nlat">17</text><circle cx="198.9" cy="376.5" r="10.6" fill="#fff"/><text x="198.9" y="379" class="npal">1</text><circle cx="248.8" cy="376.5" r="10.6" fill="#fff"/><text x="248.8" y="379" class="npal">2</text><circle cx="296.5" cy="376.5" r="10.6" fill="#fff"/><text x="296.5" y="379" class="npal">3</text><circle cx="347.3" cy="376.5" r="10.6" fill="#fff"/><text x="347.3" y="379" class="npal">4</text><circle cx="396.8" cy="376.5" r="10.6" fill="#fff"/><text x="396.8" y="379" class="npal">5</text><circle cx="434.6" cy="376.5" r="10.6" fill="#fff"/><text x="434.6" y="379" class="npal">6</text><circle cx="469" cy="376.5" r="10.6" fill="#fff"/><text x="469" y="379" class="npal">7</text><circle cx="511.4" cy="376.5" r="10.6" fill="#fff"/><text x="511.4" y="379" class="npal">8</text><circle cx="556" cy="376.5" r="10.6" fill="#fff"/><text x="556" y="379" class="npal">9</text><circle cx="603.1" cy="376.5" r="10.6" fill="#fff"/><text x="603.1" y="379" class="npal">10</text><circle cx="646.8" cy="376.5" r="10.6" fill="#fff"/><text x="646.8" y="379" class="npal">11</text><circle cx="681.2" cy="376.5" r="10.6" fill="#fff"/><text x="681.2" y="379" class="npal">12</text><circle cx="713.2" cy="376.5" r="10.6" fill="#fff"/><text x="713.2" y="379" class="npal">13</text><circle cx="745.9" cy="376.5" r="10.6" fill="#fff"/><text x="745.9" y="379" class="npal">14</text><circle cx="777" cy="376.5" r="10.6" fill="#fff"/><text x="777" y="379" class="npal">15</text><text x="210.8" y="509" class="nsat">1</text><text x="279.9" y="509" class="nsat">2</text><text x="344.5" y="509" class="nsat">3</text><text x="404.5" y="509" class="nsat">4</text><text x="456.4" y="509" class="nsat">5</text><text x="506.9" y="509" class="nsat">6</text><text x="557.3" y="509" class="nsat">7</text><text x="604.7" y="509" class="nsat">8</text><text x="647" y="509" class="nsat">9</text><text x="686.1" y="509" class="nsat">10</text><text x="728" y="509" class="nsat">11</text><text x="771.2" y="509" class="nsat">12</text><rect x="178.4" y="308.9" width="39.6" height="9" rx="4.5" fill="#fff" stroke="#2e2e2e" stroke-width="1.1"/><rect x="179.4" y="311.2" width="37.5" height="4.5" rx="2.3" fill="#f08457"/><rect x="228.2" y="308.9" width="39.2" height="9" rx="4.5" fill="#fff" stroke="#2e2e2e" stroke-width="1.1"/><rect x="229.3" y="311.2" width="37.1" height="4.5" rx="2.3" fill="#f08457"/><rect x="277.4" y="308.9" width="33.8" height="9" rx="4.5" fill="#fff" stroke="#2e2e2e" stroke-width="1.1"/><rect x="278.5" y="311.2" width="31.7" height="4.5" rx="2.3" fill="#f08457"/><rect x="322.1" y="308.9" width="45.5" height="9" rx="4.5" fill="#fff" stroke="#2e2e2e" stroke-width="1.1"/><rect x="323.1" y="311.2" width="43.4" height="4.5" rx="2.3" fill="#f08457"/><rect x="377.2" y="308.9" width="33.8" height="9" rx="4.5" fill="#fff" stroke="#2e2e2e" stroke-width="1.1"/><rect x="378.3" y="311.2" width="31.7" height="4.5" rx="2.3" fill="#f08457"/><rect x="420.8" y="308.9" width="19.5" height="9" rx="0" fill="#fff" stroke="#2e2e2e" stroke-width="1.1"/><rect x="421.3" y="311.2" width="18.4" height="4.5" rx="0" fill="#f08457"/><rect x="450.7" y="308.9" width="23.5" height="9" rx="4.5" fill="#fff" stroke="#2e2e2e" stroke-width="1.1"/><rect x="451.7" y="311.2" width="21.4" height="4.5" rx="2.3" fill="#f08457"/><rect x="484.2" y="308.9" width="30.2" height="9" rx="4.5" fill="#fff" stroke="#2e2e2e" stroke-width="1.1"/><rect x="485.2" y="311.2" width="28.1" height="4.5" rx="2.3" fill="#f08457"/><rect x="524" y="308.9" width="28.1" height="9" rx="4.5" fill="#fff" stroke="#2e2e2e" stroke-width="1.1"/><rect x="525.1" y="311.2" width="26" height="4.5" rx="2.3" fill="#f08457"/><rect x="561.8" y="308.9" width="26" height="9" rx="4.5" fill="#fff" stroke="#2e2e2e" stroke-width="1.1"/><rect x="562.8" y="311.2" width="23.9" height="4.5" rx="2.3" fill="#f08457"/><rect x="597.4" y="308.9" width="21.7" height="9" rx="4.5" fill="#fff" stroke="#2e2e2e" stroke-width="1.1"/><rect x="598.5" y="311.2" width="19.6" height="4.5" rx="2.3" fill="#f08457"/><rect x="629.4" y="308.9" width="20" height="9" rx="0" fill="#fff" stroke="#2e2e2e" stroke-width="1.1"/><rect x="630" y="311.2" width="18.9" height="4.5" rx="0" fill="#f08457"/><rect x="659.4" y="308.9" width="20.3" height="9" rx="0" fill="#fff" stroke="#2e2e2e" stroke-width="1.1"/><rect x="660" y="311.2" width="19.2" height="4.5" rx="0" fill="#f08457"/><rect x="689.3" y="308.9" width="15.3" height="9" rx="0" fill="#fff" stroke="#2e2e2e" stroke-width="1.1"/><rect x="689.9" y="311.2" width="14.2" height="4.5" rx="0" fill="#f08457"/><rect x="714.3" y="308.9" width="19.5" height="9" rx="0" fill="#fff" stroke="#2e2e2e" stroke-width="1.1"/><rect x="714.9" y="311.2" width="18.4" height="4.5" rx="0" fill="#f08457"/><rect x="743.8" y="308.9" width="17.8" height="9" rx="0" fill="#fff" stroke="#2e2e2e" stroke-width="1.1"/><rect x="744.4" y="311.2" width="16.7" height="4.5" rx="0" fill="#f08457"/><rect x="771.6" y="308.9" width="15" height="9" rx="0" fill="#fff" stroke="#2e2e2e" stroke-width="1.1"/><rect x="772.2" y="311.2" width="13.9" height="4.5" rx="0" fill="#f08457"/><rect x="178.4" y="397.2" width="41" height="9.2" rx="4.6" fill="#fff" stroke="#2e2e2e" stroke-width="1.1"/><rect x="179.4" y="399.5" width="38.9" height="4.7" rx="2.4" fill="#8a9ccf"/><rect x="229.4" y="397.2" width="38.8" height="9.2" rx="4.6" fill="#fff" stroke="#2e2e2e" stroke-width="1.1"/><rect x="230.4" y="399.5" width="36.7" height="4.7" rx="2.4" fill="#8a9ccf"/><rect x="278.2" y="397.2" width="36.7" height="9.2" rx="4.6" fill="#fff" stroke="#2e2e2e" stroke-width="1.1"/><rect x="279.2" y="399.5" width="34.6" height="4.7" rx="2.4" fill="#8a9ccf"/><rect x="324.6" y="397.2" width="45.5" height="9.2" rx="4.6" fill="#fff" stroke="#2e2e2e" stroke-width="1.1"/><rect x="325.6" y="399.5" width="43.4" height="4.7" rx="2.4" fill="#8a9ccf"/><rect x="380.1" y="397.2" width="33.5" height="9.2" rx="4.6" fill="#fff" stroke="#2e2e2e" stroke-width="1.1"/><rect x="381.1" y="399.5" width="31.4" height="4.7" rx="2.4" fill="#8a9ccf"/><rect x="423.6" y="397.2" width="22.1" height="9.2" rx="4.6" fill="#fff" stroke="#2e2e2e" stroke-width="1.1"/><rect x="424.6" y="399.5" width="20" height="4.7" rx="2.4" fill="#8a9ccf"/><rect x="455.7" y="397.2" width="26.7" height="9.2" rx="4.6" fill="#fff" stroke="#2e2e2e" stroke-width="1.1"/><rect x="456.7" y="399.5" width="24.6" height="4.7" rx="2.4" fill="#8a9ccf"/><rect x="492.7" y="397.2" width="37.4" height="9.2" rx="4.6" fill="#fff" stroke="#2e2e2e" stroke-width="1.1"/><rect x="493.7" y="399.5" width="35.3" height="4.7" rx="2.4" fill="#8a9ccf"/><rect x="540" y="397.2" width="32" height="9.2" rx="4.6" fill="#fff" stroke="#2e2e2e" stroke-width="1.1"/><rect x="541.1" y="399.5" width="29.9" height="4.7" rx="2.4" fill="#8a9ccf"/><rect x="582.8" y="397.2" width="40.6" height="9.2" rx="4.6" fill="#fff" stroke="#2e2e2e" stroke-width="1.1"/><rect x="583.9" y="399.5" width="38.5" height="4.7" rx="2.4" fill="#8a9ccf"/><rect x="633.4" y="397.2" width="26.7" height="9.2" rx="4.6" fill="#fff" stroke="#2e2e2e" stroke-width="1.1"/><rect x="634.5" y="399.5" width="24.6" height="4.7" rx="2.4" fill="#8a9ccf"/><rect x="670.1" y="397.2" width="22" height="9.2" rx="4.6" fill="#fff" stroke="#2e2e2e" stroke-width="1.1"/><rect x="671.2" y="399.5" width="19.9" height="4.7" rx="2.4" fill="#8a9ccf"/><rect x="702.1" y="397.2" width="22.1" height="9.2" rx="4.6" fill="#fff" stroke="#2e2e2e" stroke-width="1.1"/><rect x="703.2" y="399.5" width="20" height="4.7" rx="2.4" fill="#8a9ccf"/><rect x="734.2" y="397.2" width="23.2" height="9.2" rx="4.6" fill="#fff" stroke="#2e2e2e" stroke-width="1.1"/><rect x="735.3" y="399.5" width="21.1" height="4.7" rx="2.4" fill="#8a9ccf"/><rect x="767.4" y="397.2" width="19.2" height="9.2" rx="0" fill="#fff" stroke="#2e2e2e" stroke-width="1.1"/><rect x="768" y="399.5" width="18.1" height="4.7" rx="0" fill="#8a9ccf"/><rect x="178.4" y="486.4" width="64.9" height="9.7" rx="4.9" fill="#fff" stroke="#2e2e2e" stroke-width="1.1"/><rect x="179.4" y="488.6" width="62.8" height="5.2" rx="2.6" fill="#5dbb98"/><rect x="253.9" y="486.4" width="52.1" height="9.7" rx="4.9" fill="#fff" stroke="#2e2e2e" stroke-width="1.1"/><rect x="254.9" y="488.6" width="50" height="5.2" rx="2.6" fill="#5dbb98"/><rect x="316.6" y="486.4" width="55.9" height="9.7" rx="4.9" fill="#fff" stroke="#2e2e2e" stroke-width="1.1"/><rect x="317.6" y="488.6" width="53.8" height="5.2" rx="2.6" fill="#5dbb98"/><rect x="382.6" y="486.4" width="43.9" height="9.7" rx="4.9" fill="#fff" stroke="#2e2e2e" stroke-width="1.1"/><rect x="383.6" y="488.6" width="41.8" height="5.2" rx="2.6" fill="#5dbb98"/><rect x="436.6" y="486.4" width="39.6" height="9.7" rx="4.9" fill="#fff" stroke="#2e2e2e" stroke-width="1.1"/><rect x="437.6" y="488.6" width="37.5" height="5.2" rx="2.6" fill="#5dbb98"/><rect x="486.6" y="486.4" width="40.6" height="9.7" rx="4.9" fill="#fff" stroke="#2e2e2e" stroke-width="1.1"/><rect x="487.6" y="488.6" width="38.5" height="5.2" rx="2.6" fill="#5dbb98"/><rect x="538.2" y="486.4" width="38.1" height="9.7" rx="4.9" fill="#fff" stroke="#2e2e2e" stroke-width="1.1"/><rect x="539.3" y="488.6" width="36" height="5.2" rx="2.6" fill="#5dbb98"/><rect x="587.4" y="486.4" width="34.5" height="9.7" rx="4.9" fill="#fff" stroke="#2e2e2e" stroke-width="1.1"/><rect x="588.5" y="488.6" width="32.4" height="5.2" rx="2.6" fill="#5dbb98"/><rect x="632.8" y="486.4" width="28.4" height="9.7" rx="4.9" fill="#fff" stroke="#2e2e2e" stroke-width="1.1"/><rect x="633.8" y="488.6" width="26.3" height="5.2" rx="2.6" fill="#5dbb98"/><rect x="671.9" y="486.4" width="28.4" height="9.7" rx="4.9" fill="#fff" stroke="#2e2e2e" stroke-width="1.1"/><rect x="673" y="488.6" width="26.3" height="5.2" rx="2.6" fill="#5dbb98"/><rect x="711.1" y="486.4" width="33.8" height="9.7" rx="4.9" fill="#fff" stroke="#2e2e2e" stroke-width="1.1"/><rect x="712.2" y="488.6" width="31.7" height="5.2" rx="2.6" fill="#5dbb98"/><rect x="755.6" y="486.4" width="31" height="9.7" rx="4.9" fill="#fff" stroke="#2e2e2e" stroke-width="1.1"/><rect x="756.7" y="488.6" width="28.9" height="5.2" rx="2.6" fill="#5dbb98"/><text x="119.9" y="315.5" class="spc" textLength="42.4" lengthAdjust="spacingAndGlyphs" fill="#f07a52">Z.latifolia</text><text x="119" y="404.7" class="spc" textLength="48.4" lengthAdjust="spacingAndGlyphs" fill="#7485c4">Z.palustris</text><text x="120.9" y="495.1" class="spc" textLength="37.4" lengthAdjust="spacingAndGlyphs" fill="#55b892">O.sativa</text></g>
</svg>
</body></html>
